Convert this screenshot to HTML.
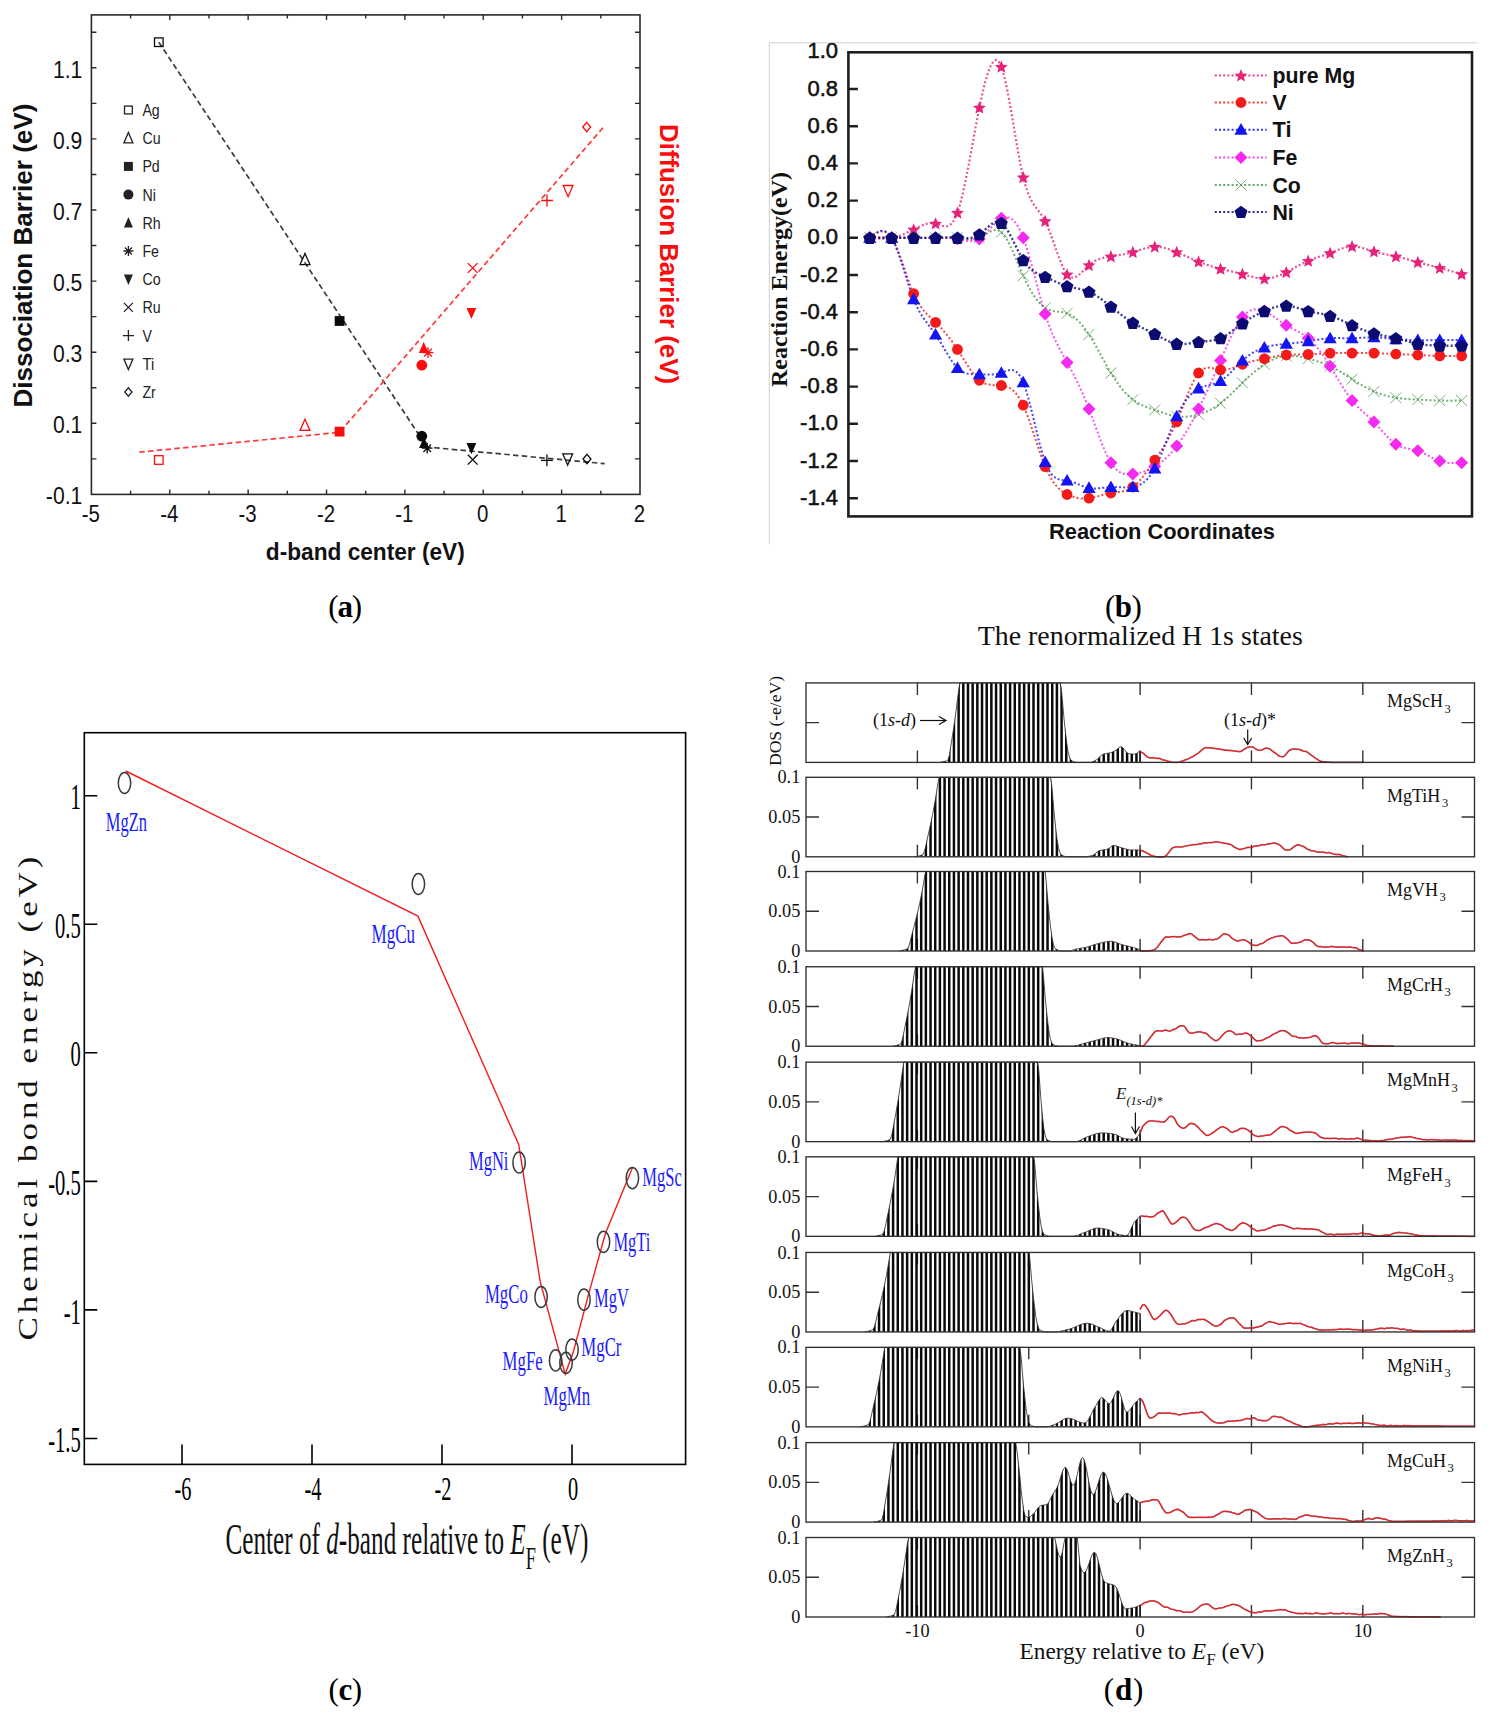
<!DOCTYPE html>
<html><head><meta charset="utf-8"><title>Figure</title>
<style>html,body{margin:0;padding:0;background:#fff;width:1494px;height:1715px;overflow:hidden}svg{display:block}</style>
</head><body>
<svg width="1494" height="1715" viewBox="0 0 1494 1715">
<rect width="1494" height="1715" fill="#fff"/>
<g id="pa">
<rect x="91.4" y="14.9" width="548.6" height="479.5" fill="none" stroke="#2a2a2a" stroke-width="1.6"/>
<path d="M130.59,494.4 v-3.7 M130.59,14.9 v3.7 M169.77,494.4 v-5 M169.77,14.9 v5 M208.96,494.4 v-3.7 M208.96,14.9 v3.7 M248.14,494.4 v-5 M248.14,14.9 v5 M287.33,494.4 v-3.7 M287.33,14.9 v3.7 M326.51,494.4 v-5 M326.51,14.9 v5 M365.7,494.4 v-3.7 M365.7,14.9 v3.7 M404.88,494.4 v-5 M404.88,14.9 v5 M444.07,494.4 v-3.7 M444.07,14.9 v3.7 M483.25,494.4 v-5 M483.25,14.9 v5 M522.44,494.4 v-3.7 M522.44,14.9 v3.7 M561.62,494.4 v-5 M561.62,14.9 v5 M600.81,494.4 v-3.7 M600.81,14.9 v3.7 M91.4,458.85 h5 M640,458.85 h-5 M91.4,423.3 h5 M640,423.3 h-5 M91.4,387.75 h5 M640,387.75 h-5 M91.4,352.2 h5 M640,352.2 h-5 M91.4,316.65 h5 M640,316.65 h-5 M91.4,281.1 h5 M640,281.1 h-5 M91.4,245.55 h5 M640,245.55 h-5 M91.4,210 h5 M640,210 h-5 M91.4,174.45 h5 M640,174.45 h-5 M91.4,138.9 h5 M640,138.9 h-5 M91.4,103.35 h5 M640,103.35 h-5 M91.4,67.8 h5 M640,67.8 h-5 M91.4,32.25 h5 M640,32.25 h-5 " stroke="#2a2a2a" stroke-width="1.4"/>
<text x="82.3" y="77.6" font-family="'Liberation Sans', sans-serif" font-size="24.3" text-anchor="end" fill="#111" textLength="29.39" lengthAdjust="spacingAndGlyphs">1.1</text>
<text x="82.3" y="148.7" font-family="'Liberation Sans', sans-serif" font-size="24.3" text-anchor="end" fill="#111" textLength="29.39" lengthAdjust="spacingAndGlyphs">0.9</text>
<text x="82.3" y="219.8" font-family="'Liberation Sans', sans-serif" font-size="24.3" text-anchor="end" fill="#111" textLength="29.39" lengthAdjust="spacingAndGlyphs">0.7</text>
<text x="82.3" y="290.9" font-family="'Liberation Sans', sans-serif" font-size="24.3" text-anchor="end" fill="#111" textLength="29.39" lengthAdjust="spacingAndGlyphs">0.5</text>
<text x="82.3" y="362" font-family="'Liberation Sans', sans-serif" font-size="24.3" text-anchor="end" fill="#111" textLength="29.39" lengthAdjust="spacingAndGlyphs">0.3</text>
<text x="82.3" y="433.1" font-family="'Liberation Sans', sans-serif" font-size="24.3" text-anchor="end" fill="#111" textLength="29.39" lengthAdjust="spacingAndGlyphs">0.1</text>
<text x="82.3" y="504.2" font-family="'Liberation Sans', sans-serif" font-size="24.3" text-anchor="end" fill="#111" textLength="36.43" lengthAdjust="spacingAndGlyphs">-0.1</text>
<text x="90.9" y="522.2" font-family="'Liberation Sans', sans-serif" font-size="23.5" text-anchor="middle" fill="#111" textLength="18.18" lengthAdjust="spacingAndGlyphs">-5</text>
<text x="169.27" y="522.2" font-family="'Liberation Sans', sans-serif" font-size="23.5" text-anchor="middle" fill="#111" textLength="18.18" lengthAdjust="spacingAndGlyphs">-4</text>
<text x="247.64" y="522.2" font-family="'Liberation Sans', sans-serif" font-size="23.5" text-anchor="middle" fill="#111" textLength="18.18" lengthAdjust="spacingAndGlyphs">-3</text>
<text x="326.01" y="522.2" font-family="'Liberation Sans', sans-serif" font-size="23.5" text-anchor="middle" fill="#111" textLength="18.18" lengthAdjust="spacingAndGlyphs">-2</text>
<text x="404.38" y="522.2" font-family="'Liberation Sans', sans-serif" font-size="23.5" text-anchor="middle" fill="#111" textLength="18.18" lengthAdjust="spacingAndGlyphs">-1</text>
<text x="482.75" y="522.2" font-family="'Liberation Sans', sans-serif" font-size="23.5" text-anchor="middle" fill="#111" textLength="11.37" lengthAdjust="spacingAndGlyphs">0</text>
<text x="561.12" y="522.2" font-family="'Liberation Sans', sans-serif" font-size="23.5" text-anchor="middle" fill="#111" textLength="11.37" lengthAdjust="spacingAndGlyphs">1</text>
<text x="639.49" y="522.2" font-family="'Liberation Sans', sans-serif" font-size="23.5" text-anchor="middle" fill="#111" textLength="11.37" lengthAdjust="spacingAndGlyphs">2</text>
<text transform="translate(31.6,255.6) rotate(-90)" text-anchor="middle" font-family="'Liberation Sans', sans-serif" font-weight="bold" font-size="25" fill="#111" textLength="304" lengthAdjust="spacingAndGlyphs">Dissociation Barrier (eV)</text>
<text transform="translate(660,254) rotate(90)" text-anchor="middle" font-family="'Liberation Sans', sans-serif" font-weight="bold" font-size="25" fill="#fa0d0d" textLength="260" lengthAdjust="spacingAndGlyphs">Diffusion Barrier (eV)</text>
<text x="365.3" y="559.5" font-family="'Liberation Sans', sans-serif" font-size="24" font-weight="bold" text-anchor="middle" fill="#111" textLength="199" lengthAdjust="spacingAndGlyphs">d-band center (eV)</text>
<rect x="124.5" y="106.1" width="7.8" height="7.8" fill="none" stroke="#222" stroke-width="1.3"/>
<text x="142.4" y="115.9" font-family="'Liberation Sans', sans-serif" font-size="16.5" fill="#222" textLength="17.36" lengthAdjust="spacingAndGlyphs">Ag</text>
<polygon points="128.4,132.5 132.9,142.9 123.9,142.9" fill="none" stroke="#222" stroke-width="1.3" stroke-linejoin="miter"/>
<text x="142.4" y="144.1" font-family="'Liberation Sans', sans-serif" font-size="16.5" fill="#222" textLength="18.14" lengthAdjust="spacingAndGlyphs">Cu</text>
<rect x="123.9" y="161.9" width="9" height="9" fill="#222"/>
<text x="142.4" y="172.3" font-family="'Liberation Sans', sans-serif" font-size="16.5" fill="#222" textLength="17.36" lengthAdjust="spacingAndGlyphs">Pd</text>
<circle cx="128.4" cy="194.6" r="5" fill="#222"/>
<text x="142.4" y="200.5" font-family="'Liberation Sans', sans-serif" font-size="16.5" fill="#222" textLength="13.4" lengthAdjust="spacingAndGlyphs">Ni</text>
<polygon points="128.4,217.1 132.9,227.5 123.9,227.5" fill="#222"/>
<text x="142.4" y="228.7" font-family="'Liberation Sans', sans-serif" font-size="16.5" fill="#222" textLength="18.14" lengthAdjust="spacingAndGlyphs">Rh</text>
<path d="M123.4,251 L133.4,251 M124.86,247.46 L131.94,254.54 M128.4,246 L128.4,256 M131.94,247.46 L124.86,254.54 " stroke="#222" stroke-width="1.3"/>
<text x="142.4" y="256.9" font-family="'Liberation Sans', sans-serif" font-size="16.5" fill="#222" textLength="16.56" lengthAdjust="spacingAndGlyphs">Fe</text>
<polygon points="128.4,284.9 132.9,274.5 123.9,274.5" fill="#222"/>
<text x="142.4" y="285.1" font-family="'Liberation Sans', sans-serif" font-size="16.5" fill="#222" textLength="18.14" lengthAdjust="spacingAndGlyphs">Co</text>
<path d="M123.9,302.9 L132.9,311.9 M123.9,311.9 L132.9,302.9" stroke="#222" stroke-width="1.3"/>
<text x="142.4" y="313.3" font-family="'Liberation Sans', sans-serif" font-size="16.5" fill="#222" textLength="18.14" lengthAdjust="spacingAndGlyphs">Ru</text>
<path d="M122.9,335.6 L133.9,335.6 M128.4,330.1 L128.4,341.1" stroke="#222" stroke-width="1.3"/>
<text x="142.4" y="341.5" font-family="'Liberation Sans', sans-serif" font-size="16.5" fill="#222" textLength="9.46" lengthAdjust="spacingAndGlyphs">V</text>
<polygon points="128.4,369.5 132.9,359.1 123.9,359.1" fill="none" stroke="#222" stroke-width="1.3"/>
<text x="142.4" y="369.7" font-family="'Liberation Sans', sans-serif" font-size="16.5" fill="#222" textLength="11.82" lengthAdjust="spacingAndGlyphs">Ti</text>
<polygon points="128.4,387.73 132.03,392 128.4,396.27 124.77,392" fill="none" stroke="#222" stroke-width="1.3"/>
<text x="142.4" y="397.9" font-family="'Liberation Sans', sans-serif" font-size="16.5" fill="#222" textLength="13.39" lengthAdjust="spacingAndGlyphs">Zr</text>
<path d="M158.8,42.2 L427,447 L604.7,463.7" fill="none" stroke="#3c3c3c" stroke-width="1.7" stroke-dasharray="5.5 3.3"/>
<path d="M139.3,452.2 L339.6,432.3 L604.3,126.2" fill="none" stroke="#ff3a3a" stroke-width="1.7" stroke-dasharray="5.5 3.3"/>
<rect x="154.5" y="37.9" width="8.6" height="8.6" fill="none" stroke="#0a0a0a" stroke-width="1.3"/>
<polygon points="305,253.4 309.9,264.6 300.1,264.6" fill="none" stroke="#0a0a0a" stroke-width="1.3" stroke-linejoin="miter"/>
<rect x="334.7" y="316.1" width="9.8" height="9.8" fill="#0a0a0a"/>
<circle cx="421.8" cy="436.2" r="5.4" fill="#0a0a0a"/>
<polygon points="424,436.9 428.9,448.1 419.1,448.1" fill="#0a0a0a"/>
<path d="M421.8,448.2 L432.6,448.2 M423.38,444.38 L431.02,452.02 M427.2,442.8 L427.2,453.6 M431.02,444.38 L423.38,452.02 " stroke="#0a0a0a" stroke-width="1.3"/>
<polygon points="471.4,454.3 476.3,443.1 466.5,443.1" fill="#0a0a0a"/>
<path d="M467.8,454.8 L477.6,464.6 M467.8,464.6 L477.6,454.8" stroke="#0a0a0a" stroke-width="1.3"/>
<path d="M541,460.3 L552.8,460.3 M546.9,454.4 L546.9,466.2" stroke="#0a0a0a" stroke-width="1.3"/>
<polygon points="567.7,465.1 572.6,453.9 562.8,453.9" fill="none" stroke="#0a0a0a" stroke-width="1.3"/>
<polygon points="587,454.35 590.96,459 587,463.65 583.04,459" fill="none" stroke="#0a0a0a" stroke-width="1.3"/>
<rect x="154.5" y="455.7" width="8.6" height="8.6" fill="none" stroke="#fa0d0d" stroke-width="1.3"/>
<polygon points="305,419.2 309.9,430.4 300.1,430.4" fill="none" stroke="#fa0d0d" stroke-width="1.3" stroke-linejoin="miter"/>
<rect x="334.7" y="426.7" width="9.8" height="9.8" fill="#fa0d0d"/>
<circle cx="421.8" cy="365.2" r="5.4" fill="#fa0d0d"/>
<polygon points="423.7,341.7 428.6,352.9 418.8,352.9" fill="#fa0d0d"/>
<path d="M422.6,352.6 L433.4,352.6 M424.18,348.78 L431.82,356.42 M428,347.2 L428,358 M431.82,348.78 L424.18,356.42 " stroke="#fa0d0d" stroke-width="1.3"/>
<polygon points="471.4,319.1 476.3,307.9 466.5,307.9" fill="#fa0d0d"/>
<path d="M467.8,263.1 L477.6,272.9 M467.8,272.9 L477.6,263.1" stroke="#fa0d0d" stroke-width="1.3"/>
<path d="M541.1,200.5 L552.9,200.5 M547,194.6 L547,206.4" stroke="#fa0d0d" stroke-width="1.3"/>
<polygon points="568.1,196.7 573,185.5 563.2,185.5" fill="none" stroke="#fa0d0d" stroke-width="1.3"/>
<polygon points="586.7,122.34 590.66,127 586.7,131.66 582.74,127" fill="none" stroke="#fa0d0d" stroke-width="1.3"/>
<text x="345.2" y="617.3" text-anchor="middle" font-family="'Liberation Serif', serif" font-size="31" fill="#000" textLength="34" lengthAdjust="spacing">(<tspan font-weight="bold">a</tspan>)</text>
</g>
<g id="pb">
<path d="M769.3,544.6 V42.8 H1477" fill="none" stroke="#cfcfcf" stroke-width="1"/>
<rect x="848.4" y="52.3" width="623.6" height="464.1" fill="none" stroke="#1e1e1e" stroke-width="2.6"/>
<path d="M848.4,498.2 h9.5 M848.4,461 h9.5 M848.4,423.8 h9.5 M848.4,386.6 h9.5 M848.4,349.4 h9.5 M848.4,312.2 h9.5 M848.4,275 h9.5 M848.4,237.8 h9.5 M848.4,200.6 h9.5 M848.4,163.4 h9.5 M848.4,126.2 h9.5 M848.4,89 h9.5 " stroke="#1e1e1e" stroke-width="2.4"/>
<text x="838" y="504.8" font-family="'Liberation Sans', sans-serif" font-size="22" text-anchor="end" fill="#111" textLength="37.91" lengthAdjust="spacingAndGlyphs" stroke="#111" stroke-width="0.55">-1.4</text>
<text x="838" y="467.6" font-family="'Liberation Sans', sans-serif" font-size="22" text-anchor="end" fill="#111" textLength="37.91" lengthAdjust="spacingAndGlyphs" stroke="#111" stroke-width="0.55">-1.2</text>
<text x="838" y="430.4" font-family="'Liberation Sans', sans-serif" font-size="22" text-anchor="end" fill="#111" textLength="37.91" lengthAdjust="spacingAndGlyphs" stroke="#111" stroke-width="0.55">-1.0</text>
<text x="838" y="393.2" font-family="'Liberation Sans', sans-serif" font-size="22" text-anchor="end" fill="#111" textLength="37.91" lengthAdjust="spacingAndGlyphs" stroke="#111" stroke-width="0.55">-0.8</text>
<text x="838" y="356" font-family="'Liberation Sans', sans-serif" font-size="22" text-anchor="end" fill="#111" textLength="37.91" lengthAdjust="spacingAndGlyphs" stroke="#111" stroke-width="0.55">-0.6</text>
<text x="838" y="318.8" font-family="'Liberation Sans', sans-serif" font-size="22" text-anchor="end" fill="#111" textLength="37.91" lengthAdjust="spacingAndGlyphs" stroke="#111" stroke-width="0.55">-0.4</text>
<text x="838" y="281.6" font-family="'Liberation Sans', sans-serif" font-size="22" text-anchor="end" fill="#111" textLength="37.91" lengthAdjust="spacingAndGlyphs" stroke="#111" stroke-width="0.55">-0.2</text>
<text x="838" y="244.4" font-family="'Liberation Sans', sans-serif" font-size="22" text-anchor="end" fill="#111" textLength="30.58" lengthAdjust="spacingAndGlyphs" stroke="#111" stroke-width="0.55">0.0</text>
<text x="838" y="207.2" font-family="'Liberation Sans', sans-serif" font-size="22" text-anchor="end" fill="#111" textLength="30.58" lengthAdjust="spacingAndGlyphs" stroke="#111" stroke-width="0.55">0.2</text>
<text x="838" y="170" font-family="'Liberation Sans', sans-serif" font-size="22" text-anchor="end" fill="#111" textLength="30.58" lengthAdjust="spacingAndGlyphs" stroke="#111" stroke-width="0.55">0.4</text>
<text x="838" y="132.8" font-family="'Liberation Sans', sans-serif" font-size="22" text-anchor="end" fill="#111" textLength="30.58" lengthAdjust="spacingAndGlyphs" stroke="#111" stroke-width="0.55">0.6</text>
<text x="838" y="95.6" font-family="'Liberation Sans', sans-serif" font-size="22" text-anchor="end" fill="#111" textLength="30.58" lengthAdjust="spacingAndGlyphs" stroke="#111" stroke-width="0.55">0.8</text>
<text x="838" y="58.4" font-family="'Liberation Sans', sans-serif" font-size="22" text-anchor="end" fill="#111" textLength="30.58" lengthAdjust="spacingAndGlyphs" stroke="#111" stroke-width="0.55">1.0</text>
<text transform="translate(786.5,279.5) rotate(-90)" text-anchor="middle" font-family="'Liberation Serif', serif" font-weight="bold" font-size="23" fill="#111" textLength="215" lengthAdjust="spacingAndGlyphs">Reaction Energy(eV)</text>
<text x="1162" y="538.8" font-family="'Liberation Sans', sans-serif" font-size="21.5" font-weight="bold" text-anchor="middle" fill="#111" textLength="226" lengthAdjust="spacingAndGlyphs">Reaction Coordinates</text>
<path d="M869.8,237.8 L872.54,237.8 L875.28,237.81 L878.02,237.81 L880.76,237.81 L883.5,237.81 L886.24,237.81 L888.98,237.81 L891.72,237.8 L894.46,237.79 L897.2,237.78 L899.94,237.78 L902.68,237.77 L905.42,237.77 L908.16,237.77 L910.9,237.78 L913.64,237.8 L916.38,237.83 L919.12,237.86 L921.86,237.89 L924.6,237.91 L927.34,237.92 L930.08,237.9 L932.82,237.87 L935.56,237.8 L938.3,237.7 L941.04,237.58 L943.78,237.48 L946.52,237.4 L949.26,237.37 L952,237.41 L954.74,237.55 L957.48,237.8 L960.22,238.17 L962.96,238.6 L965.7,239.01 L968.44,239.3 L971.18,239.41 L973.92,239.25 L976.66,238.74 L979.4,237.8 L982.14,236.4 L984.88,234.72 L987.62,233 L990.36,231.49 L993.1,230.41 L995.84,230.02 L998.58,230.54 L1001.32,232.22 L1004.06,235.21 L1006.8,239.37 L1009.54,244.46 L1012.28,250.24 L1015.02,256.5 L1017.76,262.98 L1020.5,269.48 L1023.24,275.74 L1025.98,281.59 L1028.72,286.95 L1031.46,291.81 L1034.2,296.15 L1036.94,299.96 L1039.68,303.2 L1042.42,305.86 L1045.16,307.92 L1047.9,309.39 L1050.64,310.36 L1053.38,310.98 L1056.12,311.37 L1058.86,311.67 L1061.6,312 L1064.34,312.51 L1067.08,313.32 L1069.82,314.53 L1072.56,316.18 L1075.3,318.24 L1078.04,320.7 L1080.78,323.58 L1083.52,326.84 L1086.26,330.49 L1089,334.52 L1091.74,338.91 L1094.48,343.58 L1097.22,348.46 L1099.96,353.46 L1102.7,358.5 L1105.44,363.49 L1108.18,368.36 L1110.92,373.02 L1113.66,377.4 L1116.4,381.49 L1119.14,385.28 L1121.88,388.77 L1124.62,391.95 L1127.36,394.82 L1130.1,397.38 L1132.84,399.62 L1135.58,401.55 L1138.32,403.21 L1141.06,404.63 L1143.8,405.87 L1146.54,406.97 L1149.28,407.97 L1152.02,408.91 L1154.76,409.85 L1157.5,410.81 L1160.24,411.79 L1162.98,412.74 L1165.72,413.66 L1168.46,414.5 L1171.2,415.25 L1173.94,415.88 L1176.68,416.36 L1179.42,416.67 L1182.16,416.82 L1184.9,416.8 L1187.64,416.62 L1190.38,416.3 L1193.12,415.84 L1195.86,415.23 L1198.6,414.5 L1201.34,413.64 L1204.08,412.64 L1206.82,411.51 L1209.56,410.22 L1212.3,408.76 L1215.04,407.14 L1217.78,405.33 L1220.52,403.34 L1223.26,401.15 L1226,398.8 L1228.74,396.31 L1231.48,393.71 L1234.22,391.04 L1236.96,388.32 L1239.7,385.59 L1242.44,382.88 L1245.18,380.22 L1247.92,377.62 L1250.66,375.1 L1253.4,372.68 L1256.14,370.38 L1258.88,368.2 L1261.62,366.16 L1264.36,364.28 L1267.1,362.57 L1269.84,361.05 L1272.58,359.7 L1275.32,358.55 L1278.06,357.59 L1280.8,356.82 L1283.54,356.26 L1286.28,355.91 L1289.02,355.76 L1291.76,355.81 L1294.5,356.01 L1297.24,356.36 L1299.98,356.83 L1302.72,357.39 L1305.46,358.02 L1308.2,358.7 L1310.94,359.41 L1313.68,360.15 L1316.42,360.95 L1319.16,361.81 L1321.9,362.74 L1324.64,363.77 L1327.38,364.89 L1330.12,366.14 L1332.86,367.51 L1335.6,368.99 L1338.34,370.57 L1341.08,372.21 L1343.82,373.92 L1346.56,375.65 L1349.3,377.41 L1352.04,379.16 L1354.78,380.89 L1357.52,382.59 L1360.26,384.25 L1363,385.84 L1365.74,387.37 L1368.48,388.82 L1371.22,390.18 L1373.96,391.44 L1376.7,392.58 L1379.44,393.61 L1382.18,394.54 L1384.92,395.36 L1387.66,396.1 L1390.4,396.73 L1393.14,397.29 L1395.88,397.76 L1398.62,398.16 L1401.36,398.49 L1404.1,398.76 L1406.84,398.98 L1409.58,399.17 L1412.32,399.34 L1415.06,399.48 L1417.8,399.62 L1420.54,399.76 L1423.28,399.9 L1426.02,400.03 L1428.76,400.16 L1431.5,400.28 L1434.24,400.39 L1436.98,400.48 L1439.72,400.55 L1442.46,400.6 L1445.2,400.63 L1447.94,400.64 L1450.68,400.64 L1453.42,400.63 L1456.16,400.61 L1458.9,400.58 L1461.64,400.55" fill="none" stroke="#4c9a4c" stroke-width="2.0" stroke-dasharray="2 2.2" opacity="0.8"/>
<path d="M869.8,237.8 L872.54,237.8 L875.28,237.8 L878.02,237.81 L880.76,237.81 L883.5,237.81 L886.24,237.81 L888.98,237.8 L891.72,237.8 L894.46,237.8 L897.2,237.79 L899.94,237.79 L902.68,237.78 L905.42,237.78 L908.16,237.78 L910.9,237.79 L913.64,237.8 L916.38,237.82 L919.12,237.83 L921.86,237.85 L924.6,237.86 L927.34,237.87 L930.08,237.86 L932.82,237.84 L935.56,237.8 L938.3,237.74 L941.04,237.69 L943.78,237.66 L946.52,237.68 L949.26,237.77 L952,237.96 L954.74,238.27 L957.48,238.73 L960.22,239.33 L962.96,239.99 L965.7,240.6 L968.44,241.04 L971.18,241.21 L973.92,240.98 L976.66,240.25 L979.4,238.92 L982.14,236.9 L984.88,234.35 L987.62,231.45 L990.36,228.39 L993.1,225.36 L995.84,222.53 L998.58,220.11 L1001.32,218.27 L1004.06,217.19 L1006.8,216.96 L1009.54,217.66 L1012.28,219.36 L1015.02,222.15 L1017.76,226.1 L1020.5,231.29 L1023.24,237.8 L1025.98,245.64 L1028.72,254.56 L1031.46,264.28 L1034.2,274.47 L1036.94,284.86 L1039.68,295.12 L1042.42,304.95 L1045.16,314.06 L1047.9,322.21 L1050.64,329.48 L1053.38,336 L1056.12,341.92 L1058.86,347.38 L1061.6,352.52 L1064.34,357.49 L1067.08,362.42 L1069.82,367.45 L1072.56,372.62 L1075.3,377.98 L1078.04,383.57 L1080.78,389.41 L1083.52,395.56 L1086.26,402.05 L1089,408.92 L1091.74,416.17 L1094.48,423.64 L1097.22,431.16 L1099.96,438.54 L1102.7,445.58 L1105.44,452.11 L1108.18,457.93 L1110.92,462.86 L1113.66,466.76 L1116.4,469.71 L1119.14,471.82 L1121.88,473.22 L1124.62,474.01 L1127.36,474.33 L1130.1,474.29 L1132.84,474.02 L1135.58,473.61 L1138.32,473.07 L1141.06,472.39 L1143.8,471.57 L1146.54,470.59 L1149.28,469.44 L1152.02,468.1 L1154.76,466.58 L1157.5,464.85 L1160.24,462.92 L1162.98,460.75 L1165.72,458.35 L1168.46,455.7 L1171.2,452.78 L1173.94,449.59 L1176.68,446.12 L1179.42,442.35 L1182.16,438.3 L1184.9,433.98 L1187.64,429.41 L1190.38,424.61 L1193.12,419.58 L1195.86,414.35 L1198.6,408.92 L1201.34,403.32 L1204.08,397.56 L1206.82,391.66 L1209.56,385.63 L1212.3,379.49 L1215.04,373.25 L1217.78,366.94 L1220.52,360.56 L1223.26,354.15 L1226,347.81 L1228.74,341.63 L1231.48,335.73 L1234.22,330.21 L1236.96,325.19 L1239.7,320.76 L1242.44,317.04 L1245.18,314.1 L1247.92,311.91 L1250.66,310.41 L1253.4,309.54 L1256.14,309.24 L1258.88,309.43 L1261.62,310.07 L1264.36,311.08 L1267.1,312.41 L1269.84,314 L1272.58,315.77 L1275.32,317.66 L1278.06,319.62 L1280.8,321.58 L1283.54,323.46 L1286.28,325.22 L1289.02,326.81 L1291.76,328.26 L1294.5,329.67 L1297.24,331.08 L1299.98,332.58 L1302.72,334.22 L1305.46,336.09 L1308.2,338.24 L1310.94,340.73 L1313.68,343.55 L1316.42,346.69 L1319.16,350.1 L1321.9,353.78 L1324.64,357.69 L1327.38,361.82 L1330.12,366.14 L1332.86,370.62 L1335.6,375.18 L1338.34,379.78 L1341.08,384.32 L1343.82,388.74 L1346.56,392.96 L1349.3,396.93 L1352.04,400.55 L1354.78,403.79 L1357.52,406.7 L1360.26,409.37 L1363,411.88 L1365.74,414.31 L1368.48,416.74 L1371.22,419.26 L1373.96,421.94 L1376.7,424.84 L1379.44,427.9 L1382.18,431.02 L1384.92,434.11 L1387.66,437.07 L1390.4,439.82 L1393.14,442.24 L1395.88,444.26 L1398.62,445.81 L1401.36,446.95 L1404.1,447.78 L1406.84,448.41 L1409.58,448.92 L1412.32,449.42 L1415.06,450.01 L1417.8,450.77 L1420.54,451.79 L1423.28,453.01 L1426.02,454.39 L1428.76,455.83 L1431.5,457.28 L1434.24,458.68 L1436.98,459.94 L1439.72,461 L1442.46,461.81 L1445.2,462.4 L1447.94,462.78 L1450.68,462.99 L1453.42,463.08 L1456.16,463.06 L1458.9,462.98 L1461.64,462.86" fill="none" stroke="#f52af0" stroke-width="2.0" stroke-dasharray="2 2.2" opacity="0.8"/>
<path d="M869.8,237.8 L872.54,238.05 L875.28,238.27 L878.02,238.44 L880.76,238.55 L883.5,238.56 L886.24,238.46 L888.98,238.21 L891.72,237.8 L894.46,237.21 L897.2,236.45 L899.94,235.54 L902.68,234.51 L905.42,233.36 L908.16,232.11 L910.9,230.8 L913.64,229.43 L916.38,228.03 L919.12,226.68 L921.86,225.43 L924.6,224.37 L927.34,223.57 L930.08,223.11 L932.82,223.05 L935.56,223.48 L938.3,224.38 L941.04,225.44 L943.78,226.25 L946.52,226.42 L949.26,225.55 L952,223.24 L954.74,219.09 L957.48,212.69 L960.22,203.8 L962.96,192.75 L965.7,180 L968.44,166.04 L971.18,151.35 L973.92,136.39 L976.66,121.65 L979.4,107.6 L982.14,94.69 L984.88,83.31 L987.62,73.79 L990.36,66.5 L993.1,61.79 L995.84,60.02 L998.58,61.53 L1001.32,66.68 L1004.06,75.62 L1006.8,87.69 L1009.54,102.03 L1012.28,117.76 L1015.02,134.02 L1017.76,149.95 L1020.5,164.68 L1023.24,177.35 L1025.98,187.32 L1028.72,194.91 L1031.46,200.67 L1034.2,205.13 L1036.94,208.86 L1039.68,212.39 L1042.42,216.27 L1045.16,221.06 L1047.9,227.13 L1050.64,234.23 L1053.38,241.92 L1056.12,249.78 L1058.86,257.39 L1061.6,264.32 L1064.34,270.15 L1067.08,274.44 L1069.82,276.9 L1072.56,277.71 L1075.3,277.18 L1078.04,275.61 L1080.78,273.32 L1083.52,270.6 L1086.26,267.78 L1089,265.14 L1091.74,262.95 L1094.48,261.19 L1097.22,259.82 L1099.96,258.75 L1102.7,257.94 L1105.44,257.32 L1108.18,256.83 L1110.92,256.4 L1113.66,255.98 L1116.4,255.55 L1119.14,255.11 L1121.88,254.62 L1124.62,254.1 L1127.36,253.51 L1130.1,252.86 L1132.84,252.12 L1135.58,251.3 L1138.32,250.44 L1141.06,249.56 L1143.8,248.74 L1146.54,247.99 L1149.28,247.38 L1152.02,246.94 L1154.76,246.73 L1157.5,246.77 L1160.24,247.04 L1162.98,247.53 L1165.72,248.19 L1168.46,249.02 L1171.2,249.96 L1173.94,251.01 L1176.68,252.12 L1179.42,253.28 L1182.16,254.47 L1184.9,255.68 L1187.64,256.9 L1190.38,258.11 L1193.12,259.31 L1195.86,260.48 L1198.6,261.61 L1201.34,262.69 L1204.08,263.73 L1206.82,264.71 L1209.56,265.64 L1212.3,266.52 L1215.04,267.35 L1217.78,268.13 L1220.52,268.86 L1223.26,269.54 L1226,270.18 L1228.74,270.8 L1231.48,271.42 L1234.22,272.03 L1236.96,272.67 L1239.7,273.35 L1242.44,274.07 L1245.18,274.85 L1247.92,275.65 L1250.66,276.44 L1253.4,277.17 L1256.14,277.8 L1258.88,278.3 L1261.62,278.62 L1264.36,278.72 L1267.1,278.57 L1269.84,278.19 L1272.58,277.6 L1275.32,276.82 L1278.06,275.86 L1280.8,274.76 L1283.54,273.54 L1286.28,272.21 L1289.02,270.8 L1291.76,269.34 L1294.5,267.85 L1297.24,266.36 L1299.98,264.89 L1302.72,263.46 L1305.46,262.12 L1308.2,260.86 L1310.94,259.73 L1313.68,258.69 L1316.42,257.73 L1319.16,256.81 L1321.9,255.91 L1324.64,255 L1327.38,254.05 L1330.12,253.05 L1332.86,251.98 L1335.6,250.86 L1338.34,249.77 L1341.08,248.74 L1343.82,247.84 L1346.56,247.1 L1349.3,246.59 L1352.04,246.36 L1354.78,246.43 L1357.52,246.77 L1360.26,247.34 L1363,248.07 L1365.74,248.91 L1368.48,249.81 L1371.22,250.71 L1373.96,251.56 L1376.7,252.33 L1379.44,253.01 L1382.18,253.62 L1384.92,254.19 L1387.66,254.73 L1390.4,255.27 L1393.14,255.82 L1395.88,256.4 L1398.62,257.03 L1401.36,257.7 L1404.1,258.41 L1406.84,259.14 L1409.58,259.89 L1412.32,260.65 L1415.06,261.41 L1417.8,262.17 L1420.54,262.91 L1423.28,263.63 L1426.02,264.35 L1428.76,265.06 L1431.5,265.77 L1434.24,266.49 L1436.98,267.2 L1439.72,267.93 L1442.46,268.67 L1445.2,269.42 L1447.94,270.18 L1450.68,270.95 L1453.42,271.72 L1456.16,272.5 L1458.9,273.29 L1461.64,274.07" fill="none" stroke="#e6237b" stroke-width="2.2" stroke-dasharray="2 2.2" opacity="0.8"/>
<path d="M869.8,237.8 L872.54,235.73 L875.28,233.86 L878.02,232.39 L880.76,231.5 L883.5,231.4 L886.24,232.29 L888.98,234.36 L891.72,237.8 L894.46,242.73 L897.2,248.91 L899.94,256 L902.68,263.67 L905.42,271.6 L908.16,279.45 L910.9,286.89 L913.64,293.6 L916.38,299.32 L919.12,304.13 L921.86,308.18 L924.6,311.62 L927.34,314.61 L930.08,317.31 L932.82,319.86 L935.56,322.43 L938.3,325.14 L941.04,328.02 L943.78,331.08 L946.52,334.34 L949.26,337.79 L952,341.44 L954.74,345.31 L957.48,349.4 L960.22,353.7 L962.96,358.11 L965.7,362.51 L968.44,366.78 L971.18,370.82 L973.92,374.49 L976.66,377.68 L979.4,380.28 L982.14,382.2 L984.88,383.52 L987.62,384.36 L990.36,384.84 L993.1,385.07 L995.84,385.18 L998.58,385.28 L1001.32,385.48 L1004.06,385.92 L1006.8,386.69 L1009.54,387.93 L1012.28,389.75 L1015.02,392.27 L1017.76,395.6 L1020.5,399.87 L1023.24,405.2 L1025.98,411.63 L1028.72,418.97 L1031.46,426.93 L1034.2,435.24 L1036.94,443.64 L1039.68,451.84 L1042.42,459.58 L1045.16,466.58 L1047.9,472.63 L1050.64,477.76 L1053.38,482.07 L1056.12,485.65 L1058.86,488.58 L1061.6,490.97 L1064.34,492.91 L1067.08,494.48 L1069.82,495.77 L1072.56,496.81 L1075.3,497.59 L1078.04,498.14 L1080.78,498.47 L1083.52,498.58 L1086.26,498.49 L1089,498.2 L1091.74,497.74 L1094.48,497.13 L1097.22,496.43 L1099.96,495.68 L1102.7,494.91 L1105.44,494.18 L1108.18,493.53 L1110.92,492.99 L1113.66,492.6 L1116.4,492.28 L1119.14,491.95 L1121.88,491.52 L1124.62,490.9 L1127.36,490.01 L1130.1,488.75 L1132.84,487.04 L1135.58,484.82 L1138.32,482.13 L1141.06,479.04 L1143.8,475.63 L1146.54,471.95 L1149.28,468.09 L1152.02,464.1 L1154.76,460.07 L1157.5,456.03 L1160.24,451.94 L1162.98,447.71 L1165.72,443.28 L1168.46,438.56 L1171.2,433.48 L1173.94,427.97 L1176.68,421.94 L1179.42,415.38 L1182.16,408.46 L1184.9,401.44 L1187.64,394.54 L1190.38,388.02 L1193.12,382.09 L1195.86,377.02 L1198.6,373.02 L1201.34,370.28 L1204.08,368.64 L1206.82,367.88 L1209.56,367.8 L1212.3,368.18 L1215.04,368.79 L1217.78,369.42 L1220.52,369.86 L1223.26,369.93 L1226,369.65 L1228.74,369.09 L1231.48,368.31 L1234.22,367.37 L1236.96,366.34 L1239.7,365.29 L1242.44,364.28 L1245.18,363.36 L1247.92,362.53 L1250.66,361.78 L1253.4,361.09 L1256.14,360.45 L1258.88,359.85 L1261.62,359.27 L1264.36,358.7 L1267.1,358.13 L1269.84,357.57 L1272.58,357.02 L1275.32,356.51 L1278.06,356.03 L1280.8,355.61 L1283.54,355.26 L1286.28,354.98 L1289.02,354.79 L1291.76,354.66 L1294.5,354.59 L1297.24,354.55 L1299.98,354.54 L1302.72,354.52 L1305.46,354.49 L1308.2,354.42 L1310.94,354.31 L1313.68,354.16 L1316.42,353.98 L1319.16,353.78 L1321.9,353.59 L1324.64,353.41 L1327.38,353.24 L1330.12,353.12 L1332.86,353.04 L1335.6,353 L1338.34,352.99 L1341.08,353 L1343.82,353.03 L1346.56,353.07 L1349.3,353.1 L1352.04,353.12 L1354.78,353.12 L1357.52,353.12 L1360.26,353.1 L1363,353.08 L1365.74,353.07 L1368.48,353.07 L1371.22,353.08 L1373.96,353.12 L1376.7,353.19 L1379.44,353.27 L1382.18,353.38 L1384.92,353.51 L1387.66,353.64 L1390.4,353.78 L1393.14,353.92 L1395.88,354.05 L1398.62,354.18 L1401.36,354.29 L1404.1,354.41 L1406.84,354.52 L1409.58,354.63 L1412.32,354.74 L1415.06,354.86 L1417.8,354.98 L1420.54,355.11 L1423.28,355.24 L1426.02,355.38 L1428.76,355.51 L1431.5,355.63 L1434.24,355.74 L1436.98,355.84 L1439.72,355.91 L1442.46,355.96 L1445.2,355.99 L1447.94,356.01 L1450.68,356.01 L1453.42,355.99 L1456.16,355.97 L1458.9,355.94 L1461.64,355.91" fill="none" stroke="#f41a1a" stroke-width="2.0" stroke-dasharray="2 2.2" opacity="0.8"/>
<path d="M869.8,237.8 L872.54,235.53 L875.28,233.48 L878.02,231.87 L880.76,230.89 L883.5,230.79 L886.24,231.76 L888.98,234.02 L891.72,237.8 L894.46,243.21 L897.2,249.98 L899.94,257.76 L902.68,266.19 L905.42,274.9 L908.16,283.55 L910.9,291.76 L913.64,299.18 L916.38,305.54 L919.12,310.95 L921.86,315.61 L924.6,319.71 L927.34,323.45 L930.08,327.04 L932.82,330.66 L935.56,334.52 L938.3,338.76 L941.04,343.28 L943.78,347.94 L946.52,352.59 L949.26,357.07 L952,361.23 L954.74,364.92 L957.48,368 L960.22,370.35 L962.96,372.04 L965.7,373.18 L968.44,373.87 L971.18,374.22 L973.92,374.34 L976.66,374.34 L979.4,374.32 L982.14,374.37 L984.88,374.45 L987.62,374.53 L990.36,374.53 L993.1,374.42 L995.84,374.13 L998.58,373.62 L1001.32,372.84 L1004.06,371.78 L1006.8,370.73 L1009.54,369.99 L1012.28,369.89 L1015.02,370.75 L1017.76,372.89 L1020.5,376.64 L1023.24,382.32 L1025.98,390.11 L1028.72,399.61 L1031.46,410.27 L1034.2,421.56 L1036.94,432.93 L1039.68,443.85 L1042.42,453.75 L1045.16,462.12 L1047.9,468.53 L1050.64,473.16 L1053.38,476.32 L1056.12,478.29 L1058.86,479.4 L1061.6,479.94 L1064.34,480.21 L1067.08,480.53 L1069.82,481.13 L1072.56,481.99 L1075.3,483.03 L1078.04,484.16 L1080.78,485.31 L1083.52,486.38 L1086.26,487.3 L1089,487.97 L1091.74,488.34 L1094.48,488.46 L1097.22,488.37 L1099.96,488.14 L1102.7,487.83 L1105.44,487.5 L1108.18,487.22 L1110.92,487.04 L1113.66,487.01 L1116.4,487.09 L1119.14,487.24 L1121.88,487.39 L1124.62,487.5 L1127.36,487.51 L1130.1,487.38 L1132.84,487.04 L1135.58,486.44 L1138.32,485.51 L1141.06,484.16 L1143.8,482.33 L1146.54,479.91 L1149.28,476.85 L1152.02,473.05 L1154.76,468.44 L1157.5,462.98 L1160.24,456.83 L1162.98,450.19 L1165.72,443.24 L1168.46,436.18 L1171.2,429.22 L1173.94,422.55 L1176.68,416.36 L1179.42,410.82 L1182.16,405.93 L1184.9,401.65 L1187.64,397.97 L1190.38,394.84 L1193.12,392.23 L1195.86,390.12 L1198.6,388.46 L1201.34,387.22 L1204.08,386.29 L1206.82,385.57 L1209.56,384.93 L1212.3,384.27 L1215.04,383.48 L1217.78,382.43 L1220.52,381.02 L1223.26,379.17 L1226,376.93 L1228.74,374.41 L1231.48,371.68 L1234.22,368.83 L1236.96,365.97 L1239.7,363.19 L1242.44,360.56 L1245.18,358.17 L1247.92,356.03 L1250.66,354.11 L1253.4,352.41 L1256.14,350.92 L1258.88,349.61 L1261.62,348.49 L1264.36,347.54 L1267.1,346.74 L1269.84,346.08 L1272.58,345.53 L1275.32,345.08 L1278.06,344.7 L1280.8,344.38 L1283.54,344.09 L1286.28,343.82 L1289.02,343.55 L1291.76,343.26 L1294.5,342.97 L1297.24,342.66 L1299.98,342.34 L1302.72,341.99 L1305.46,341.62 L1308.2,341.22 L1310.94,340.79 L1313.68,340.34 L1316.42,339.9 L1319.16,339.47 L1321.9,339.08 L1324.64,338.73 L1327.38,338.45 L1330.12,338.24 L1332.86,338.12 L1335.6,338.08 L1338.34,338.09 L1341.08,338.14 L1343.82,338.19 L1346.56,338.24 L1349.3,338.27 L1352.04,338.24 L1354.78,338.15 L1357.52,338.02 L1360.26,337.85 L1363,337.68 L1365.74,337.52 L1368.48,337.39 L1371.22,337.31 L1373.96,337.31 L1376.7,337.39 L1379.44,337.55 L1382.18,337.77 L1384.92,338.04 L1387.66,338.32 L1390.4,338.62 L1393.14,338.91 L1395.88,339.17 L1398.62,339.39 L1401.36,339.58 L1404.1,339.73 L1406.84,339.85 L1409.58,339.94 L1412.32,340.01 L1415.06,340.07 L1417.8,340.1 L1420.54,340.12 L1423.28,340.13 L1426.02,340.14 L1428.76,340.14 L1431.5,340.13 L1434.24,340.12 L1436.98,340.11 L1439.72,340.1 L1442.46,340.09 L1445.2,340.09 L1447.94,340.09 L1450.68,340.09 L1453.42,340.09 L1456.16,340.09 L1458.9,340.1 L1461.64,340.1" fill="none" stroke="#1414f0" stroke-width="2.0" stroke-dasharray="2 2.2" opacity="0.8"/>
<path d="M869.8,237.8 L872.54,237.8 L875.28,237.8 L878.02,237.8 L880.76,237.81 L883.5,237.81 L886.24,237.8 L888.98,237.8 L891.72,237.8 L894.46,237.8 L897.2,237.79 L899.94,237.79 L902.68,237.78 L905.42,237.78 L908.16,237.78 L910.9,237.79 L913.64,237.8 L916.38,237.81 L919.12,237.83 L921.86,237.85 L924.6,237.86 L927.34,237.86 L930.08,237.86 L932.82,237.84 L935.56,237.8 L938.3,237.75 L941.04,237.69 L943.78,237.63 L946.52,237.59 L949.26,237.57 L952,237.59 L954.74,237.67 L957.48,237.8 L960.22,237.99 L962.96,238.17 L965.7,238.27 L968.44,238.18 L971.18,237.84 L973.92,237.16 L976.66,236.06 L979.4,234.45 L982.14,232.32 L984.88,229.85 L987.62,227.33 L990.36,225 L993.1,223.13 L995.84,221.99 L998.58,221.83 L1001.32,222.92 L1004.06,225.42 L1006.8,229.14 L1009.54,233.76 L1012.28,239 L1015.02,244.55 L1017.76,250.12 L1020.5,255.41 L1023.24,260.12 L1025.98,264.02 L1028.72,267.16 L1031.46,269.66 L1034.2,271.65 L1036.94,273.24 L1039.68,274.56 L1042.42,275.73 L1045.16,276.86 L1047.9,278.06 L1050.64,279.31 L1053.38,280.59 L1056.12,281.85 L1058.86,283.08 L1061.6,284.22 L1064.34,285.26 L1067.08,286.16 L1069.82,286.9 L1072.56,287.51 L1075.3,288.06 L1078.04,288.6 L1080.78,289.19 L1083.52,289.87 L1086.26,290.7 L1089,291.74 L1091.74,293.03 L1094.48,294.54 L1097.22,296.26 L1099.96,298.13 L1102.7,300.14 L1105.44,302.25 L1108.18,304.42 L1110.92,306.62 L1113.66,308.83 L1116.4,311.01 L1119.14,313.17 L1121.88,315.27 L1124.62,317.3 L1127.36,319.24 L1130.1,321.08 L1132.84,322.8 L1135.58,324.39 L1138.32,325.86 L1141.06,327.26 L1143.8,328.6 L1146.54,329.91 L1149.28,331.22 L1152.02,332.56 L1154.76,333.96 L1157.5,335.43 L1160.24,336.94 L1162.98,338.43 L1165.72,339.85 L1168.46,341.15 L1171.2,342.28 L1173.94,343.19 L1176.68,343.82 L1179.42,344.14 L1182.16,344.2 L1184.9,344.04 L1187.64,343.72 L1190.38,343.3 L1193.12,342.82 L1195.86,342.36 L1198.6,341.96 L1201.34,341.66 L1204.08,341.42 L1206.82,341.19 L1209.56,340.92 L1212.3,340.54 L1215.04,340 L1217.78,339.26 L1220.52,338.24 L1223.26,336.92 L1226,335.33 L1228.74,333.54 L1231.48,331.59 L1234.22,329.54 L1236.96,327.45 L1239.7,325.37 L1242.44,323.36 L1245.18,321.47 L1247.92,319.69 L1250.66,318.03 L1253.4,316.47 L1256.14,315 L1258.88,313.62 L1261.62,312.31 L1264.36,311.08 L1267.1,309.92 L1269.84,308.85 L1272.58,307.89 L1275.32,307.07 L1278.06,306.41 L1280.8,305.95 L1283.54,305.7 L1286.28,305.69 L1289.02,305.93 L1291.76,306.4 L1294.5,307.03 L1297.24,307.79 L1299.98,308.62 L1302.72,309.48 L1305.46,310.31 L1308.2,311.08 L1310.94,311.75 L1313.68,312.34 L1316.42,312.87 L1319.16,313.39 L1321.9,313.92 L1324.64,314.5 L1327.38,315.15 L1330.12,315.92 L1332.86,316.82 L1335.6,317.84 L1338.34,318.96 L1341.08,320.16 L1343.82,321.41 L1346.56,322.68 L1349.3,323.96 L1352.04,325.22 L1354.78,326.44 L1357.52,327.62 L1360.26,328.74 L1363,329.81 L1365.74,330.82 L1368.48,331.75 L1371.22,332.62 L1373.96,333.4 L1376.7,334.11 L1379.44,334.75 L1382.18,335.34 L1384.92,335.91 L1387.66,336.46 L1390.4,337.02 L1393.14,337.61 L1395.88,338.24 L1398.62,338.93 L1401.36,339.66 L1404.1,340.41 L1406.84,341.17 L1409.58,341.91 L1412.32,342.61 L1415.06,343.25 L1417.8,343.82 L1420.54,344.29 L1423.28,344.68 L1426.02,344.98 L1428.76,345.22 L1431.5,345.4 L1434.24,345.53 L1436.98,345.62 L1439.72,345.68 L1442.46,345.72 L1445.2,345.75 L1447.94,345.76 L1450.68,345.76 L1453.42,345.75 L1456.16,345.73 L1458.9,345.71 L1461.64,345.68" fill="none" stroke="#0b0b72" stroke-width="2.4" stroke-dasharray="2 2.2" opacity="0.8"/>
<path d="M864.3,232.3 L875.3,243.3 M864.3,243.3 L875.3,232.3" stroke="#4c9a4c" stroke-width="1" opacity="0.75"/>
<path d="M886.22,232.3 L897.22,243.3 M886.22,243.3 L897.22,232.3" stroke="#4c9a4c" stroke-width="1" opacity="0.75"/>
<path d="M908.14,232.3 L919.14,243.3 M908.14,243.3 L919.14,232.3" stroke="#4c9a4c" stroke-width="1" opacity="0.75"/>
<path d="M930.06,232.3 L941.06,243.3 M930.06,243.3 L941.06,232.3" stroke="#4c9a4c" stroke-width="1" opacity="0.75"/>
<path d="M951.98,232.3 L962.98,243.3 M951.98,243.3 L962.98,232.3" stroke="#4c9a4c" stroke-width="1" opacity="0.75"/>
<path d="M973.9,232.3 L984.9,243.3 M973.9,243.3 L984.9,232.3" stroke="#4c9a4c" stroke-width="1" opacity="0.75"/>
<path d="M995.82,226.72 L1006.82,237.72 M995.82,237.72 L1006.82,226.72" stroke="#4c9a4c" stroke-width="1" opacity="0.75"/>
<path d="M1017.74,270.24 L1028.74,281.24 M1017.74,281.24 L1028.74,270.24" stroke="#4c9a4c" stroke-width="1" opacity="0.75"/>
<path d="M1039.66,302.42 L1050.66,313.42 M1039.66,313.42 L1050.66,302.42" stroke="#4c9a4c" stroke-width="1" opacity="0.75"/>
<path d="M1061.58,307.82 L1072.58,318.82 M1061.58,318.82 L1072.58,307.82" stroke="#4c9a4c" stroke-width="1" opacity="0.75"/>
<path d="M1083.5,329.02 L1094.5,340.02 M1083.5,340.02 L1094.5,329.02" stroke="#4c9a4c" stroke-width="1" opacity="0.75"/>
<path d="M1105.42,367.52 L1116.42,378.52 M1105.42,378.52 L1116.42,367.52" stroke="#4c9a4c" stroke-width="1" opacity="0.75"/>
<path d="M1127.34,394.12 L1138.34,405.12 M1127.34,405.12 L1138.34,394.12" stroke="#4c9a4c" stroke-width="1" opacity="0.75"/>
<path d="M1149.26,404.35 L1160.26,415.35 M1149.26,415.35 L1160.26,404.35" stroke="#4c9a4c" stroke-width="1" opacity="0.75"/>
<path d="M1171.18,410.86 L1182.18,421.86 M1171.18,421.86 L1182.18,410.86" stroke="#4c9a4c" stroke-width="1" opacity="0.75"/>
<path d="M1193.1,409 L1204.1,420 M1193.1,420 L1204.1,409" stroke="#4c9a4c" stroke-width="1" opacity="0.75"/>
<path d="M1215.02,397.84 L1226.02,408.84 M1215.02,408.84 L1226.02,397.84" stroke="#4c9a4c" stroke-width="1" opacity="0.75"/>
<path d="M1236.94,377.38 L1247.94,388.38 M1236.94,388.38 L1247.94,377.38" stroke="#4c9a4c" stroke-width="1" opacity="0.75"/>
<path d="M1258.86,358.78 L1269.86,369.78 M1258.86,369.78 L1269.86,358.78" stroke="#4c9a4c" stroke-width="1" opacity="0.75"/>
<path d="M1280.78,350.41 L1291.78,361.41 M1280.78,361.41 L1291.78,350.41" stroke="#4c9a4c" stroke-width="1" opacity="0.75"/>
<path d="M1302.7,353.2 L1313.7,364.2 M1302.7,364.2 L1313.7,353.2" stroke="#4c9a4c" stroke-width="1" opacity="0.75"/>
<path d="M1324.62,360.64 L1335.62,371.64 M1324.62,371.64 L1335.62,360.64" stroke="#4c9a4c" stroke-width="1" opacity="0.75"/>
<path d="M1346.54,373.66 L1357.54,384.66 M1346.54,384.66 L1357.54,373.66" stroke="#4c9a4c" stroke-width="1" opacity="0.75"/>
<path d="M1368.46,385.94 L1379.46,396.94 M1368.46,396.94 L1379.46,385.94" stroke="#4c9a4c" stroke-width="1" opacity="0.75"/>
<path d="M1390.38,392.26 L1401.38,403.26 M1390.38,403.26 L1401.38,392.26" stroke="#4c9a4c" stroke-width="1" opacity="0.75"/>
<path d="M1412.3,394.12 L1423.3,405.12 M1412.3,405.12 L1423.3,394.12" stroke="#4c9a4c" stroke-width="1" opacity="0.75"/>
<path d="M1434.22,395.05 L1445.22,406.05 M1434.22,406.05 L1445.22,395.05" stroke="#4c9a4c" stroke-width="1" opacity="0.75"/>
<path d="M1456.14,395.05 L1467.14,406.05 M1456.14,406.05 L1467.14,395.05" stroke="#4c9a4c" stroke-width="1" opacity="0.75"/>
<polygon points="869.8,231.3 876.3,237.8 869.8,244.3 863.3,237.8" fill="#f52af0"/>
<polygon points="891.72,231.3 898.22,237.8 891.72,244.3 885.22,237.8" fill="#f52af0"/>
<polygon points="913.64,231.3 920.14,237.8 913.64,244.3 907.14,237.8" fill="#f52af0"/>
<polygon points="935.56,231.3 942.06,237.8 935.56,244.3 929.06,237.8" fill="#f52af0"/>
<polygon points="957.48,232.23 963.98,238.73 957.48,245.23 950.98,238.73" fill="#f52af0"/>
<polygon points="979.4,232.42 985.9,238.92 979.4,245.42 972.9,238.92" fill="#f52af0"/>
<polygon points="1001.32,211.77 1007.82,218.27 1001.32,224.77 994.82,218.27" fill="#f52af0"/>
<polygon points="1023.24,231.3 1029.74,237.8 1023.24,244.3 1016.74,237.8" fill="#f52af0"/>
<polygon points="1045.16,307.56 1051.66,314.06 1045.16,320.56 1038.66,314.06" fill="#f52af0"/>
<polygon points="1067.08,355.92 1073.58,362.42 1067.08,368.92 1060.58,362.42" fill="#f52af0"/>
<polygon points="1089,402.42 1095.5,408.92 1089,415.42 1082.5,408.92" fill="#f52af0"/>
<polygon points="1110.92,456.36 1117.42,462.86 1110.92,469.36 1104.42,462.86" fill="#f52af0"/>
<polygon points="1132.84,467.52 1139.34,474.02 1132.84,480.52 1126.34,474.02" fill="#f52af0"/>
<polygon points="1154.76,460.08 1161.26,466.58 1154.76,473.08 1148.26,466.58" fill="#f52af0"/>
<polygon points="1176.68,439.62 1183.18,446.12 1176.68,452.62 1170.18,446.12" fill="#f52af0"/>
<polygon points="1198.6,402.42 1205.1,408.92 1198.6,415.42 1192.1,408.92" fill="#f52af0"/>
<polygon points="1220.52,354.06 1227.02,360.56 1220.52,367.06 1214.02,360.56" fill="#f52af0"/>
<polygon points="1242.44,310.54 1248.94,317.04 1242.44,323.54 1235.94,317.04" fill="#f52af0"/>
<polygon points="1264.36,304.58 1270.86,311.08 1264.36,317.58 1257.86,311.08" fill="#f52af0"/>
<polygon points="1286.28,318.72 1292.78,325.22 1286.28,331.72 1279.78,325.22" fill="#f52af0"/>
<polygon points="1308.2,331.74 1314.7,338.24 1308.2,344.74 1301.7,338.24" fill="#f52af0"/>
<polygon points="1330.12,359.64 1336.62,366.14 1330.12,372.64 1323.62,366.14" fill="#f52af0"/>
<polygon points="1352.04,394.05 1358.54,400.55 1352.04,407.05 1345.54,400.55" fill="#f52af0"/>
<polygon points="1373.96,415.44 1380.46,421.94 1373.96,428.44 1367.46,421.94" fill="#f52af0"/>
<polygon points="1395.88,437.76 1402.38,444.26 1395.88,450.76 1389.38,444.26" fill="#f52af0"/>
<polygon points="1417.8,444.27 1424.3,450.77 1417.8,457.27 1411.3,450.77" fill="#f52af0"/>
<polygon points="1439.72,454.5 1446.22,461 1439.72,467.5 1433.22,461" fill="#f52af0"/>
<polygon points="1461.64,456.36 1468.14,462.86 1461.64,469.36 1455.14,462.86" fill="#f52af0"/>
<polygon points="869.8,231.5 871.6,235.82 876.27,236.2 872.71,239.25 873.8,243.8 869.8,241.36 865.8,243.8 866.89,239.25 863.33,236.2 868,235.82" fill="#e6237b"/>
<polygon points="891.72,231.5 893.52,235.82 898.19,236.2 894.63,239.25 895.72,243.8 891.72,241.36 887.72,243.8 888.81,239.25 885.25,236.2 889.92,235.82" fill="#e6237b"/>
<polygon points="913.64,223.13 915.44,227.45 920.11,227.83 916.55,230.88 917.64,235.43 913.64,232.99 909.64,235.43 910.73,230.88 907.17,227.83 911.84,227.45" fill="#e6237b"/>
<polygon points="935.56,217.18 937.36,221.5 942.03,221.88 938.47,224.92 939.56,229.48 935.56,227.04 931.56,229.48 932.65,224.92 929.09,221.88 933.76,221.5" fill="#e6237b"/>
<polygon points="957.48,206.39 959.28,210.71 963.95,211.09 960.39,214.14 961.48,218.69 957.48,216.25 953.48,218.69 954.57,214.14 951.01,211.09 955.68,210.71" fill="#e6237b"/>
<polygon points="979.4,101.3 981.2,105.62 985.87,106 982.31,109.05 983.4,113.6 979.4,111.16 975.4,113.6 976.49,109.05 972.93,106 977.6,105.62" fill="#e6237b"/>
<polygon points="1001.32,60.38 1003.12,64.7 1007.79,65.08 1004.23,68.13 1005.32,72.68 1001.32,70.24 997.32,72.68 998.41,68.13 994.85,65.08 999.52,64.7" fill="#e6237b"/>
<polygon points="1023.24,171.05 1025.04,175.37 1029.71,175.75 1026.15,178.8 1027.24,183.35 1023.24,180.91 1019.24,183.35 1020.33,178.8 1016.77,175.75 1021.44,175.37" fill="#e6237b"/>
<polygon points="1045.16,214.76 1046.96,219.08 1051.63,219.46 1048.07,222.51 1049.16,227.06 1045.16,224.62 1041.16,227.06 1042.25,222.51 1038.69,219.46 1043.36,219.08" fill="#e6237b"/>
<polygon points="1067.08,268.14 1068.88,272.47 1073.55,272.84 1069.99,275.89 1071.08,280.44 1067.08,278 1063.08,280.44 1064.17,275.89 1060.61,272.84 1065.28,272.47" fill="#e6237b"/>
<polygon points="1089,258.84 1090.8,263.17 1095.47,263.54 1091.91,266.59 1093,271.14 1089,268.7 1085,271.14 1086.09,266.59 1082.53,263.54 1087.2,263.17" fill="#e6237b"/>
<polygon points="1110.92,250.1 1112.72,254.42 1117.39,254.8 1113.83,257.85 1114.92,262.4 1110.92,259.96 1106.92,262.4 1108.01,257.85 1104.45,254.8 1109.12,254.42" fill="#e6237b"/>
<polygon points="1132.84,245.82 1134.64,250.15 1139.31,250.52 1135.75,253.57 1136.84,258.12 1132.84,255.68 1128.84,258.12 1129.93,253.57 1126.37,250.52 1131.04,250.15" fill="#e6237b"/>
<polygon points="1154.76,240.43 1156.56,244.75 1161.23,245.13 1157.67,248.17 1158.76,252.73 1154.76,250.29 1150.76,252.73 1151.85,248.17 1148.29,245.13 1152.96,244.75" fill="#e6237b"/>
<polygon points="1176.68,245.82 1178.48,250.15 1183.15,250.52 1179.59,253.57 1180.68,258.12 1176.68,255.68 1172.68,258.12 1173.77,253.57 1170.21,250.52 1174.88,250.15" fill="#e6237b"/>
<polygon points="1198.6,255.31 1200.4,259.63 1205.07,260.01 1201.51,263.05 1202.6,267.61 1198.6,265.17 1194.6,267.61 1195.69,263.05 1192.13,260.01 1196.8,259.63" fill="#e6237b"/>
<polygon points="1220.52,262.56 1222.32,266.89 1226.99,267.26 1223.43,270.31 1224.52,274.86 1220.52,272.42 1216.52,274.86 1217.61,270.31 1214.05,267.26 1218.72,266.89" fill="#e6237b"/>
<polygon points="1242.44,267.77 1244.24,272.09 1248.91,272.47 1245.35,275.52 1246.44,280.07 1242.44,277.63 1238.44,280.07 1239.53,275.52 1235.97,272.47 1240.64,272.09" fill="#e6237b"/>
<polygon points="1264.36,272.42 1266.16,276.74 1270.83,277.12 1267.27,280.17 1268.36,284.72 1264.36,282.28 1260.36,284.72 1261.45,280.17 1257.89,277.12 1262.56,276.74" fill="#e6237b"/>
<polygon points="1286.28,265.91 1288.08,270.23 1292.75,270.61 1289.19,273.66 1290.28,278.21 1286.28,275.77 1282.28,278.21 1283.37,273.66 1279.81,270.61 1284.48,270.23" fill="#e6237b"/>
<polygon points="1308.2,254.56 1310,258.89 1314.67,259.26 1311.11,262.31 1312.2,266.87 1308.2,264.42 1304.2,266.87 1305.29,262.31 1301.73,259.26 1306.4,258.89" fill="#e6237b"/>
<polygon points="1330.12,246.75 1331.92,251.08 1336.59,251.45 1333.03,254.5 1334.12,259.05 1330.12,256.61 1326.12,259.05 1327.21,254.5 1323.65,251.45 1328.32,251.08" fill="#e6237b"/>
<polygon points="1352.04,240.06 1353.84,244.38 1358.51,244.75 1354.95,247.8 1356.04,252.36 1352.04,249.92 1348.04,252.36 1349.13,247.8 1345.57,244.75 1350.24,244.38" fill="#e6237b"/>
<polygon points="1373.96,245.26 1375.76,249.59 1380.43,249.96 1376.87,253.01 1377.96,257.57 1373.96,255.12 1369.96,257.57 1371.05,253.01 1367.49,249.96 1372.16,249.59" fill="#e6237b"/>
<polygon points="1395.88,250.1 1397.68,254.42 1402.35,254.8 1398.79,257.85 1399.88,262.4 1395.88,259.96 1391.88,262.4 1392.97,257.85 1389.41,254.8 1394.08,254.42" fill="#e6237b"/>
<polygon points="1417.8,255.87 1419.6,260.19 1424.27,260.56 1420.71,263.61 1421.8,268.17 1417.8,265.73 1413.8,268.17 1414.89,263.61 1411.33,260.56 1416,260.19" fill="#e6237b"/>
<polygon points="1439.72,261.63 1441.52,265.96 1446.19,266.33 1442.63,269.38 1443.72,273.93 1439.72,271.49 1435.72,273.93 1436.81,269.38 1433.25,266.33 1437.92,265.96" fill="#e6237b"/>
<polygon points="1461.64,267.77 1463.44,272.09 1468.11,272.47 1464.55,275.52 1465.64,280.07 1461.64,277.63 1457.64,280.07 1458.73,275.52 1455.17,272.47 1459.84,272.09" fill="#e6237b"/>
<circle cx="869.8" cy="237.8" r="5.4" fill="#f41a1a"/>
<circle cx="891.72" cy="237.8" r="5.4" fill="#f41a1a"/>
<circle cx="913.64" cy="293.6" r="5.4" fill="#f41a1a"/>
<circle cx="935.56" cy="322.43" r="5.4" fill="#f41a1a"/>
<circle cx="957.48" cy="349.4" r="5.4" fill="#f41a1a"/>
<circle cx="979.4" cy="380.28" r="5.4" fill="#f41a1a"/>
<circle cx="1001.32" cy="385.48" r="5.4" fill="#f41a1a"/>
<circle cx="1023.24" cy="405.2" r="5.4" fill="#f41a1a"/>
<circle cx="1045.16" cy="466.58" r="5.4" fill="#f41a1a"/>
<circle cx="1067.08" cy="494.48" r="5.4" fill="#f41a1a"/>
<circle cx="1089" cy="498.2" r="5.4" fill="#f41a1a"/>
<circle cx="1110.92" cy="492.99" r="5.4" fill="#f41a1a"/>
<circle cx="1132.84" cy="487.04" r="5.4" fill="#f41a1a"/>
<circle cx="1154.76" cy="460.07" r="5.4" fill="#f41a1a"/>
<circle cx="1176.68" cy="421.94" r="5.4" fill="#f41a1a"/>
<circle cx="1198.6" cy="373.02" r="5.4" fill="#f41a1a"/>
<circle cx="1220.52" cy="369.86" r="5.4" fill="#f41a1a"/>
<circle cx="1242.44" cy="364.28" r="5.4" fill="#f41a1a"/>
<circle cx="1264.36" cy="358.7" r="5.4" fill="#f41a1a"/>
<circle cx="1286.28" cy="354.98" r="5.4" fill="#f41a1a"/>
<circle cx="1308.2" cy="354.42" r="5.4" fill="#f41a1a"/>
<circle cx="1330.12" cy="353.12" r="5.4" fill="#f41a1a"/>
<circle cx="1352.04" cy="353.12" r="5.4" fill="#f41a1a"/>
<circle cx="1373.96" cy="353.12" r="5.4" fill="#f41a1a"/>
<circle cx="1395.88" cy="354.05" r="5.4" fill="#f41a1a"/>
<circle cx="1417.8" cy="354.98" r="5.4" fill="#f41a1a"/>
<circle cx="1439.72" cy="355.91" r="5.4" fill="#f41a1a"/>
<circle cx="1461.64" cy="355.91" r="5.4" fill="#f41a1a"/>
<polygon points="869.8,231.2 876.4,242.8 863.2,242.8" fill="#1414f0"/>
<polygon points="891.72,231.2 898.32,242.8 885.12,242.8" fill="#1414f0"/>
<polygon points="913.64,292.58 920.24,304.18 907.04,304.18" fill="#1414f0"/>
<polygon points="935.56,327.92 942.16,339.52 928.96,339.52" fill="#1414f0"/>
<polygon points="957.48,361.4 964.08,373 950.88,373" fill="#1414f0"/>
<polygon points="979.4,367.72 986,379.32 972.8,379.32" fill="#1414f0"/>
<polygon points="1001.32,366.24 1007.92,377.84 994.72,377.84" fill="#1414f0"/>
<polygon points="1023.24,375.72 1029.84,387.32 1016.64,387.32" fill="#1414f0"/>
<polygon points="1045.16,455.52 1051.76,467.12 1038.56,467.12" fill="#1414f0"/>
<polygon points="1067.08,473.93 1073.68,485.53 1060.48,485.53" fill="#1414f0"/>
<polygon points="1089,481.37 1095.6,492.97 1082.4,492.97" fill="#1414f0"/>
<polygon points="1110.92,480.44 1117.52,492.04 1104.32,492.04" fill="#1414f0"/>
<polygon points="1132.84,480.44 1139.44,492.04 1126.24,492.04" fill="#1414f0"/>
<polygon points="1154.76,461.84 1161.36,473.44 1148.16,473.44" fill="#1414f0"/>
<polygon points="1176.68,409.76 1183.28,421.36 1170.08,421.36" fill="#1414f0"/>
<polygon points="1198.6,381.86 1205.2,393.46 1192,393.46" fill="#1414f0"/>
<polygon points="1220.52,374.42 1227.12,386.02 1213.92,386.02" fill="#1414f0"/>
<polygon points="1242.44,353.96 1249.04,365.56 1235.84,365.56" fill="#1414f0"/>
<polygon points="1264.36,340.94 1270.96,352.54 1257.76,352.54" fill="#1414f0"/>
<polygon points="1286.28,337.22 1292.88,348.82 1279.68,348.82" fill="#1414f0"/>
<polygon points="1308.2,334.62 1314.8,346.22 1301.6,346.22" fill="#1414f0"/>
<polygon points="1330.12,331.64 1336.72,343.24 1323.52,343.24" fill="#1414f0"/>
<polygon points="1352.04,331.64 1358.64,343.24 1345.44,343.24" fill="#1414f0"/>
<polygon points="1373.96,330.71 1380.56,342.31 1367.36,342.31" fill="#1414f0"/>
<polygon points="1395.88,332.57 1402.48,344.17 1389.28,344.17" fill="#1414f0"/>
<polygon points="1417.8,333.5 1424.4,345.1 1411.2,345.1" fill="#1414f0"/>
<polygon points="1439.72,333.5 1446.32,345.1 1433.12,345.1" fill="#1414f0"/>
<polygon points="1461.64,333.5 1468.24,345.1 1455.04,345.1" fill="#1414f0"/>
<polygon points="869.8,231.6 876.27,236.3 873.8,243.9 865.8,243.9 863.33,236.3" fill="#0b0b72"/>
<polygon points="891.72,231.6 898.19,236.3 895.72,243.9 887.72,243.9 885.25,236.3" fill="#0b0b72"/>
<polygon points="913.64,231.6 920.11,236.3 917.64,243.9 909.64,243.9 907.17,236.3" fill="#0b0b72"/>
<polygon points="935.56,231.6 942.03,236.3 939.56,243.9 931.56,243.9 929.09,236.3" fill="#0b0b72"/>
<polygon points="957.48,231.6 963.95,236.3 961.48,243.9 953.48,243.9 951.01,236.3" fill="#0b0b72"/>
<polygon points="979.4,228.25 985.87,232.95 983.4,240.55 975.4,240.55 972.93,232.95" fill="#0b0b72"/>
<polygon points="1001.32,216.72 1007.79,221.42 1005.32,229.02 997.32,229.02 994.85,221.42" fill="#0b0b72"/>
<polygon points="1023.24,253.92 1029.71,258.62 1027.24,266.22 1019.24,266.22 1016.77,258.62" fill="#0b0b72"/>
<polygon points="1045.16,270.66 1051.63,275.36 1049.16,282.96 1041.16,282.96 1038.69,275.36" fill="#0b0b72"/>
<polygon points="1067.08,279.96 1073.55,284.66 1071.08,292.26 1063.08,292.26 1060.61,284.66" fill="#0b0b72"/>
<polygon points="1089,285.54 1095.47,290.24 1093,297.84 1085,297.84 1082.53,290.24" fill="#0b0b72"/>
<polygon points="1110.92,300.42 1117.39,305.12 1114.92,312.72 1106.92,312.72 1104.45,305.12" fill="#0b0b72"/>
<polygon points="1132.84,316.6 1139.31,321.3 1136.84,328.9 1128.84,328.9 1126.37,321.3" fill="#0b0b72"/>
<polygon points="1154.76,327.76 1161.23,332.46 1158.76,340.06 1150.76,340.06 1148.29,332.46" fill="#0b0b72"/>
<polygon points="1176.68,337.62 1183.15,342.32 1180.68,349.92 1172.68,349.92 1170.21,342.32" fill="#0b0b72"/>
<polygon points="1198.6,335.76 1205.07,340.46 1202.6,348.06 1194.6,348.06 1192.13,340.46" fill="#0b0b72"/>
<polygon points="1220.52,332.04 1226.99,336.74 1224.52,344.34 1216.52,344.34 1214.05,336.74" fill="#0b0b72"/>
<polygon points="1242.44,317.16 1248.91,321.86 1246.44,329.46 1238.44,329.46 1235.97,321.86" fill="#0b0b72"/>
<polygon points="1264.36,304.88 1270.83,309.58 1268.36,317.19 1260.36,317.19 1257.89,309.58" fill="#0b0b72"/>
<polygon points="1286.28,299.49 1292.75,304.19 1290.28,311.79 1282.28,311.79 1279.81,304.19" fill="#0b0b72"/>
<polygon points="1308.2,304.88 1314.67,309.58 1312.2,317.19 1304.2,317.19 1301.73,309.58" fill="#0b0b72"/>
<polygon points="1330.12,309.72 1336.59,314.42 1334.12,322.02 1326.12,322.02 1323.65,314.42" fill="#0b0b72"/>
<polygon points="1352.04,319.02 1358.51,323.72 1356.04,331.32 1348.04,331.32 1345.57,323.72" fill="#0b0b72"/>
<polygon points="1373.96,327.2 1380.43,331.9 1377.96,339.51 1369.96,339.51 1367.49,331.9" fill="#0b0b72"/>
<polygon points="1395.88,332.04 1402.35,336.74 1399.88,344.34 1391.88,344.34 1389.41,336.74" fill="#0b0b72"/>
<polygon points="1417.8,337.62 1424.27,342.32 1421.8,349.92 1413.8,349.92 1411.33,342.32" fill="#0b0b72"/>
<polygon points="1439.72,339.48 1446.19,344.18 1443.72,351.78 1435.72,351.78 1433.25,344.18" fill="#0b0b72"/>
<polygon points="1461.64,339.48 1468.11,344.18 1465.64,351.78 1457.64,351.78 1455.17,344.18" fill="#0b0b72"/>
<path d="M1214.8,75.4 H1266.7" stroke="#e6237b" stroke-width="2" stroke-dasharray="2 2.2" opacity="0.85"/>
<polygon points="1241,69.1 1242.8,73.42 1247.47,73.8 1243.91,76.85 1245,81.4 1241,78.96 1237,81.4 1238.09,76.85 1234.53,73.8 1239.2,73.42" fill="#e6237b"/>
<text x="1272.5" y="83" font-family="'Liberation Sans', sans-serif" font-size="21.5" font-weight="bold" fill="#111" textLength="82.77" lengthAdjust="spacingAndGlyphs">pure Mg</text>
<path d="M1214.8,102.5 H1266.7" stroke="#f41a1a" stroke-width="2" stroke-dasharray="2 2.2" opacity="0.85"/>
<circle cx="1241" cy="102.5" r="5.4" fill="#f41a1a"/>
<text x="1272.5" y="110.1" font-family="'Liberation Sans', sans-serif" font-size="21.5" font-weight="bold" fill="#111" textLength="14.2" lengthAdjust="spacingAndGlyphs">V</text>
<path d="M1214.8,129.7 H1266.7" stroke="#1414f0" stroke-width="2" stroke-dasharray="2 2.2" opacity="0.85"/>
<polygon points="1241,123.1 1247.6,134.7 1234.4,134.7" fill="#1414f0"/>
<text x="1272.5" y="137.3" font-family="'Liberation Sans', sans-serif" font-size="21.5" font-weight="bold" fill="#111" textLength="18.92" lengthAdjust="spacingAndGlyphs">Ti</text>
<path d="M1214.8,157.4 H1266.7" stroke="#f52af0" stroke-width="2" stroke-dasharray="2 2.2" opacity="0.85"/>
<polygon points="1241,150.9 1247.5,157.4 1241,163.9 1234.5,157.4" fill="#f52af0"/>
<text x="1272.5" y="165" font-family="'Liberation Sans', sans-serif" font-size="21.5" font-weight="bold" fill="#111" textLength="24.84" lengthAdjust="spacingAndGlyphs">Fe</text>
<path d="M1214.8,185 H1266.7" stroke="#4c9a4c" stroke-width="2" stroke-dasharray="2 2.2" opacity="0.85"/>
<path d="M1235.5,179.5 L1246.5,190.5 M1235.5,190.5 L1246.5,179.5" stroke="#4c9a4c" stroke-width="1" opacity="0.75"/>
<text x="1272.5" y="192.6" font-family="'Liberation Sans', sans-serif" font-size="21.5" font-weight="bold" fill="#111" textLength="28.37" lengthAdjust="spacingAndGlyphs">Co</text>
<path d="M1214.8,212 H1266.7" stroke="#0b0b72" stroke-width="2" stroke-dasharray="2 2.2" opacity="0.85"/>
<polygon points="1241,205.8 1247.47,210.5 1245,218.1 1237,218.1 1234.53,210.5" fill="#0b0b72"/>
<text x="1272.5" y="219.6" font-family="'Liberation Sans', sans-serif" font-size="21.5" font-weight="bold" fill="#111" textLength="21.29" lengthAdjust="spacingAndGlyphs">Ni</text>
<text x="1123.4" y="617.3" text-anchor="middle" font-family="'Liberation Serif', serif" font-size="31" fill="#000" textLength="37" lengthAdjust="spacing">(<tspan font-weight="bold">b</tspan>)</text>
</g>
<g id="pc">
<rect x="84.3" y="732.7" width="601.3" height="731.7" fill="none" stroke="#000" stroke-width="1.6"/>
<path d="M84.3,795.7 h13 M84.3,924.25 h13 M84.3,1052.8 h13 M84.3,1181.35 h13 M84.3,1309.9 h13 M84.3,1438.45 h13 M182,1464.4 v-20 M312,1464.4 v-20 M442,1464.4 v-20 M572,1464.4 v-20 " stroke="#000" stroke-width="1.6"/>
<text transform="translate(80.8,809.3) scale(0.58,1)" text-anchor="end" font-family="'Liberation Serif', serif" font-size="35.5" fill="#000">1</text>
<text transform="translate(80.8,937.85) scale(0.58,1)" text-anchor="end" font-family="'Liberation Serif', serif" font-size="35.5" fill="#000">0.5</text>
<text transform="translate(80.8,1066.4) scale(0.58,1)" text-anchor="end" font-family="'Liberation Serif', serif" font-size="35.5" fill="#000">0</text>
<text transform="translate(80.8,1194.95) scale(0.58,1)" text-anchor="end" font-family="'Liberation Serif', serif" font-size="35.5" fill="#000">-0.5</text>
<text transform="translate(80.8,1323.5) scale(0.58,1)" text-anchor="end" font-family="'Liberation Serif', serif" font-size="35.5" fill="#000">-1</text>
<text transform="translate(80.8,1452.05) scale(0.58,1)" text-anchor="end" font-family="'Liberation Serif', serif" font-size="35.5" fill="#000">-1.5</text>
<text transform="translate(183,1499.5) scale(0.6,1)" text-anchor="middle" font-family="'Liberation Serif', serif" font-size="34" fill="#000">-6</text>
<text transform="translate(313,1499.5) scale(0.6,1)" text-anchor="middle" font-family="'Liberation Serif', serif" font-size="34" fill="#000">-4</text>
<text transform="translate(443,1499.5) scale(0.6,1)" text-anchor="middle" font-family="'Liberation Serif', serif" font-size="34" fill="#000">-2</text>
<text transform="translate(573,1499.5) scale(0.6,1)" text-anchor="middle" font-family="'Liberation Serif', serif" font-size="34" fill="#000">0</text>
<text transform="translate(36.6,1098.5) rotate(-90) scale(1,0.79)" text-anchor="middle" font-family="'Liberation Serif', serif" font-size="35" fill="#111" textLength="484" lengthAdjust="spacing">Chemical bond energy (eV)</text>
<text transform="translate(225.5,1554) scale(0.573,1)" font-family="'Liberation Serif', serif" font-size="44" fill="#111">Center of <tspan font-style="italic">d</tspan>-band relative to <tspan font-style="italic">E</tspan><tspan font-size="32" dy="15">F</tspan><tspan dy="-15"> (eV)</tspan></text>
<path d="M125.8,771 L417.9,916.1 L518.7,1144.5 L540.2,1281.7 L565.2,1374.1 L573.3,1352 L588.5,1294.6 L605.4,1233.5 L632.4,1167.7" fill="none" stroke="#f21d1d" stroke-width="1.4"/>
<ellipse cx="124.5" cy="783" rx="6.2" ry="10.6" fill="none" stroke="#3a3a3a" stroke-width="1.5"/>
<ellipse cx="418.4" cy="884" rx="6.2" ry="10.6" fill="none" stroke="#3a3a3a" stroke-width="1.5"/>
<ellipse cx="519.1" cy="1162.5" rx="6.2" ry="10.6" fill="none" stroke="#3a3a3a" stroke-width="1.5"/>
<ellipse cx="632.4" cy="1178.1" rx="6.2" ry="10.6" fill="none" stroke="#3a3a3a" stroke-width="1.5"/>
<ellipse cx="603.5" cy="1241.9" rx="6.2" ry="10.6" fill="none" stroke="#3a3a3a" stroke-width="1.5"/>
<ellipse cx="541.1" cy="1297" rx="6.2" ry="10.6" fill="none" stroke="#3a3a3a" stroke-width="1.5"/>
<ellipse cx="584" cy="1299.7" rx="6.2" ry="10.6" fill="none" stroke="#3a3a3a" stroke-width="1.5"/>
<ellipse cx="572" cy="1349.7" rx="6.2" ry="10.6" fill="none" stroke="#3a3a3a" stroke-width="1.5"/>
<ellipse cx="555.6" cy="1360.4" rx="6.2" ry="10.6" fill="none" stroke="#3a3a3a" stroke-width="1.5"/>
<ellipse cx="566" cy="1362.9" rx="6.2" ry="10.6" fill="none" stroke="#3a3a3a" stroke-width="1.5"/>
<text transform="translate(105.8,831.2) scale(0.59,1)" font-family="'Liberation Serif', serif" font-size="28" fill="#1a1aff">MgZn</text>
<text transform="translate(371.5,943) scale(0.61,1)" font-family="'Liberation Serif', serif" font-size="28" fill="#1a1aff">MgCu</text>
<text transform="translate(469,1170.2) scale(0.59,1)" font-family="'Liberation Serif', serif" font-size="28" fill="#1a1aff">MgNi</text>
<text transform="translate(642.3,1186.1) scale(0.59,1)" font-family="'Liberation Serif', serif" font-size="28" fill="#1a1aff">MgSc</text>
<text transform="translate(613.4,1251.2) scale(0.59,1)" font-family="'Liberation Serif', serif" font-size="28" fill="#1a1aff">MgTi</text>
<text transform="translate(484.9,1302.6) scale(0.6,1)" font-family="'Liberation Serif', serif" font-size="28" fill="#1a1aff">MgCo</text>
<text transform="translate(594.1,1307.4) scale(0.59,1)" font-family="'Liberation Serif', serif" font-size="28" fill="#1a1aff">MgV</text>
<text transform="translate(581.3,1356.4) scale(0.6,1)" font-family="'Liberation Serif', serif" font-size="28" fill="#1a1aff">MgCr</text>
<text transform="translate(502.6,1370.1) scale(0.6,1)" font-family="'Liberation Serif', serif" font-size="28" fill="#1a1aff">MgFe</text>
<text transform="translate(543.5,1405.4) scale(0.6,1)" font-family="'Liberation Serif', serif" font-size="28" fill="#1a1aff">MgMn</text>
<text x="345.3" y="1700.3" text-anchor="middle" font-family="'Liberation Serif', serif" font-size="31" fill="#000" textLength="33.5" lengthAdjust="spacing">(<tspan font-weight="bold">c</tspan>)</text>
</g>
<g id="pd">
<defs>
<clipPath id="cl0"><path d="M940.12,762.4 L940.12,762.4 L941.45,762.06 L942.78,761.79 L944.12,761.52 L945.45,761.17 L946.78,760.64 L948.11,759.79 L949.45,754.67 L950.78,746.27 L952.11,738.15 L953.45,729.56 L954.78,720.28 L956.11,710.36 L957.45,699.89 L958.78,688.92 L960.11,677.04 L961.45,667 L962.78,667 L964.11,667 L965.45,667 L966.78,667 L968.11,667 L969.45,667 L970.78,667 L972.11,667 L973.45,667 L974.78,667 L976.11,667 L977.45,667 L978.78,667 L980.11,667 L981.45,667 L982.78,667 L984.11,667 L985.45,667 L986.78,667 L988.11,667 L989.44,667 L990.78,667 L992.11,667 L993.44,667 L994.78,667 L996.11,667 L997.44,667 L998.78,667 L1000.11,667 L1001.44,667 L1002.78,667 L1004.11,667 L1005.44,667 L1006.78,667 L1008.11,667 L1009.44,667 L1010.78,667 L1012.11,667 L1013.44,667 L1014.78,667 L1016.11,667 L1017.44,667 L1018.78,667 L1020.11,667 L1021.44,667 L1022.78,667 L1024.11,667 L1025.44,667 L1026.78,667 L1028.11,667 L1029.44,667 L1030.78,667 L1032.11,667 L1033.44,667 L1034.77,667 L1036.11,667 L1037.44,667 L1038.77,667 L1040.11,667 L1041.44,667 L1042.77,667 L1044.11,667 L1045.44,667 L1046.77,667 L1048.11,667 L1049.44,667 L1050.77,667 L1052.11,667 L1053.44,667 L1054.77,667 L1056.11,667 L1057.44,667 L1058.77,667 L1060.11,674.93 L1061.44,689.69 L1062.77,705.05 L1064.11,719.72 L1065.44,732.07 L1066.77,743.35 L1068.11,751.85 L1069.44,757 L1070.77,759.96 L1072.11,760.84 L1073.44,761.51 L1074.77,762 L1076.1,762.29 L1077.44,762.4 L1078.77,762.4 L1080.1,762.4 L1081.44,762.4 L1082.77,762.4 L1084.1,762.4 L1085.44,762.4 L1086.77,762.4 L1088.1,762.4 L1089.44,762.4 L1090.77,762.34 L1092.1,761.98 L1093.44,761.39 L1094.77,760.68 L1096.1,759.96 L1097.44,759.02 L1098.77,757.79 L1100.1,756.48 L1101.44,755.27 L1102.77,754.38 L1104.1,753.91 L1105.44,753.61 L1106.77,753.38 L1108.1,753.17 L1109.44,752.93 L1110.77,752.6 L1112.1,752.15 L1113.44,751.58 L1114.77,750.92 L1116.1,750.16 L1117.44,749.01 L1118.77,747.76 L1120.1,746.85 L1121.43,746.74 L1122.77,747.65 L1124.1,749.21 L1125.43,750.99 L1126.77,752.55 L1128.1,753.45 L1129.43,753.69 L1130.77,753.89 L1132.1,754.03 L1133.43,754.12 L1134.77,754.1 L1136.1,753.64 L1137.43,752.85 L1138.77,751.93 L1140.1,751.11 L1140.1,762.4 Z"/></clipPath>
<clipPath id="cl1"><path d="M915.17,856.8 L915.17,856.8 L916.51,856.45 L917.85,856.16 L919.19,855.87 L920.53,855.51 L921.87,855 L923.21,854.2 L924.54,850.97 L925.88,845.4 L927.22,839.09 L928.56,833.26 L929.9,827.33 L931.24,821.12 L932.58,814.56 L933.92,807.57 L935.26,800.07 L936.59,791.98 L937.93,783.22 L939.27,773.34 L940.61,761.4 L941.95,761.4 L943.29,761.4 L944.63,761.4 L945.97,761.4 L947.31,761.4 L948.64,761.4 L949.98,761.4 L951.32,761.4 L952.66,761.4 L954,761.4 L955.34,761.4 L956.68,761.4 L958.02,761.4 L959.36,761.4 L960.69,761.4 L962.03,761.4 L963.37,761.4 L964.71,761.4 L966.05,761.4 L967.39,761.4 L968.73,761.4 L970.07,761.4 L971.4,761.4 L972.74,761.4 L974.08,761.4 L975.42,761.4 L976.76,761.4 L978.1,761.4 L979.44,761.4 L980.78,761.4 L982.12,761.4 L983.45,761.4 L984.79,761.4 L986.13,761.4 L987.47,761.4 L988.81,761.4 L990.15,761.4 L991.49,761.4 L992.83,761.4 L994.17,761.4 L995.5,761.4 L996.84,761.4 L998.18,761.4 L999.52,761.4 L1000.86,761.4 L1002.2,761.4 L1003.54,761.4 L1004.88,761.4 L1006.21,761.4 L1007.55,761.4 L1008.89,761.4 L1010.23,761.4 L1011.57,761.4 L1012.91,761.4 L1014.25,761.4 L1015.59,761.4 L1016.93,761.4 L1018.26,761.4 L1019.6,761.4 L1020.94,761.4 L1022.28,761.4 L1023.62,761.4 L1024.96,761.4 L1026.3,761.4 L1027.64,761.4 L1028.98,761.4 L1030.31,761.4 L1031.65,761.4 L1032.99,761.4 L1034.33,761.4 L1035.67,761.4 L1037.01,761.4 L1038.35,761.4 L1039.69,761.4 L1041.03,761.4 L1042.36,761.4 L1043.7,761.4 L1045.04,761.4 L1046.38,761.4 L1047.72,761.4 L1049.06,761.4 L1050.4,770.3 L1051.74,785.3 L1053.07,801.1 L1054.41,815.96 L1055.75,828.42 L1057.09,839.67 L1058.43,847.51 L1059.77,852.41 L1061.11,854.62 L1062.45,855.44 L1063.79,856.07 L1065.12,856.5 L1066.46,856.74 L1067.8,856.8 L1069.14,856.8 L1070.48,856.8 L1071.82,856.8 L1073.16,856.8 L1074.5,856.8 L1075.84,856.8 L1077.17,856.8 L1078.51,856.8 L1079.85,856.8 L1081.19,856.8 L1082.53,856.8 L1083.87,856.8 L1085.21,856.78 L1086.55,856.67 L1087.88,856.48 L1089.22,856.21 L1090.56,855.88 L1091.9,855.51 L1093.24,855.08 L1094.58,854.21 L1095.92,853.01 L1097.26,851.82 L1098.6,850.96 L1099.93,850.54 L1101.27,850.25 L1102.61,850.04 L1103.95,849.84 L1105.29,849.63 L1106.63,849.35 L1107.97,848.94 L1109.31,848.11 L1110.65,847.02 L1111.98,846.05 L1113.32,845.53 L1114.66,845.58 L1116,845.85 L1117.34,846.25 L1118.68,846.74 L1120.02,847.25 L1121.36,847.72 L1122.69,848.1 L1124.03,848.47 L1125.37,848.86 L1126.71,849.24 L1128.05,849.57 L1129.39,849.82 L1130.73,849.95 L1132.07,849.96 L1133.41,849.96 L1134.74,849.96 L1136.08,849.96 L1137.42,849.96 L1138.76,849.96 L1140.1,849.96 L1140.1,856.8 Z"/></clipPath>
<clipPath id="cl2"><path d="M899.58,951 L899.58,951 L900.92,950.64 L902.26,950.35 L903.59,950.06 L904.93,949.69 L906.26,949.19 L907.6,948.44 L908.94,945.83 L910.27,941.28 L911.61,935.84 L912.95,930.54 L914.28,925.51 L915.62,920.38 L916.95,915.06 L918.29,909.47 L919.63,903.52 L920.96,897.12 L922.3,890.19 L923.64,882.66 L924.97,874.42 L926.31,864.14 L927.64,855.6 L928.98,855.6 L930.32,855.6 L931.65,855.6 L932.99,855.6 L934.33,855.6 L935.66,855.6 L937,855.6 L938.33,855.6 L939.67,855.6 L941.01,855.6 L942.34,855.6 L943.68,855.6 L945.01,855.6 L946.35,855.6 L947.69,855.6 L949.02,855.6 L950.36,855.6 L951.7,855.6 L953.03,855.6 L954.37,855.6 L955.7,855.6 L957.04,855.6 L958.38,855.6 L959.71,855.6 L961.05,855.6 L962.39,855.6 L963.72,855.6 L965.06,855.6 L966.39,855.6 L967.73,855.6 L969.07,855.6 L970.4,855.6 L971.74,855.6 L973.07,855.6 L974.41,855.6 L975.75,855.6 L977.08,855.6 L978.42,855.6 L979.76,855.6 L981.09,855.6 L982.43,855.6 L983.76,855.6 L985.1,855.6 L986.44,855.6 L987.77,855.6 L989.11,855.6 L990.45,855.6 L991.78,855.6 L993.12,855.6 L994.45,855.6 L995.79,855.6 L997.13,855.6 L998.46,855.6 L999.8,855.6 L1001.14,855.6 L1002.47,855.6 L1003.81,855.6 L1005.14,855.6 L1006.48,855.6 L1007.82,855.6 L1009.15,855.6 L1010.49,855.6 L1011.82,855.6 L1013.16,855.6 L1014.5,855.6 L1015.83,855.6 L1017.17,855.6 L1018.51,855.6 L1019.84,855.6 L1021.18,855.6 L1022.51,855.6 L1023.85,855.6 L1025.19,855.6 L1026.52,855.6 L1027.86,855.6 L1029.2,855.6 L1030.53,855.6 L1031.87,855.6 L1033.2,855.6 L1034.54,855.6 L1035.88,855.6 L1037.21,855.6 L1038.55,855.6 L1039.88,855.6 L1041.22,855.6 L1042.56,855.6 L1043.89,855.93 L1045.23,871.5 L1046.57,886.49 L1047.9,901.78 L1049.24,915.23 L1050.57,927 L1051.91,937.09 L1053.25,943.44 L1054.58,947.63 L1055.92,949.07 L1057.26,949.84 L1058.59,950.41 L1059.93,950.79 L1061.26,950.98 L1062.6,951 L1063.94,951 L1065.27,951 L1066.61,951 L1067.95,951 L1069.28,951 L1070.62,951 L1071.95,950.48 L1073.29,949.9 L1074.63,949.5 L1075.96,949.16 L1077.3,948.87 L1078.63,948.61 L1079.97,948.38 L1081.31,948.16 L1082.64,947.94 L1083.98,947.7 L1085.32,947.44 L1086.65,947.14 L1087.99,946.78 L1089.32,946.38 L1090.66,945.95 L1092,945.49 L1093.33,945.03 L1094.67,944.58 L1096.01,944.15 L1097.34,943.76 L1098.68,943.42 L1100.01,943.11 L1101.35,942.79 L1102.69,942.48 L1104.02,942.17 L1105.36,941.89 L1106.69,941.65 L1108.03,941.47 L1109.37,941.34 L1110.7,941.3 L1112.04,941.39 L1113.38,941.63 L1114.71,941.99 L1116.05,942.44 L1117.38,942.94 L1118.72,943.47 L1120.06,943.99 L1121.39,944.46 L1122.73,944.86 L1124.07,945.21 L1125.4,945.55 L1126.74,945.87 L1128.07,946.19 L1129.41,946.52 L1130.75,946.85 L1132.08,947.19 L1133.42,947.56 L1134.76,947.96 L1136.09,948.39 L1137.43,948.86 L1138.76,949.34 L1140.1,949.81 L1140.1,951 Z"/></clipPath>
<clipPath id="cl3"><path d="M892.9,1046.25 L892.9,1046.25 L894.24,1045.9 L895.58,1045.62 L896.91,1045.34 L898.25,1044.98 L899.58,1044.46 L900.92,1043.66 L902.26,1040 L903.59,1033.71 L904.93,1026.9 L906.26,1020.54 L907.6,1013.85 L908.94,1006.78 L910.27,999.25 L911.61,991.2 L912.95,982.58 L914.28,973.31 L915.62,963.05 L916.95,950.85 L918.29,950.85 L919.63,950.85 L920.96,950.85 L922.3,950.85 L923.64,950.85 L924.97,950.85 L926.31,950.85 L927.64,950.85 L928.98,950.85 L930.32,950.85 L931.65,950.85 L932.99,950.85 L934.33,950.85 L935.66,950.85 L937,950.85 L938.33,950.85 L939.67,950.85 L941.01,950.85 L942.34,950.85 L943.68,950.85 L945.01,950.85 L946.35,950.85 L947.69,950.85 L949.02,950.85 L950.36,950.85 L951.7,950.85 L953.03,950.85 L954.37,950.85 L955.7,950.85 L957.04,950.85 L958.38,950.85 L959.71,950.85 L961.05,950.85 L962.39,950.85 L963.72,950.85 L965.06,950.85 L966.39,950.85 L967.73,950.85 L969.07,950.85 L970.4,950.85 L971.74,950.85 L973.07,950.85 L974.41,950.85 L975.75,950.85 L977.08,950.85 L978.42,950.85 L979.76,950.85 L981.09,950.85 L982.43,950.85 L983.76,950.85 L985.1,950.85 L986.44,950.85 L987.77,950.85 L989.11,950.85 L990.45,950.85 L991.78,950.85 L993.12,950.85 L994.45,950.85 L995.79,950.85 L997.13,950.85 L998.46,950.85 L999.8,950.85 L1001.14,950.85 L1002.47,950.85 L1003.81,950.85 L1005.14,950.85 L1006.48,950.85 L1007.82,950.85 L1009.15,950.85 L1010.49,950.85 L1011.82,950.85 L1013.16,950.85 L1014.5,950.85 L1015.83,950.85 L1017.17,950.85 L1018.51,950.85 L1019.84,950.85 L1021.18,950.85 L1022.51,950.85 L1023.85,950.85 L1025.19,950.85 L1026.52,950.85 L1027.86,950.85 L1029.2,950.85 L1030.53,950.85 L1031.87,950.85 L1033.2,950.85 L1034.54,950.85 L1035.88,950.85 L1037.21,950.85 L1038.55,950.85 L1039.88,950.85 L1041.22,951.04 L1042.56,966.75 L1043.89,982.03 L1045.23,997.67 L1046.57,1011.28 L1047.9,1023.27 L1049.24,1033.27 L1050.57,1039.38 L1051.91,1043.3 L1053.25,1044.47 L1054.58,1045.2 L1055.92,1045.74 L1057.26,1046.08 L1058.59,1046.24 L1059.93,1046.25 L1061.26,1046.25 L1062.6,1046.25 L1063.94,1046.25 L1065.27,1046.25 L1066.61,1046.25 L1067.95,1046.25 L1069.28,1046.25 L1070.62,1046.25 L1071.95,1046.23 L1073.29,1046.11 L1074.63,1045.9 L1075.96,1045.63 L1077.3,1045.3 L1078.63,1044.93 L1079.97,1044.55 L1081.31,1044.15 L1082.64,1043.77 L1083.98,1043.42 L1085.32,1043.09 L1086.65,1042.75 L1087.99,1042.4 L1089.32,1042.05 L1090.66,1041.68 L1092,1041.32 L1093.33,1040.95 L1094.67,1040.59 L1096.01,1040.23 L1097.34,1039.88 L1098.68,1039.55 L1100.01,1039.2 L1101.35,1038.8 L1102.69,1038.4 L1104.02,1038.02 L1105.36,1037.73 L1106.69,1037.54 L1108.03,1037.51 L1109.37,1037.59 L1110.7,1037.74 L1112.04,1037.94 L1113.38,1038.2 L1114.71,1038.47 L1116.05,1038.76 L1117.38,1039.07 L1118.72,1039.49 L1120.06,1040 L1121.39,1040.56 L1122.73,1041.16 L1124.07,1041.75 L1125.4,1042.32 L1126.74,1042.82 L1128.07,1043.25 L1129.41,1043.59 L1130.75,1043.9 L1132.08,1044.18 L1133.42,1044.44 L1134.76,1044.69 L1136.09,1044.94 L1137.43,1045.18 L1138.76,1045.43 L1140.1,1045.69 L1140.1,1046.25 Z"/></clipPath>
<clipPath id="cl4"><path d="M882.44,1141.65 L882.44,1141.65 L883.77,1141.3 L885.11,1141.03 L886.44,1140.75 L887.78,1140.39 L889.11,1139.87 L890.45,1139.05 L891.78,1134.93 L893.12,1127.92 L894.45,1120.7 L895.79,1113.66 L897.12,1106.16 L898.46,1098.16 L899.79,1089.63 L901.13,1080.54 L902.46,1070.85 L903.8,1060.47 L905.13,1046.64 L906.47,1046.25 L907.8,1046.25 L909.14,1046.25 L910.47,1046.25 L911.81,1046.25 L913.14,1046.25 L914.48,1046.25 L915.81,1046.25 L917.15,1046.25 L918.48,1046.25 L919.82,1046.25 L921.15,1046.25 L922.49,1046.25 L923.82,1046.25 L925.16,1046.25 L926.49,1046.25 L927.83,1046.25 L929.16,1046.25 L930.5,1046.25 L931.83,1046.25 L933.17,1046.25 L934.5,1046.25 L935.84,1046.25 L937.17,1046.25 L938.51,1046.25 L939.84,1046.25 L941.18,1046.25 L942.51,1046.25 L943.85,1046.25 L945.18,1046.25 L946.52,1046.25 L947.85,1046.25 L949.19,1046.25 L950.52,1046.25 L951.86,1046.25 L953.19,1046.25 L954.53,1046.25 L955.86,1046.25 L957.2,1046.25 L958.53,1046.25 L959.87,1046.25 L961.2,1046.25 L962.54,1046.25 L963.87,1046.25 L965.21,1046.25 L966.54,1046.25 L967.88,1046.25 L969.21,1046.25 L970.55,1046.25 L971.88,1046.25 L973.22,1046.25 L974.55,1046.25 L975.89,1046.25 L977.22,1046.25 L978.56,1046.25 L979.89,1046.25 L981.23,1046.25 L982.56,1046.25 L983.9,1046.25 L985.23,1046.25 L986.57,1046.25 L987.9,1046.25 L989.24,1046.25 L990.57,1046.25 L991.91,1046.25 L993.24,1046.25 L994.58,1046.25 L995.92,1046.25 L997.25,1046.25 L998.59,1046.25 L999.92,1046.25 L1001.26,1046.25 L1002.59,1046.25 L1003.93,1046.25 L1005.26,1046.25 L1006.6,1046.25 L1007.93,1046.25 L1009.27,1046.25 L1010.6,1046.25 L1011.94,1046.25 L1013.27,1046.25 L1014.61,1046.25 L1015.94,1046.25 L1017.28,1046.25 L1018.61,1046.25 L1019.95,1046.25 L1021.28,1046.25 L1022.62,1046.25 L1023.95,1046.25 L1025.29,1046.25 L1026.62,1046.25 L1027.96,1046.25 L1029.29,1046.25 L1030.63,1046.25 L1031.96,1046.25 L1033.3,1046.25 L1034.63,1046.25 L1035.97,1046.25 L1037.3,1052.45 L1038.64,1068.7 L1039.97,1086.91 L1041.31,1103.91 L1042.64,1117.9 L1043.98,1129.38 L1045.31,1135.99 L1046.65,1139.33 L1047.98,1140.2 L1049.32,1140.86 L1050.65,1141.31 L1051.99,1141.57 L1053.32,1141.65 L1054.66,1141.65 L1055.99,1141.65 L1057.33,1141.65 L1058.66,1141.65 L1060,1141.65 L1061.33,1141.65 L1062.67,1141.65 L1064,1141.65 L1065.34,1141.65 L1066.67,1141.65 L1068.01,1141.65 L1069.34,1141.65 L1070.68,1141.65 L1072.01,1141.65 L1073.35,1141.65 L1074.68,1141.65 L1076.02,1141.63 L1077.35,1141.41 L1078.69,1140.98 L1080.02,1140.4 L1081.36,1139.71 L1082.69,1138.98 L1084.03,1138.25 L1085.36,1137.58 L1086.7,1137.02 L1088.03,1136.56 L1089.37,1136.09 L1090.7,1135.6 L1092.04,1135.12 L1093.37,1134.65 L1094.71,1134.2 L1096.04,1133.8 L1097.38,1133.46 L1098.71,1133.19 L1100.05,1133 L1101.38,1132.91 L1102.72,1132.91 L1104.05,1132.96 L1105.39,1133.04 L1106.72,1133.14 L1108.06,1133.27 L1109.39,1133.43 L1110.73,1133.6 L1112.06,1133.79 L1113.4,1133.99 L1114.73,1134.27 L1116.07,1134.74 L1117.4,1135.35 L1118.74,1136.03 L1120.07,1136.74 L1121.41,1137.42 L1122.74,1138.01 L1124.08,1138.46 L1125.41,1138.71 L1126.75,1138.84 L1128.08,1138.97 L1129.42,1139.07 L1130.75,1139.16 L1132.09,1139.22 L1133.42,1139.26 L1134.76,1139.2 L1136.09,1138.32 L1137.43,1136.77 L1138.76,1134.98 L1140.1,1133.38 L1140.1,1141.65 Z"/></clipPath>
<clipPath id="cl5"><path d="M875.09,1236.35 L875.09,1236.35 L876.43,1236 L877.76,1235.72 L879.1,1235.43 L880.44,1235.07 L881.78,1234.55 L883.12,1233.75 L884.46,1230.21 L885.79,1224.16 L887.13,1217.51 L888.47,1211.35 L889.81,1204.93 L891.15,1198.16 L892.49,1190.96 L893.83,1183.28 L895.16,1175.03 L896.5,1166.15 L897.84,1156.56 L899.18,1143.68 L900.52,1140.95 L901.86,1140.95 L903.19,1140.95 L904.53,1140.95 L905.87,1140.95 L907.21,1140.95 L908.55,1140.95 L909.89,1140.95 L911.23,1140.95 L912.56,1140.95 L913.9,1140.95 L915.24,1140.95 L916.58,1140.95 L917.92,1140.95 L919.26,1140.95 L920.59,1140.95 L921.93,1140.95 L923.27,1140.95 L924.61,1140.95 L925.95,1140.95 L927.29,1140.95 L928.62,1140.95 L929.96,1140.95 L931.3,1140.95 L932.64,1140.95 L933.98,1140.95 L935.32,1140.95 L936.66,1140.95 L937.99,1140.95 L939.33,1140.95 L940.67,1140.95 L942.01,1140.95 L943.35,1140.95 L944.69,1140.95 L946.02,1140.95 L947.36,1140.95 L948.7,1140.95 L950.04,1140.95 L951.38,1140.95 L952.72,1140.95 L954.06,1140.95 L955.39,1140.95 L956.73,1140.95 L958.07,1140.95 L959.41,1140.95 L960.75,1140.95 L962.09,1140.95 L963.42,1140.95 L964.76,1140.95 L966.1,1140.95 L967.44,1140.95 L968.78,1140.95 L970.12,1140.95 L971.46,1140.95 L972.79,1140.95 L974.13,1140.95 L975.47,1140.95 L976.81,1140.95 L978.15,1140.95 L979.49,1140.95 L980.82,1140.95 L982.16,1140.95 L983.5,1140.95 L984.84,1140.95 L986.18,1140.95 L987.52,1140.95 L988.86,1140.95 L990.19,1140.95 L991.53,1140.95 L992.87,1140.95 L994.21,1140.95 L995.55,1140.95 L996.89,1140.95 L998.22,1140.95 L999.56,1140.95 L1000.9,1140.95 L1002.24,1140.95 L1003.58,1140.95 L1004.92,1140.95 L1006.26,1140.95 L1007.59,1140.95 L1008.93,1140.95 L1010.27,1140.95 L1011.61,1140.95 L1012.95,1140.95 L1014.29,1140.95 L1015.62,1140.95 L1016.96,1140.95 L1018.3,1140.95 L1019.64,1140.95 L1020.98,1140.95 L1022.32,1140.95 L1023.65,1140.95 L1024.99,1140.95 L1026.33,1140.95 L1027.67,1140.95 L1029.01,1140.95 L1030.35,1140.95 L1031.69,1140.95 L1033.02,1144.33 L1034.36,1159.81 L1035.7,1175.72 L1037.04,1191.51 L1038.38,1204.79 L1039.72,1216.75 L1041.05,1225.79 L1042.39,1231.17 L1043.73,1234.01 L1045.07,1234.87 L1046.41,1235.53 L1047.75,1236 L1049.09,1236.27 L1050.42,1236.35 L1051.76,1236.35 L1053.1,1236.35 L1054.44,1236.35 L1055.78,1236.35 L1057.12,1236.35 L1058.45,1236.35 L1059.79,1236.35 L1061.13,1236.35 L1062.47,1236.35 L1063.81,1236.35 L1065.15,1236.35 L1066.49,1236.35 L1067.82,1236.35 L1069.16,1236.35 L1070.5,1236.35 L1071.84,1236.35 L1073.18,1236.32 L1074.52,1236.14 L1075.85,1235.82 L1077.19,1235.39 L1078.53,1234.89 L1079.87,1234.34 L1081.21,1233.78 L1082.55,1233.23 L1083.89,1232.72 L1085.22,1232.25 L1086.56,1231.72 L1087.9,1231.13 L1089.24,1230.51 L1090.58,1229.91 L1091.92,1229.34 L1093.25,1228.85 L1094.59,1228.45 L1095.93,1228.18 L1097.27,1228.08 L1098.61,1228.12 L1099.95,1228.22 L1101.28,1228.38 L1102.62,1228.59 L1103.96,1228.83 L1105.3,1229.1 L1106.64,1229.39 L1107.98,1229.69 L1109.32,1230.12 L1110.65,1230.68 L1111.99,1231.34 L1113.33,1232.05 L1114.67,1232.76 L1116.01,1233.42 L1117.35,1234 L1118.68,1234.44 L1120.02,1234.72 L1121.36,1234.97 L1122.7,1235.2 L1124.04,1235.38 L1125.38,1235.51 L1126.72,1235.55 L1128.05,1234.73 L1129.39,1232.55 L1130.73,1229.6 L1132.07,1226.43 L1133.41,1223.61 L1134.75,1221.66 L1136.08,1220.18 L1137.42,1218.86 L1138.76,1217.61 L1140.1,1216.32 L1140.1,1236.35 Z"/></clipPath>
<clipPath id="cl6"><path d="M865.07,1331.95 L865.07,1331.95 L866.4,1331.6 L867.74,1331.31 L869.07,1331.01 L870.41,1330.65 L871.74,1330.14 L873.08,1329.39 L874.41,1326.64 L875.75,1321.84 L877.08,1316.16 L878.42,1310.73 L879.75,1305.48 L881.09,1300.08 L882.42,1294.46 L883.76,1288.51 L885.09,1282.16 L886.43,1275.33 L887.76,1267.93 L889.1,1259.87 L890.43,1251 L891.77,1238.04 L893.1,1236.55 L894.44,1236.55 L895.77,1236.55 L897.11,1236.55 L898.44,1236.55 L899.78,1236.55 L901.11,1236.55 L902.45,1236.55 L903.78,1236.55 L905.12,1236.55 L906.45,1236.55 L907.79,1236.55 L909.12,1236.55 L910.46,1236.55 L911.79,1236.55 L913.13,1236.55 L914.46,1236.55 L915.8,1236.55 L917.14,1236.55 L918.47,1236.55 L919.81,1236.55 L921.14,1236.55 L922.48,1236.55 L923.81,1236.55 L925.15,1236.55 L926.48,1236.55 L927.82,1236.55 L929.15,1236.55 L930.49,1236.55 L931.82,1236.55 L933.16,1236.55 L934.49,1236.55 L935.83,1236.55 L937.16,1236.55 L938.5,1236.55 L939.83,1236.55 L941.17,1236.55 L942.5,1236.55 L943.84,1236.55 L945.17,1236.55 L946.51,1236.55 L947.84,1236.55 L949.18,1236.55 L950.51,1236.55 L951.85,1236.55 L953.18,1236.55 L954.52,1236.55 L955.85,1236.55 L957.19,1236.55 L958.52,1236.55 L959.86,1236.55 L961.19,1236.55 L962.53,1236.55 L963.86,1236.55 L965.2,1236.55 L966.53,1236.55 L967.87,1236.55 L969.2,1236.55 L970.54,1236.55 L971.88,1236.55 L973.21,1236.55 L974.55,1236.55 L975.88,1236.55 L977.22,1236.55 L978.55,1236.55 L979.89,1236.55 L981.22,1236.55 L982.56,1236.55 L983.89,1236.55 L985.23,1236.55 L986.56,1236.55 L987.9,1236.55 L989.23,1236.55 L990.57,1236.55 L991.9,1236.55 L993.24,1236.55 L994.57,1236.55 L995.91,1236.55 L997.24,1236.55 L998.58,1236.55 L999.91,1236.55 L1001.25,1236.55 L1002.58,1236.55 L1003.92,1236.55 L1005.25,1236.55 L1006.59,1236.55 L1007.92,1236.55 L1009.26,1236.55 L1010.59,1236.55 L1011.93,1236.55 L1013.26,1236.55 L1014.6,1236.55 L1015.93,1236.55 L1017.27,1236.55 L1018.6,1236.55 L1019.94,1236.55 L1021.27,1236.55 L1022.61,1236.55 L1023.94,1236.55 L1025.28,1236.55 L1026.61,1236.55 L1027.95,1238.08 L1029.29,1253.39 L1030.62,1268.18 L1031.96,1283.07 L1033.29,1296.15 L1034.63,1307.67 L1035.96,1317.64 L1037.3,1324.03 L1038.63,1328.29 L1039.97,1329.93 L1041.3,1330.71 L1042.64,1331.3 L1043.97,1331.7 L1045.31,1331.91 L1046.64,1331.95 L1047.98,1331.95 L1049.31,1331.95 L1050.65,1331.95 L1051.98,1331.95 L1053.32,1331.95 L1054.65,1331.95 L1055.99,1331.91 L1057.32,1331.79 L1058.66,1331.61 L1059.99,1331.38 L1061.33,1331.1 L1062.66,1330.79 L1064,1330.45 L1065.33,1330.1 L1066.67,1329.74 L1068,1329.39 L1069.34,1329.05 L1070.67,1328.69 L1072.01,1328.24 L1073.34,1327.72 L1074.68,1327.17 L1076.01,1326.58 L1077.35,1325.99 L1078.68,1325.4 L1080.02,1324.85 L1081.35,1324.35 L1082.69,1323.91 L1084.03,1323.57 L1085.36,1323.33 L1086.7,1323.21 L1088.03,1323.25 L1089.37,1323.46 L1090.7,1323.81 L1092.04,1324.28 L1093.37,1324.82 L1094.71,1325.4 L1096.04,1326 L1097.38,1326.58 L1098.71,1327.11 L1100.05,1327.64 L1101.38,1328.28 L1102.72,1328.97 L1104.05,1329.64 L1105.39,1330.26 L1106.72,1330.75 L1108.06,1331.07 L1109.39,1331.13 L1110.73,1330.24 L1112.06,1328.39 L1113.4,1326.01 L1114.73,1323.52 L1116.07,1321.37 L1117.4,1319.7 L1118.74,1317.93 L1120.07,1316.12 L1121.41,1314.39 L1122.74,1312.85 L1124.08,1311.61 L1125.41,1310.78 L1126.75,1310.49 L1128.08,1310.57 L1129.42,1310.81 L1130.75,1311.13 L1132.09,1311.5 L1133.42,1311.86 L1134.76,1312.18 L1136.09,1312.48 L1137.43,1312.8 L1138.76,1313.11 L1140.1,1313.43 L1140.1,1331.95 Z"/></clipPath>
<clipPath id="cl7"><path d="M860.61,1426.85 L860.61,1426.85 L861.95,1426.5 L863.29,1426.21 L864.62,1425.92 L865.96,1425.56 L867.3,1425.05 L868.64,1424.27 L869.97,1421.2 L871.31,1415.87 L872.65,1409.75 L873.98,1404.05 L875.32,1398.33 L876.66,1392.39 L878,1386.12 L879.33,1379.46 L880.67,1372.33 L882.01,1364.63 L883.35,1356.28 L884.68,1347.21 L886.02,1334.74 L887.36,1331.45 L888.69,1331.45 L890.03,1331.45 L891.37,1331.45 L892.71,1331.45 L894.04,1331.45 L895.38,1331.45 L896.72,1331.45 L898.05,1331.45 L899.39,1331.45 L900.73,1331.45 L902.07,1331.45 L903.4,1331.45 L904.74,1331.45 L906.08,1331.45 L907.42,1331.45 L908.75,1331.45 L910.09,1331.45 L911.43,1331.45 L912.76,1331.45 L914.1,1331.45 L915.44,1331.45 L916.78,1331.45 L918.11,1331.45 L919.45,1331.45 L920.79,1331.45 L922.13,1331.45 L923.46,1331.45 L924.8,1331.45 L926.14,1331.45 L927.47,1331.45 L928.81,1331.45 L930.15,1331.45 L931.49,1331.45 L932.82,1331.45 L934.16,1331.45 L935.5,1331.45 L936.84,1331.45 L938.17,1331.45 L939.51,1331.45 L940.85,1331.45 L942.18,1331.45 L943.52,1331.45 L944.86,1331.45 L946.2,1331.45 L947.53,1331.45 L948.87,1331.45 L950.21,1331.45 L951.55,1331.45 L952.88,1331.45 L954.22,1331.45 L955.56,1331.45 L956.89,1331.45 L958.23,1331.45 L959.57,1331.45 L960.91,1331.45 L962.24,1331.45 L963.58,1331.45 L964.92,1331.45 L966.26,1331.45 L967.59,1331.45 L968.93,1331.45 L970.27,1331.45 L971.6,1331.45 L972.94,1331.45 L974.28,1331.45 L975.62,1331.45 L976.95,1331.45 L978.29,1331.45 L979.63,1331.45 L980.97,1331.45 L982.3,1331.45 L983.64,1331.45 L984.98,1331.45 L986.31,1331.45 L987.65,1331.45 L988.99,1331.45 L990.33,1331.45 L991.66,1331.45 L993,1331.45 L994.34,1331.45 L995.68,1331.45 L997.01,1331.45 L998.35,1331.45 L999.69,1331.45 L1001.02,1331.45 L1002.36,1331.45 L1003.7,1331.45 L1005.04,1331.45 L1006.37,1331.45 L1007.71,1331.45 L1009.05,1331.45 L1010.39,1331.45 L1011.72,1331.45 L1013.06,1331.45 L1014.4,1331.45 L1015.73,1331.45 L1017.07,1331.45 L1018.41,1331.45 L1019.75,1341.23 L1021.08,1356.43 L1022.42,1372.6 L1023.76,1387.59 L1025.1,1400.15 L1026.43,1411.29 L1027.77,1418.56 L1029.11,1423.21 L1030.44,1424.87 L1031.78,1425.65 L1033.12,1426.23 L1034.46,1426.62 L1035.79,1426.82 L1037.13,1426.85 L1038.47,1426.85 L1039.81,1426.85 L1041.14,1426.85 L1042.48,1426.85 L1043.82,1426.85 L1045.15,1426.85 L1046.49,1426.83 L1047.83,1426.66 L1049.17,1426.35 L1050.5,1425.94 L1051.84,1425.47 L1053.18,1424.97 L1054.52,1424.49 L1055.85,1423.95 L1057.19,1423.26 L1058.53,1422.46 L1059.86,1421.61 L1061.2,1420.75 L1062.54,1419.94 L1063.88,1419.22 L1065.21,1418.64 L1066.55,1418.25 L1067.89,1418.11 L1069.22,1418.19 L1070.56,1418.44 L1071.9,1418.82 L1073.24,1419.3 L1074.57,1419.86 L1075.91,1420.45 L1077.25,1421.04 L1078.59,1421.62 L1079.92,1422.13 L1081.26,1422.56 L1082.6,1422.87 L1083.93,1423.02 L1085.27,1422.85 L1086.61,1421.87 L1087.95,1420.2 L1089.28,1418.02 L1090.62,1415.5 L1091.96,1412.8 L1093.3,1410.12 L1094.63,1407.6 L1095.97,1405.44 L1097.31,1403.24 L1098.64,1400.81 L1099.98,1398.73 L1101.32,1397.54 L1102.66,1397.68 L1103.99,1398.8 L1105.33,1400.43 L1106.67,1402.12 L1108.01,1403.38 L1109.34,1403.78 L1110.68,1402.75 L1112.02,1400.56 L1113.35,1397.74 L1114.69,1394.82 L1116.03,1392.33 L1117.37,1390.82 L1118.7,1390.94 L1120.04,1393.47 L1121.38,1397.66 L1122.72,1402.56 L1124.05,1407.24 L1125.39,1410.75 L1126.73,1412.14 L1128.06,1411.66 L1129.4,1410.41 L1130.74,1408.66 L1132.08,1406.71 L1133.41,1404.85 L1134.75,1403.34 L1136.09,1401.97 L1137.43,1400.64 L1138.76,1399.32 L1140.1,1397.99 L1140.1,1426.85 Z"/></clipPath>
<clipPath id="cl8"><path d="M873.97,1522.1 L873.97,1522.1 L875.31,1521.76 L876.65,1521.49 L877.99,1521.21 L879.32,1520.86 L880.66,1520.33 L882,1519.45 L883.33,1514.41 L884.67,1506.21 L886.01,1498.31 L887.35,1490.1 L888.68,1481.28 L890.02,1471.88 L891.36,1461.94 L892.7,1451.51 L894.03,1440.54 L895.37,1426.7 L896.71,1426.7 L898.05,1426.7 L899.38,1426.7 L900.72,1426.7 L902.06,1426.7 L903.39,1426.7 L904.73,1426.7 L906.07,1426.7 L907.41,1426.7 L908.74,1426.7 L910.08,1426.7 L911.42,1426.7 L912.76,1426.7 L914.09,1426.7 L915.43,1426.7 L916.77,1426.7 L918.11,1426.7 L919.44,1426.7 L920.78,1426.7 L922.12,1426.7 L923.45,1426.7 L924.79,1426.7 L926.13,1426.7 L927.47,1426.7 L928.8,1426.7 L930.14,1426.7 L931.48,1426.7 L932.82,1426.7 L934.15,1426.7 L935.49,1426.7 L936.83,1426.7 L938.16,1426.7 L939.5,1426.7 L940.84,1426.7 L942.18,1426.7 L943.51,1426.7 L944.85,1426.7 L946.19,1426.7 L947.53,1426.7 L948.86,1426.7 L950.2,1426.7 L951.54,1426.7 L952.88,1426.7 L954.21,1426.7 L955.55,1426.7 L956.89,1426.7 L958.22,1426.7 L959.56,1426.7 L960.9,1426.7 L962.24,1426.7 L963.57,1426.7 L964.91,1426.7 L966.25,1426.7 L967.59,1426.7 L968.92,1426.7 L970.26,1426.7 L971.6,1426.7 L972.94,1426.7 L974.27,1426.7 L975.61,1426.7 L976.95,1426.7 L978.28,1426.7 L979.62,1426.7 L980.96,1426.7 L982.3,1426.7 L983.63,1426.7 L984.97,1426.7 L986.31,1426.7 L987.65,1426.7 L988.98,1426.7 L990.32,1426.7 L991.66,1426.7 L992.99,1426.7 L994.33,1426.7 L995.67,1426.7 L997.01,1426.7 L998.34,1426.7 L999.68,1426.7 L1001.02,1426.7 L1002.36,1426.7 L1003.69,1426.7 L1005.03,1426.7 L1006.37,1426.7 L1007.71,1426.7 L1009.04,1426.7 L1010.38,1426.7 L1011.72,1426.7 L1013.05,1426.7 L1014.39,1426.7 L1015.73,1439.31 L1017.07,1451.75 L1018.4,1463.13 L1019.74,1475.43 L1021.08,1489.8 L1022.42,1500.96 L1023.75,1510.38 L1025.09,1515.63 L1026.43,1516.71 L1027.77,1517.28 L1029.1,1517.18 L1030.44,1516.41 L1031.78,1515.36 L1033.11,1514.25 L1034.45,1512.74 L1035.79,1510.96 L1037.13,1509.13 L1038.46,1507.46 L1039.8,1506.15 L1041.14,1505.43 L1042.48,1505.18 L1043.81,1505.04 L1045.15,1504.91 L1046.49,1504.68 L1047.82,1503.82 L1049.16,1501.65 L1050.5,1498.81 L1051.84,1496 L1053.17,1493.75 L1054.51,1491.71 L1055.85,1489.61 L1057.19,1487.25 L1058.52,1484.05 L1059.86,1479.9 L1061.2,1475.46 L1062.54,1471.43 L1063.87,1468.46 L1065.21,1467.25 L1066.55,1468.48 L1067.88,1471.8 L1069.22,1476.18 L1070.56,1480.61 L1071.9,1484.07 L1073.23,1485.53 L1074.57,1484.09 L1075.91,1480.13 L1077.25,1474.65 L1078.58,1468.64 L1079.92,1463.09 L1081.26,1458.98 L1082.6,1457.31 L1083.93,1458.94 L1085.27,1463.43 L1086.61,1469.79 L1087.94,1477.01 L1089.28,1484.1 L1090.62,1490.06 L1091.96,1493.88 L1093.29,1494.65 L1094.63,1493.07 L1095.97,1490 L1097.31,1486.02 L1098.64,1481.69 L1099.98,1477.58 L1101.32,1474.26 L1102.66,1472.31 L1103.99,1472.23 L1105.33,1473.94 L1106.67,1477.02 L1108,1481.08 L1109.34,1485.7 L1110.68,1490.5 L1112.02,1495.08 L1113.35,1499.03 L1114.69,1501.96 L1116.03,1503.46 L1117.37,1503.36 L1118.7,1502.34 L1120.04,1500.72 L1121.38,1498.77 L1122.71,1496.77 L1124.05,1495 L1125.39,1493.73 L1126.73,1493.24 L1128.06,1493.58 L1129.4,1494.47 L1130.74,1495.7 L1132.08,1497.06 L1133.41,1498.34 L1134.75,1499.35 L1136.09,1500.22 L1137.43,1501.05 L1138.76,1501.87 L1140.1,1502.7 L1140.1,1522.1 Z"/></clipPath>
<clipPath id="cl9"><path d="M886.22,1617 L886.22,1617 L887.56,1616.66 L888.89,1616.39 L890.23,1616.12 L891.57,1615.78 L892.9,1615.3 L894.24,1614.62 L895.58,1611.49 L896.91,1605.26 L898.25,1598.22 L899.58,1591.59 L900.92,1584.49 L902.26,1576.9 L903.59,1568.85 L904.93,1560.38 L906.26,1551.5 L907.6,1542.25 L908.94,1532.23 L910.27,1521.6 L911.61,1521.6 L912.95,1521.6 L914.28,1521.6 L915.62,1521.6 L916.95,1521.6 L918.29,1521.6 L919.63,1521.6 L920.96,1521.6 L922.3,1521.6 L923.64,1521.6 L924.97,1521.6 L926.31,1521.6 L927.64,1521.6 L928.98,1521.6 L930.32,1521.6 L931.65,1521.6 L932.99,1521.6 L934.33,1521.6 L935.66,1521.6 L937,1521.6 L938.33,1521.6 L939.67,1521.6 L941.01,1521.6 L942.34,1521.6 L943.68,1521.6 L945.01,1521.6 L946.35,1521.6 L947.69,1521.6 L949.02,1521.6 L950.36,1521.6 L951.7,1521.6 L953.03,1521.6 L954.37,1521.6 L955.7,1521.6 L957.04,1521.6 L958.38,1521.6 L959.71,1521.6 L961.05,1521.6 L962.39,1521.6 L963.72,1521.6 L965.06,1521.6 L966.39,1521.6 L967.73,1521.6 L969.07,1521.6 L970.4,1521.6 L971.74,1521.6 L973.07,1521.6 L974.41,1521.6 L975.75,1521.6 L977.08,1521.6 L978.42,1521.6 L979.76,1521.6 L981.09,1521.6 L982.43,1521.6 L983.76,1521.6 L985.1,1521.6 L986.44,1521.6 L987.77,1521.6 L989.11,1521.6 L990.45,1521.6 L991.78,1521.6 L993.12,1521.6 L994.45,1521.6 L995.79,1521.6 L997.13,1521.6 L998.46,1521.6 L999.8,1521.6 L1001.14,1521.6 L1002.47,1521.6 L1003.81,1521.6 L1005.14,1521.6 L1006.48,1521.6 L1007.82,1521.6 L1009.15,1521.6 L1010.49,1521.6 L1011.82,1521.6 L1013.16,1521.6 L1014.5,1521.6 L1015.83,1521.6 L1017.17,1521.6 L1018.51,1521.6 L1019.84,1521.6 L1021.18,1521.6 L1022.51,1521.6 L1023.85,1521.6 L1025.19,1521.6 L1026.52,1521.6 L1027.86,1521.6 L1029.2,1521.6 L1030.53,1521.6 L1031.87,1521.6 L1033.2,1521.6 L1034.54,1521.6 L1035.88,1521.6 L1037.21,1521.6 L1038.55,1521.6 L1039.88,1521.6 L1041.22,1521.6 L1042.56,1521.6 L1043.89,1521.6 L1045.23,1521.6 L1046.57,1521.6 L1047.9,1521.6 L1049.24,1521.6 L1050.57,1521.6 L1051.91,1521.6 L1053.25,1525.22 L1054.58,1536.27 L1055.92,1543.17 L1057.26,1549.55 L1058.59,1554.53 L1059.93,1557.18 L1061.26,1556.24 L1062.6,1551.08 L1063.94,1543.3 L1065.27,1533.56 L1066.61,1521.6 L1067.95,1521.6 L1069.28,1521.6 L1070.62,1521.6 L1071.95,1521.6 L1073.29,1521.6 L1074.63,1521.6 L1075.96,1521.6 L1077.3,1531.84 L1078.63,1551 L1079.97,1564.8 L1081.31,1568.96 L1082.64,1571.66 L1083.98,1572.77 L1085.32,1572.12 L1086.65,1569.83 L1087.99,1566.44 L1089.32,1562.5 L1090.66,1558.57 L1092,1555.18 L1093.33,1552.88 L1094.67,1552.25 L1096.01,1553.93 L1097.34,1557.61 L1098.68,1562.57 L1100.01,1568.12 L1101.35,1573.56 L1102.69,1578.17 L1104.02,1581.26 L1105.36,1582.44 L1106.69,1583.08 L1108.03,1583.55 L1109.37,1583.9 L1110.7,1584.23 L1112.04,1584.59 L1113.38,1585.06 L1114.71,1585.72 L1116.05,1586.96 L1117.38,1589.64 L1118.72,1593.32 L1120.06,1597.49 L1121.39,1601.63 L1122.73,1605.23 L1124.07,1607.77 L1125.4,1608.73 L1126.74,1608.69 L1128.07,1608.58 L1129.41,1608.4 L1130.75,1608.18 L1132.08,1607.93 L1133.42,1607.65 L1134.76,1607.35 L1136.09,1606.92 L1137.43,1606.37 L1138.76,1605.79 L1140.1,1605.23 L1140.1,1617 Z"/></clipPath>
<clipPath id="box"><rect x="806" y="0" width="668.5" height="1715"/></clipPath>
</defs>
<path d="M917.4,682.9 v12 M917.4,762.4 v-12 M1028.75,682.9 v12 M1028.75,762.4 v-12 M1140.1,682.9 v12 M1140.1,762.4 v-12 M1251.45,682.9 v12 M1251.45,762.4 v-12 M1362.8,682.9 v12 M1362.8,762.4 v-12 M806,722.65 h13 M1474.5,722.65 h-13 " stroke="#333" stroke-width="1.4"/>
<g clip-path="url(#cl0)"><path d="M933.97,682.9 h2.5 V762.4 h-2.5 Z M938.65,682.9 h2.5 V762.4 h-2.5 Z M943.33,682.9 h2.5 V762.4 h-2.5 Z M948.01,682.9 h2.5 V762.4 h-2.5 Z M952.69,682.9 h2.5 V762.4 h-2.5 Z M957.37,682.9 h2.5 V762.4 h-2.5 Z M962.05,682.9 h2.5 V762.4 h-2.5 Z M966.73,682.9 h2.5 V762.4 h-2.5 Z M971.41,682.9 h2.5 V762.4 h-2.5 Z M976.09,682.9 h2.5 V762.4 h-2.5 Z M980.77,682.9 h2.5 V762.4 h-2.5 Z M985.45,682.9 h2.5 V762.4 h-2.5 Z M990.13,682.9 h2.5 V762.4 h-2.5 Z M994.81,682.9 h2.5 V762.4 h-2.5 Z M999.49,682.9 h2.5 V762.4 h-2.5 Z M1004.17,682.9 h2.5 V762.4 h-2.5 Z M1008.85,682.9 h2.5 V762.4 h-2.5 Z M1013.53,682.9 h2.5 V762.4 h-2.5 Z M1018.21,682.9 h2.5 V762.4 h-2.5 Z M1022.89,682.9 h2.5 V762.4 h-2.5 Z M1027.57,682.9 h2.5 V762.4 h-2.5 Z M1032.25,682.9 h2.5 V762.4 h-2.5 Z M1036.93,682.9 h2.5 V762.4 h-2.5 Z M1041.61,682.9 h2.5 V762.4 h-2.5 Z M1046.29,682.9 h2.5 V762.4 h-2.5 Z M1050.97,682.9 h2.5 V762.4 h-2.5 Z M1055.65,682.9 h2.5 V762.4 h-2.5 Z M1060.33,682.9 h2.5 V762.4 h-2.5 Z M1065.01,682.9 h2.5 V762.4 h-2.5 Z M1069.69,682.9 h2.5 V762.4 h-2.5 Z M1074.37,682.9 h2.5 V762.4 h-2.5 Z M1079.05,682.9 h2.5 V762.4 h-2.5 Z M1083.73,682.9 h2.5 V762.4 h-2.5 Z M1088.41,682.9 h2.5 V762.4 h-2.5 Z M1093.09,682.9 h2.5 V762.4 h-2.5 Z M1097.77,682.9 h2.5 V762.4 h-2.5 Z M1102.45,682.9 h2.5 V762.4 h-2.5 Z M1107.13,682.9 h2.5 V762.4 h-2.5 Z M1111.81,682.9 h2.5 V762.4 h-2.5 Z M1116.49,682.9 h2.5 V762.4 h-2.5 Z M1121.17,682.9 h2.5 V762.4 h-2.5 Z M1125.85,682.9 h2.5 V762.4 h-2.5 Z M1130.53,682.9 h2.5 V762.4 h-2.5 Z M1135.21,682.9 h2.5 V762.4 h-2.5 Z M1139.89,682.9 h2.5 V762.4 h-2.5 Z " fill="#0a0a0a"/></g>
<path d="M940.12,762.4 L941.45,762.06 L942.78,761.79 L944.12,761.52 L945.45,761.17 L946.78,760.64 L948.11,759.79 L949.45,754.67 L950.78,746.27 L952.11,738.15 L953.45,729.56 L954.78,720.28 L956.11,710.36 L957.45,699.89 L958.78,688.92 L960.11,682.9 L961.45,682.9 L962.78,682.9 L964.11,682.9 L965.45,682.9 L966.78,682.9 L968.11,682.9 L969.45,682.9 L970.78,682.9 L972.11,682.9 L973.45,682.9 L974.78,682.9 L976.11,682.9 L977.45,682.9 L978.78,682.9 L980.11,682.9 L981.45,682.9 L982.78,682.9 L984.11,682.9 L985.45,682.9 L986.78,682.9 L988.11,682.9 L989.44,682.9 L990.78,682.9 L992.11,682.9 L993.44,682.9 L994.78,682.9 L996.11,682.9 L997.44,682.9 L998.78,682.9 L1000.11,682.9 L1001.44,682.9 L1002.78,682.9 L1004.11,682.9 L1005.44,682.9 L1006.78,682.9 L1008.11,682.9 L1009.44,682.9 L1010.78,682.9 L1012.11,682.9 L1013.44,682.9 L1014.78,682.9 L1016.11,682.9 L1017.44,682.9 L1018.78,682.9 L1020.11,682.9 L1021.44,682.9 L1022.78,682.9 L1024.11,682.9 L1025.44,682.9 L1026.78,682.9 L1028.11,682.9 L1029.44,682.9 L1030.78,682.9 L1032.11,682.9 L1033.44,682.9 L1034.77,682.9 L1036.11,682.9 L1037.44,682.9 L1038.77,682.9 L1040.11,682.9 L1041.44,682.9 L1042.77,682.9 L1044.11,682.9 L1045.44,682.9 L1046.77,682.9 L1048.11,682.9 L1049.44,682.9 L1050.77,682.9 L1052.11,682.9 L1053.44,682.9 L1054.77,682.9 L1056.11,682.9 L1057.44,682.9 L1058.77,682.9 L1060.11,682.9 L1061.44,689.69 L1062.77,705.05 L1064.11,719.72 L1065.44,732.07 L1066.77,743.35 L1068.11,751.85 L1069.44,757 L1070.77,759.96 L1072.11,760.84 L1073.44,761.51 L1074.77,762 L1076.1,762.29 L1077.44,762.4 L1078.77,762.4 L1080.1,762.4 L1081.44,762.4 L1082.77,762.4 L1084.1,762.4 L1085.44,762.4 L1086.77,762.4 L1088.1,762.4 L1089.44,762.4 L1090.77,762.34 L1092.1,761.98 L1093.44,761.39 L1094.77,760.68 L1096.1,759.96 L1097.44,759.02 L1098.77,757.79 L1100.1,756.48 L1101.44,755.27 L1102.77,754.38 L1104.1,753.91 L1105.44,753.61 L1106.77,753.38 L1108.1,753.17 L1109.44,752.93 L1110.77,752.6 L1112.1,752.15 L1113.44,751.58 L1114.77,750.92 L1116.1,750.16 L1117.44,749.01 L1118.77,747.76 L1120.1,746.85 L1121.43,746.74 L1122.77,747.65 L1124.1,749.21 L1125.43,750.99 L1126.77,752.55 L1128.1,753.45 L1129.43,753.69 L1130.77,753.89 L1132.1,754.03 L1133.43,754.12 L1134.77,754.1 L1136.1,753.64 L1137.43,752.85 L1138.77,751.93 L1140.1,751.11" fill="none" stroke="#3a2020" stroke-width="1" opacity="0.8"/>
<path d="M1140.1,762.4 V751.11" stroke="#111" stroke-width="1.3"/>
<path d="M1140.1,751.39 L1141.43,752.3 L1142.76,752.9 L1144.1,754.05 L1145.43,755.34 L1146.76,756.57 L1148.09,757.28 L1149.43,757.74 L1150.76,757.83 L1152.09,757.73 L1153.42,757.71 L1154.75,758.05 L1156.09,758.4 L1157.42,758.41 L1158.75,758.27 L1160.08,758.56 L1161.42,759.36 L1162.75,759.9 L1164.08,760.03 L1165.41,760.34 L1166.74,760.79 L1168.08,761.32 L1169.41,761.49 L1170.74,761.81 L1172.07,762.08 L1173.41,762.27 L1174.74,762.38 L1176.07,762.39 L1177.4,762.29 L1178.73,762.08 L1180.07,761.79 L1181.4,761.42 L1182.73,760.83 L1184.06,760.4 L1185.4,759.91 L1186.73,759.42 L1188.06,759 L1189.39,758.22 L1190.72,757.6 L1192.06,756.9 L1193.39,756.27 L1194.72,755.3 L1196.05,754.49 L1197.39,753.8 L1198.72,752.65 L1200.05,751.49 L1201.38,750.36 L1202.71,749.31 L1204.05,748.22 L1205.38,747.67 L1206.71,747.68 L1208.04,747.89 L1209.38,747.95 L1210.71,748 L1212.04,748.03 L1213.37,748.33 L1214.7,748.45 L1216.04,748.58 L1217.37,748.76 L1218.7,748.94 L1220.03,749.29 L1221.37,749.46 L1222.7,749.73 L1224.03,750.01 L1225.36,750.26 L1226.69,750.21 L1228.03,750.29 L1229.36,750.49 L1230.69,750.52 L1232.02,750.53 L1233.36,750.9 L1234.69,751.13 L1236.02,751.2 L1237.35,751.38 L1238.68,751.52 L1240.02,751.56 L1241.35,751.14 L1242.68,750.37 L1244.01,749.31 L1245.35,748.6 L1246.68,747.71 L1248.01,747.23 L1249.34,746.99 L1250.67,746.97 L1252.01,746.89 L1253.34,747.21 L1254.67,748.28 L1256,749.16 L1257.34,749.86 L1258.67,750.18 L1260,750.29 L1261.33,750.15 L1262.66,749.58 L1264,748.88 L1265.33,748.26 L1266.66,748.27 L1267.99,748.26 L1269.33,748.78 L1270.66,749.59 L1271.99,750.81 L1273.32,751.77 L1274.65,752.59 L1275.99,753.41 L1277.32,754.56 L1278.65,755.68 L1279.98,756.3 L1281.32,756.67 L1282.65,756.86 L1283.98,756.22 L1285.31,755.15 L1286.64,753.47 L1287.98,751.75 L1289.31,750.39 L1290.64,749.72 L1291.97,749.3 L1293.31,749.02 L1294.64,749.09 L1295.97,749.21 L1297.3,749.4 L1298.63,749.46 L1299.97,749.64 L1301.3,750.08 L1302.63,750.91 L1303.96,751.2 L1305.3,751.44 L1306.63,751.73 L1307.96,752.56 L1309.29,753.63 L1310.62,754.75 L1311.96,755.64 L1313.29,756.43 L1314.62,757.53 L1315.95,758.46 L1317.29,759.24 L1318.62,760.18 L1319.95,761.17 L1321.28,761.31 L1322.61,761.59 L1323.95,761.74 L1325.28,761.88 L1326.61,762.01 L1327.94,762.12 L1329.28,762.22 L1330.61,762.3 L1331.94,762.35 L1333.27,762.39 L1334.6,762.4 L1335.94,762.4 L1337.27,762.4 L1338.6,762.4 L1339.93,762.4 L1341.27,762.4 L1342.6,762.4 L1343.93,762.4 L1345.26,762.4 L1346.59,762.4 L1347.93,762.4 L1349.26,762.4 L1350.59,762.4 L1351.92,762.4 L1353.26,762.4 L1354.59,762.4 L1355.92,762.4 L1357.25,762.4 L1358.58,762.4 L1359.92,762.4 L1361.25,762.4 L1362.58,762.4 L1363.91,762.4" fill="none" stroke="#3a1010" stroke-width="1.7" opacity="0.45"/>
<path d="M1140.1,751.39 L1141.43,752.3 L1142.76,752.9 L1144.1,754.05 L1145.43,755.34 L1146.76,756.57 L1148.09,757.28 L1149.43,757.74 L1150.76,757.83 L1152.09,757.73 L1153.42,757.71 L1154.75,758.05 L1156.09,758.4 L1157.42,758.41 L1158.75,758.27 L1160.08,758.56 L1161.42,759.36 L1162.75,759.9 L1164.08,760.03 L1165.41,760.34 L1166.74,760.79 L1168.08,761.32 L1169.41,761.49 L1170.74,761.81 L1172.07,762.08 L1173.41,762.27 L1174.74,762.38 L1176.07,762.39 L1177.4,762.29 L1178.73,762.08 L1180.07,761.79 L1181.4,761.42 L1182.73,760.83 L1184.06,760.4 L1185.4,759.91 L1186.73,759.42 L1188.06,759 L1189.39,758.22 L1190.72,757.6 L1192.06,756.9 L1193.39,756.27 L1194.72,755.3 L1196.05,754.49 L1197.39,753.8 L1198.72,752.65 L1200.05,751.49 L1201.38,750.36 L1202.71,749.31 L1204.05,748.22 L1205.38,747.67 L1206.71,747.68 L1208.04,747.89 L1209.38,747.95 L1210.71,748 L1212.04,748.03 L1213.37,748.33 L1214.7,748.45 L1216.04,748.58 L1217.37,748.76 L1218.7,748.94 L1220.03,749.29 L1221.37,749.46 L1222.7,749.73 L1224.03,750.01 L1225.36,750.26 L1226.69,750.21 L1228.03,750.29 L1229.36,750.49 L1230.69,750.52 L1232.02,750.53 L1233.36,750.9 L1234.69,751.13 L1236.02,751.2 L1237.35,751.38 L1238.68,751.52 L1240.02,751.56 L1241.35,751.14 L1242.68,750.37 L1244.01,749.31 L1245.35,748.6 L1246.68,747.71 L1248.01,747.23 L1249.34,746.99 L1250.67,746.97 L1252.01,746.89 L1253.34,747.21 L1254.67,748.28 L1256,749.16 L1257.34,749.86 L1258.67,750.18 L1260,750.29 L1261.33,750.15 L1262.66,749.58 L1264,748.88 L1265.33,748.26 L1266.66,748.27 L1267.99,748.26 L1269.33,748.78 L1270.66,749.59 L1271.99,750.81 L1273.32,751.77 L1274.65,752.59 L1275.99,753.41 L1277.32,754.56 L1278.65,755.68 L1279.98,756.3 L1281.32,756.67 L1282.65,756.86 L1283.98,756.22 L1285.31,755.15 L1286.64,753.47 L1287.98,751.75 L1289.31,750.39 L1290.64,749.72 L1291.97,749.3 L1293.31,749.02 L1294.64,749.09 L1295.97,749.21 L1297.3,749.4 L1298.63,749.46 L1299.97,749.64 L1301.3,750.08 L1302.63,750.91 L1303.96,751.2 L1305.3,751.44 L1306.63,751.73 L1307.96,752.56 L1309.29,753.63 L1310.62,754.75 L1311.96,755.64 L1313.29,756.43 L1314.62,757.53 L1315.95,758.46 L1317.29,759.24 L1318.62,760.18 L1319.95,761.17 L1321.28,761.31 L1322.61,761.59 L1323.95,761.74 L1325.28,761.88 L1326.61,762.01 L1327.94,762.12 L1329.28,762.22 L1330.61,762.3 L1331.94,762.35 L1333.27,762.39 L1334.6,762.4 L1335.94,762.4 L1337.27,762.4 L1338.6,762.4 L1339.93,762.4 L1341.27,762.4 L1342.6,762.4 L1343.93,762.4 L1345.26,762.4 L1346.59,762.4 L1347.93,762.4 L1349.26,762.4 L1350.59,762.4 L1351.92,762.4 L1353.26,762.4 L1354.59,762.4 L1355.92,762.4 L1357.25,762.4 L1358.58,762.4 L1359.92,762.4 L1361.25,762.4 L1362.58,762.4 L1363.91,762.4" fill="none" stroke="#e3242b" stroke-width="1.3"/>
<rect x="806" y="682.9" width="668.5" height="79.5" fill="none" stroke="#2e2e2e" stroke-width="1.35"/>
<text x="1387" y="707.1" font-family="'Liberation Serif', serif" font-size="18" fill="#111">MgScH<tspan font-size="12.5" dy="5.5" dx="1.5">3</tspan></text>
<path d="M917.4,777.3 v12 M917.4,856.8 v-12 M1028.75,777.3 v12 M1028.75,856.8 v-12 M1140.1,777.3 v12 M1140.1,856.8 v-12 M1251.45,777.3 v12 M1251.45,856.8 v-12 M1362.8,777.3 v12 M1362.8,856.8 v-12 M806,817.05 h13 M1474.5,817.05 h-13 " stroke="#333" stroke-width="1.4"/>
<g clip-path="url(#cl1)"><path d="M905.89,777.3 h2.5 V856.8 h-2.5 Z M910.57,777.3 h2.5 V856.8 h-2.5 Z M915.25,777.3 h2.5 V856.8 h-2.5 Z M919.93,777.3 h2.5 V856.8 h-2.5 Z M924.61,777.3 h2.5 V856.8 h-2.5 Z M929.29,777.3 h2.5 V856.8 h-2.5 Z M933.97,777.3 h2.5 V856.8 h-2.5 Z M938.65,777.3 h2.5 V856.8 h-2.5 Z M943.33,777.3 h2.5 V856.8 h-2.5 Z M948.01,777.3 h2.5 V856.8 h-2.5 Z M952.69,777.3 h2.5 V856.8 h-2.5 Z M957.37,777.3 h2.5 V856.8 h-2.5 Z M962.05,777.3 h2.5 V856.8 h-2.5 Z M966.73,777.3 h2.5 V856.8 h-2.5 Z M971.41,777.3 h2.5 V856.8 h-2.5 Z M976.09,777.3 h2.5 V856.8 h-2.5 Z M980.77,777.3 h2.5 V856.8 h-2.5 Z M985.45,777.3 h2.5 V856.8 h-2.5 Z M990.13,777.3 h2.5 V856.8 h-2.5 Z M994.81,777.3 h2.5 V856.8 h-2.5 Z M999.49,777.3 h2.5 V856.8 h-2.5 Z M1004.17,777.3 h2.5 V856.8 h-2.5 Z M1008.85,777.3 h2.5 V856.8 h-2.5 Z M1013.53,777.3 h2.5 V856.8 h-2.5 Z M1018.21,777.3 h2.5 V856.8 h-2.5 Z M1022.89,777.3 h2.5 V856.8 h-2.5 Z M1027.57,777.3 h2.5 V856.8 h-2.5 Z M1032.25,777.3 h2.5 V856.8 h-2.5 Z M1036.93,777.3 h2.5 V856.8 h-2.5 Z M1041.61,777.3 h2.5 V856.8 h-2.5 Z M1046.29,777.3 h2.5 V856.8 h-2.5 Z M1050.97,777.3 h2.5 V856.8 h-2.5 Z M1055.65,777.3 h2.5 V856.8 h-2.5 Z M1060.33,777.3 h2.5 V856.8 h-2.5 Z M1065.01,777.3 h2.5 V856.8 h-2.5 Z M1069.69,777.3 h2.5 V856.8 h-2.5 Z M1074.37,777.3 h2.5 V856.8 h-2.5 Z M1079.05,777.3 h2.5 V856.8 h-2.5 Z M1083.73,777.3 h2.5 V856.8 h-2.5 Z M1088.41,777.3 h2.5 V856.8 h-2.5 Z M1093.09,777.3 h2.5 V856.8 h-2.5 Z M1097.77,777.3 h2.5 V856.8 h-2.5 Z M1102.45,777.3 h2.5 V856.8 h-2.5 Z M1107.13,777.3 h2.5 V856.8 h-2.5 Z M1111.81,777.3 h2.5 V856.8 h-2.5 Z M1116.49,777.3 h2.5 V856.8 h-2.5 Z M1121.17,777.3 h2.5 V856.8 h-2.5 Z M1125.85,777.3 h2.5 V856.8 h-2.5 Z M1130.53,777.3 h2.5 V856.8 h-2.5 Z M1135.21,777.3 h2.5 V856.8 h-2.5 Z M1139.89,777.3 h2.5 V856.8 h-2.5 Z " fill="#0a0a0a"/></g>
<path d="M915.17,856.8 L916.51,856.45 L917.85,856.16 L919.19,855.87 L920.53,855.51 L921.87,855 L923.21,854.2 L924.54,850.97 L925.88,845.4 L927.22,839.09 L928.56,833.26 L929.9,827.33 L931.24,821.12 L932.58,814.56 L933.92,807.57 L935.26,800.07 L936.59,791.98 L937.93,783.22 L939.27,777.3 L940.61,777.3 L941.95,777.3 L943.29,777.3 L944.63,777.3 L945.97,777.3 L947.31,777.3 L948.64,777.3 L949.98,777.3 L951.32,777.3 L952.66,777.3 L954,777.3 L955.34,777.3 L956.68,777.3 L958.02,777.3 L959.36,777.3 L960.69,777.3 L962.03,777.3 L963.37,777.3 L964.71,777.3 L966.05,777.3 L967.39,777.3 L968.73,777.3 L970.07,777.3 L971.4,777.3 L972.74,777.3 L974.08,777.3 L975.42,777.3 L976.76,777.3 L978.1,777.3 L979.44,777.3 L980.78,777.3 L982.12,777.3 L983.45,777.3 L984.79,777.3 L986.13,777.3 L987.47,777.3 L988.81,777.3 L990.15,777.3 L991.49,777.3 L992.83,777.3 L994.17,777.3 L995.5,777.3 L996.84,777.3 L998.18,777.3 L999.52,777.3 L1000.86,777.3 L1002.2,777.3 L1003.54,777.3 L1004.88,777.3 L1006.21,777.3 L1007.55,777.3 L1008.89,777.3 L1010.23,777.3 L1011.57,777.3 L1012.91,777.3 L1014.25,777.3 L1015.59,777.3 L1016.93,777.3 L1018.26,777.3 L1019.6,777.3 L1020.94,777.3 L1022.28,777.3 L1023.62,777.3 L1024.96,777.3 L1026.3,777.3 L1027.64,777.3 L1028.98,777.3 L1030.31,777.3 L1031.65,777.3 L1032.99,777.3 L1034.33,777.3 L1035.67,777.3 L1037.01,777.3 L1038.35,777.3 L1039.69,777.3 L1041.03,777.3 L1042.36,777.3 L1043.7,777.3 L1045.04,777.3 L1046.38,777.3 L1047.72,777.3 L1049.06,777.3 L1050.4,777.3 L1051.74,785.3 L1053.07,801.1 L1054.41,815.96 L1055.75,828.42 L1057.09,839.67 L1058.43,847.51 L1059.77,852.41 L1061.11,854.62 L1062.45,855.44 L1063.79,856.07 L1065.12,856.5 L1066.46,856.74 L1067.8,856.8 L1069.14,856.8 L1070.48,856.8 L1071.82,856.8 L1073.16,856.8 L1074.5,856.8 L1075.84,856.8 L1077.17,856.8 L1078.51,856.8 L1079.85,856.8 L1081.19,856.8 L1082.53,856.8 L1083.87,856.8 L1085.21,856.78 L1086.55,856.67 L1087.88,856.48 L1089.22,856.21 L1090.56,855.88 L1091.9,855.51 L1093.24,855.08 L1094.58,854.21 L1095.92,853.01 L1097.26,851.82 L1098.6,850.96 L1099.93,850.54 L1101.27,850.25 L1102.61,850.04 L1103.95,849.84 L1105.29,849.63 L1106.63,849.35 L1107.97,848.94 L1109.31,848.11 L1110.65,847.02 L1111.98,846.05 L1113.32,845.53 L1114.66,845.58 L1116,845.85 L1117.34,846.25 L1118.68,846.74 L1120.02,847.25 L1121.36,847.72 L1122.69,848.1 L1124.03,848.47 L1125.37,848.86 L1126.71,849.24 L1128.05,849.57 L1129.39,849.82 L1130.73,849.95 L1132.07,849.96 L1133.41,849.96 L1134.74,849.96 L1136.08,849.96 L1137.42,849.96 L1138.76,849.96 L1140.1,849.96" fill="none" stroke="#3a2020" stroke-width="1" opacity="0.8"/>
<path d="M1140.1,856.8 V849.96" stroke="#111" stroke-width="1.3"/>
<path d="M1140.1,849.96 L1141.43,850.49 L1142.76,850.85 L1144.1,851.62 L1145.43,852.17 L1146.76,852.99 L1148.09,853.62 L1149.42,854.36 L1150.76,855.32 L1152.09,855.63 L1153.42,856.09 L1154.75,856.45 L1156.08,856.69 L1157.41,856.8 L1158.75,856.8 L1160.08,856.8 L1161.41,856.8 L1162.74,856.8 L1164.07,856.76 L1165.41,856.09 L1166.74,855.05 L1168.07,853.29 L1169.4,851.57 L1170.73,849.85 L1172.07,848.33 L1173.4,847.54 L1174.73,847.18 L1176.06,846.94 L1177.39,846.86 L1178.73,846.92 L1180.06,847.03 L1181.39,846.96 L1182.72,846.75 L1184.05,846.46 L1185.39,846.2 L1186.72,845.88 L1188.05,845.52 L1189.38,845.28 L1190.71,845.11 L1192.04,844.85 L1193.38,844.59 L1194.71,844.65 L1196.04,844.61 L1197.37,844.31 L1198.7,843.81 L1200.04,843.54 L1201.37,843.73 L1202.7,843.32 L1204.03,842.98 L1205.36,842.69 L1206.7,843.04 L1208.03,842.66 L1209.36,842.65 L1210.69,842.66 L1212.02,842.63 L1213.36,842.21 L1214.69,841.91 L1216.02,841.84 L1217.35,841.84 L1218.68,842.13 L1220.02,842.37 L1221.35,842.57 L1222.68,842.77 L1224.01,843.13 L1225.34,843.49 L1226.67,843.52 L1228.01,843.84 L1229.34,844.15 L1230.67,844.68 L1232,845.22 L1233.33,846.25 L1234.67,847.37 L1236,847.92 L1237.33,848.52 L1238.66,849.13 L1239.99,849.51 L1241.33,849.17 L1242.66,848.77 L1243.99,848.54 L1245.32,848.14 L1246.65,847.67 L1247.99,847.4 L1249.32,847.38 L1250.65,847.58 L1251.98,847.28 L1253.31,846.59 L1254.64,846.06 L1255.98,845.98 L1257.31,846.02 L1258.64,845.73 L1259.97,845.34 L1261.3,844.92 L1262.64,844.89 L1263.97,844.96 L1265.3,844.69 L1266.63,844.42 L1267.96,844.05 L1269.3,843.79 L1270.63,843.55 L1271.96,843.43 L1273.29,843.15 L1274.62,843.06 L1275.96,843.3 L1277.29,843.8 L1278.62,844.44 L1279.95,845.24 L1281.28,846.22 L1282.62,847.81 L1283.95,849.04 L1285.28,849.95 L1286.61,850.01 L1287.94,850.2 L1289.27,849.92 L1290.61,849.46 L1291.94,848.39 L1293.27,847.14 L1294.6,846.33 L1295.93,845.6 L1297.27,844.94 L1298.6,844.71 L1299.93,845.25 L1301.26,845.81 L1302.59,846.16 L1303.93,846.69 L1305.26,847.65 L1306.59,848.6 L1307.92,849.32 L1309.25,849.84 L1310.59,850.46 L1311.92,850.75 L1313.25,850.85 L1314.58,851.04 L1315.91,851.69 L1317.25,852.05 L1318.58,852.09 L1319.91,852.23 L1321.24,852.26 L1322.57,852.13 L1323.9,852.12 L1325.24,852.6 L1326.57,852.92 L1327.9,852.58 L1329.23,852.59 L1330.56,852.98 L1331.9,853.57 L1333.23,853.78 L1334.56,854.17 L1335.89,854.49 L1337.22,854.5 L1338.56,854.31 L1339.89,854.57 L1341.22,854.99 L1342.55,855.63 L1343.88,855.93 L1345.22,856.23 L1346.55,856.52 L1347.88,856.8" fill="none" stroke="#3a1010" stroke-width="1.7" opacity="0.45"/>
<path d="M1140.1,849.96 L1141.43,850.49 L1142.76,850.85 L1144.1,851.62 L1145.43,852.17 L1146.76,852.99 L1148.09,853.62 L1149.42,854.36 L1150.76,855.32 L1152.09,855.63 L1153.42,856.09 L1154.75,856.45 L1156.08,856.69 L1157.41,856.8 L1158.75,856.8 L1160.08,856.8 L1161.41,856.8 L1162.74,856.8 L1164.07,856.76 L1165.41,856.09 L1166.74,855.05 L1168.07,853.29 L1169.4,851.57 L1170.73,849.85 L1172.07,848.33 L1173.4,847.54 L1174.73,847.18 L1176.06,846.94 L1177.39,846.86 L1178.73,846.92 L1180.06,847.03 L1181.39,846.96 L1182.72,846.75 L1184.05,846.46 L1185.39,846.2 L1186.72,845.88 L1188.05,845.52 L1189.38,845.28 L1190.71,845.11 L1192.04,844.85 L1193.38,844.59 L1194.71,844.65 L1196.04,844.61 L1197.37,844.31 L1198.7,843.81 L1200.04,843.54 L1201.37,843.73 L1202.7,843.32 L1204.03,842.98 L1205.36,842.69 L1206.7,843.04 L1208.03,842.66 L1209.36,842.65 L1210.69,842.66 L1212.02,842.63 L1213.36,842.21 L1214.69,841.91 L1216.02,841.84 L1217.35,841.84 L1218.68,842.13 L1220.02,842.37 L1221.35,842.57 L1222.68,842.77 L1224.01,843.13 L1225.34,843.49 L1226.67,843.52 L1228.01,843.84 L1229.34,844.15 L1230.67,844.68 L1232,845.22 L1233.33,846.25 L1234.67,847.37 L1236,847.92 L1237.33,848.52 L1238.66,849.13 L1239.99,849.51 L1241.33,849.17 L1242.66,848.77 L1243.99,848.54 L1245.32,848.14 L1246.65,847.67 L1247.99,847.4 L1249.32,847.38 L1250.65,847.58 L1251.98,847.28 L1253.31,846.59 L1254.64,846.06 L1255.98,845.98 L1257.31,846.02 L1258.64,845.73 L1259.97,845.34 L1261.3,844.92 L1262.64,844.89 L1263.97,844.96 L1265.3,844.69 L1266.63,844.42 L1267.96,844.05 L1269.3,843.79 L1270.63,843.55 L1271.96,843.43 L1273.29,843.15 L1274.62,843.06 L1275.96,843.3 L1277.29,843.8 L1278.62,844.44 L1279.95,845.24 L1281.28,846.22 L1282.62,847.81 L1283.95,849.04 L1285.28,849.95 L1286.61,850.01 L1287.94,850.2 L1289.27,849.92 L1290.61,849.46 L1291.94,848.39 L1293.27,847.14 L1294.6,846.33 L1295.93,845.6 L1297.27,844.94 L1298.6,844.71 L1299.93,845.25 L1301.26,845.81 L1302.59,846.16 L1303.93,846.69 L1305.26,847.65 L1306.59,848.6 L1307.92,849.32 L1309.25,849.84 L1310.59,850.46 L1311.92,850.75 L1313.25,850.85 L1314.58,851.04 L1315.91,851.69 L1317.25,852.05 L1318.58,852.09 L1319.91,852.23 L1321.24,852.26 L1322.57,852.13 L1323.9,852.12 L1325.24,852.6 L1326.57,852.92 L1327.9,852.58 L1329.23,852.59 L1330.56,852.98 L1331.9,853.57 L1333.23,853.78 L1334.56,854.17 L1335.89,854.49 L1337.22,854.5 L1338.56,854.31 L1339.89,854.57 L1341.22,854.99 L1342.55,855.63 L1343.88,855.93 L1345.22,856.23 L1346.55,856.52 L1347.88,856.8" fill="none" stroke="#e3242b" stroke-width="1.3"/>
<rect x="806" y="777.3" width="668.5" height="79.5" fill="none" stroke="#2e2e2e" stroke-width="1.35"/>
<text x="1387" y="801.5" font-family="'Liberation Serif', serif" font-size="18" fill="#111">MgTiH<tspan font-size="12.5" dy="5.5" dx="1.5">3</tspan></text>
<text x="800.3" y="783.4" text-anchor="end" font-family="'Liberation Serif', serif" font-size="18.3" fill="#111">0.1</text>
<text x="800.3" y="823.15" text-anchor="end" font-family="'Liberation Serif', serif" font-size="18.3" fill="#111">0.05</text>
<text x="800.3" y="862.9" text-anchor="end" font-family="'Liberation Serif', serif" font-size="18.3" fill="#111">0</text>
<path d="M917.4,871.5 v12 M917.4,951 v-12 M1028.75,871.5 v12 M1028.75,951 v-12 M1140.1,871.5 v12 M1140.1,951 v-12 M1251.45,871.5 v12 M1251.45,951 v-12 M1362.8,871.5 v12 M1362.8,951 v-12 M806,911.25 h13 M1474.5,911.25 h-13 " stroke="#333" stroke-width="1.4"/>
<g clip-path="url(#cl2)"><path d="M891.85,871.5 h2.5 V951 h-2.5 Z M896.53,871.5 h2.5 V951 h-2.5 Z M901.21,871.5 h2.5 V951 h-2.5 Z M905.89,871.5 h2.5 V951 h-2.5 Z M910.57,871.5 h2.5 V951 h-2.5 Z M915.25,871.5 h2.5 V951 h-2.5 Z M919.93,871.5 h2.5 V951 h-2.5 Z M924.61,871.5 h2.5 V951 h-2.5 Z M929.29,871.5 h2.5 V951 h-2.5 Z M933.97,871.5 h2.5 V951 h-2.5 Z M938.65,871.5 h2.5 V951 h-2.5 Z M943.33,871.5 h2.5 V951 h-2.5 Z M948.01,871.5 h2.5 V951 h-2.5 Z M952.69,871.5 h2.5 V951 h-2.5 Z M957.37,871.5 h2.5 V951 h-2.5 Z M962.05,871.5 h2.5 V951 h-2.5 Z M966.73,871.5 h2.5 V951 h-2.5 Z M971.41,871.5 h2.5 V951 h-2.5 Z M976.09,871.5 h2.5 V951 h-2.5 Z M980.77,871.5 h2.5 V951 h-2.5 Z M985.45,871.5 h2.5 V951 h-2.5 Z M990.13,871.5 h2.5 V951 h-2.5 Z M994.81,871.5 h2.5 V951 h-2.5 Z M999.49,871.5 h2.5 V951 h-2.5 Z M1004.17,871.5 h2.5 V951 h-2.5 Z M1008.85,871.5 h2.5 V951 h-2.5 Z M1013.53,871.5 h2.5 V951 h-2.5 Z M1018.21,871.5 h2.5 V951 h-2.5 Z M1022.89,871.5 h2.5 V951 h-2.5 Z M1027.57,871.5 h2.5 V951 h-2.5 Z M1032.25,871.5 h2.5 V951 h-2.5 Z M1036.93,871.5 h2.5 V951 h-2.5 Z M1041.61,871.5 h2.5 V951 h-2.5 Z M1046.29,871.5 h2.5 V951 h-2.5 Z M1050.97,871.5 h2.5 V951 h-2.5 Z M1055.65,871.5 h2.5 V951 h-2.5 Z M1060.33,871.5 h2.5 V951 h-2.5 Z M1065.01,871.5 h2.5 V951 h-2.5 Z M1069.69,871.5 h2.5 V951 h-2.5 Z M1074.37,871.5 h2.5 V951 h-2.5 Z M1079.05,871.5 h2.5 V951 h-2.5 Z M1083.73,871.5 h2.5 V951 h-2.5 Z M1088.41,871.5 h2.5 V951 h-2.5 Z M1093.09,871.5 h2.5 V951 h-2.5 Z M1097.77,871.5 h2.5 V951 h-2.5 Z M1102.45,871.5 h2.5 V951 h-2.5 Z M1107.13,871.5 h2.5 V951 h-2.5 Z M1111.81,871.5 h2.5 V951 h-2.5 Z M1116.49,871.5 h2.5 V951 h-2.5 Z M1121.17,871.5 h2.5 V951 h-2.5 Z M1125.85,871.5 h2.5 V951 h-2.5 Z M1130.53,871.5 h2.5 V951 h-2.5 Z M1135.21,871.5 h2.5 V951 h-2.5 Z M1139.89,871.5 h2.5 V951 h-2.5 Z " fill="#0a0a0a"/></g>
<path d="M899.58,951 L900.92,950.64 L902.26,950.35 L903.59,950.06 L904.93,949.69 L906.26,949.19 L907.6,948.44 L908.94,945.83 L910.27,941.28 L911.61,935.84 L912.95,930.54 L914.28,925.51 L915.62,920.38 L916.95,915.06 L918.29,909.47 L919.63,903.52 L920.96,897.12 L922.3,890.19 L923.64,882.66 L924.97,874.42 L926.31,871.5 L927.64,871.5 L928.98,871.5 L930.32,871.5 L931.65,871.5 L932.99,871.5 L934.33,871.5 L935.66,871.5 L937,871.5 L938.33,871.5 L939.67,871.5 L941.01,871.5 L942.34,871.5 L943.68,871.5 L945.01,871.5 L946.35,871.5 L947.69,871.5 L949.02,871.5 L950.36,871.5 L951.7,871.5 L953.03,871.5 L954.37,871.5 L955.7,871.5 L957.04,871.5 L958.38,871.5 L959.71,871.5 L961.05,871.5 L962.39,871.5 L963.72,871.5 L965.06,871.5 L966.39,871.5 L967.73,871.5 L969.07,871.5 L970.4,871.5 L971.74,871.5 L973.07,871.5 L974.41,871.5 L975.75,871.5 L977.08,871.5 L978.42,871.5 L979.76,871.5 L981.09,871.5 L982.43,871.5 L983.76,871.5 L985.1,871.5 L986.44,871.5 L987.77,871.5 L989.11,871.5 L990.45,871.5 L991.78,871.5 L993.12,871.5 L994.45,871.5 L995.79,871.5 L997.13,871.5 L998.46,871.5 L999.8,871.5 L1001.14,871.5 L1002.47,871.5 L1003.81,871.5 L1005.14,871.5 L1006.48,871.5 L1007.82,871.5 L1009.15,871.5 L1010.49,871.5 L1011.82,871.5 L1013.16,871.5 L1014.5,871.5 L1015.83,871.5 L1017.17,871.5 L1018.51,871.5 L1019.84,871.5 L1021.18,871.5 L1022.51,871.5 L1023.85,871.5 L1025.19,871.5 L1026.52,871.5 L1027.86,871.5 L1029.2,871.5 L1030.53,871.5 L1031.87,871.5 L1033.2,871.5 L1034.54,871.5 L1035.88,871.5 L1037.21,871.5 L1038.55,871.5 L1039.88,871.5 L1041.22,871.5 L1042.56,871.5 L1043.89,871.5 L1045.23,871.5 L1046.57,886.49 L1047.9,901.78 L1049.24,915.23 L1050.57,927 L1051.91,937.09 L1053.25,943.44 L1054.58,947.63 L1055.92,949.07 L1057.26,949.84 L1058.59,950.41 L1059.93,950.79 L1061.26,950.98 L1062.6,951 L1063.94,951 L1065.27,951 L1066.61,951 L1067.95,951 L1069.28,951 L1070.62,951 L1071.95,950.48 L1073.29,949.9 L1074.63,949.5 L1075.96,949.16 L1077.3,948.87 L1078.63,948.61 L1079.97,948.38 L1081.31,948.16 L1082.64,947.94 L1083.98,947.7 L1085.32,947.44 L1086.65,947.14 L1087.99,946.78 L1089.32,946.38 L1090.66,945.95 L1092,945.49 L1093.33,945.03 L1094.67,944.58 L1096.01,944.15 L1097.34,943.76 L1098.68,943.42 L1100.01,943.11 L1101.35,942.79 L1102.69,942.48 L1104.02,942.17 L1105.36,941.89 L1106.69,941.65 L1108.03,941.47 L1109.37,941.34 L1110.7,941.3 L1112.04,941.39 L1113.38,941.63 L1114.71,941.99 L1116.05,942.44 L1117.38,942.94 L1118.72,943.47 L1120.06,943.99 L1121.39,944.46 L1122.73,944.86 L1124.07,945.21 L1125.4,945.55 L1126.74,945.87 L1128.07,946.19 L1129.41,946.52 L1130.75,946.85 L1132.08,947.19 L1133.42,947.56 L1134.76,947.96 L1136.09,948.39 L1137.43,948.86 L1138.76,949.34 L1140.1,949.81" fill="none" stroke="#3a2020" stroke-width="1" opacity="0.8"/>
<path d="M1140.1,951 V949.81" stroke="#111" stroke-width="1.3"/>
<path d="M1140.1,951 L1141.43,951 L1142.76,951 L1144.1,950.99 L1145.43,950.95 L1146.76,950.88 L1148.09,950.79 L1149.43,950.68 L1150.76,950.54 L1152.09,950.38 L1153.42,950.21 L1154.75,949.44 L1156.09,948.49 L1157.42,947.19 L1158.75,945.37 L1160.08,943.42 L1161.42,941.63 L1162.75,940 L1164.08,938.48 L1165.41,937.09 L1166.74,936.83 L1168.08,937.06 L1169.41,937.03 L1170.74,936.76 L1172.07,936.71 L1173.41,936.65 L1174.74,936.55 L1176.07,936.77 L1177.4,936.85 L1178.73,936.81 L1180.07,936.82 L1181.4,936.7 L1182.73,936.04 L1184.06,935.33 L1185.4,935.02 L1186.73,934.7 L1188.06,934.1 L1189.39,933.63 L1190.72,933.62 L1192.06,934.29 L1193.39,935.39 L1194.72,936.48 L1196.05,937.56 L1197.39,938.73 L1198.72,939.69 L1200.05,939.95 L1201.38,939.68 L1202.71,939.69 L1204.05,939.88 L1205.38,939.94 L1206.71,939.86 L1208.04,939.61 L1209.38,939.39 L1210.71,939.52 L1212.04,939.82 L1213.37,939.8 L1214.7,939.47 L1216.04,939.13 L1217.37,938.84 L1218.7,938.02 L1220.03,936.96 L1221.37,935.7 L1222.7,934.58 L1224.03,933.97 L1225.36,934.02 L1226.69,934.27 L1228.03,934.71 L1229.36,935.58 L1230.69,937.05 L1232.02,938.23 L1233.36,939.05 L1234.69,939.7 L1236.02,940.6 L1237.35,940.91 L1238.68,940.83 L1240.02,940.38 L1241.35,940.15 L1242.68,939.86 L1244.01,939.91 L1245.35,940.36 L1246.68,941.01 L1248.01,941.76 L1249.34,942.74 L1250.67,944.03 L1252.01,945 L1253.34,945.2 L1254.67,945.39 L1256,945.49 L1257.34,945.45 L1258.67,944.6 L1260,944 L1261.33,943.7 L1262.66,943.3 L1264,942.51 L1265.33,941.42 L1266.66,940.54 L1267.99,939.63 L1269.33,938.97 L1270.66,938.41 L1271.99,937.93 L1273.32,937.47 L1274.65,936.95 L1275.99,936.58 L1277.32,936.28 L1278.65,936.1 L1279.98,935.8 L1281.32,935.73 L1282.65,935.73 L1283.98,936.46 L1285.31,937.49 L1286.64,938.61 L1287.98,939.71 L1289.31,941.14 L1290.64,942.6 L1291.97,943.26 L1293.31,943.27 L1294.64,943.16 L1295.97,943.07 L1297.3,942.91 L1298.63,942.51 L1299.97,942.13 L1301.3,941.63 L1302.63,941.03 L1303.96,940.3 L1305.3,939.83 L1306.63,939.78 L1307.96,939.76 L1309.29,940.12 L1310.62,940.6 L1311.96,941.54 L1313.29,942.5 L1314.62,943.92 L1315.95,945.17 L1317.29,946.22 L1318.62,946.64 L1319.95,946.66 L1321.28,946.61 L1322.61,946.92 L1323.95,947.03 L1325.28,947.11 L1326.61,947.15 L1327.94,947.14 L1329.28,946.93 L1330.61,946.52 L1331.94,946.5 L1333.27,946.75 L1334.6,946.97 L1335.94,947 L1337.27,947.07 L1338.6,947.26 L1339.93,947.14 L1341.27,947.03 L1342.6,946.92 L1343.93,946.88 L1345.26,947.18 L1346.59,947.33 L1347.93,947.16 L1349.26,946.85 L1350.59,947.06 L1351.92,947.44 L1353.26,947.61 L1354.59,947.72 L1355.92,947.88 L1357.25,948.53 L1358.58,949.37 L1359.92,949.9 L1361.25,950.17 L1362.58,950.61 L1363.91,951" fill="none" stroke="#3a1010" stroke-width="1.7" opacity="0.45"/>
<path d="M1140.1,951 L1141.43,951 L1142.76,951 L1144.1,950.99 L1145.43,950.95 L1146.76,950.88 L1148.09,950.79 L1149.43,950.68 L1150.76,950.54 L1152.09,950.38 L1153.42,950.21 L1154.75,949.44 L1156.09,948.49 L1157.42,947.19 L1158.75,945.37 L1160.08,943.42 L1161.42,941.63 L1162.75,940 L1164.08,938.48 L1165.41,937.09 L1166.74,936.83 L1168.08,937.06 L1169.41,937.03 L1170.74,936.76 L1172.07,936.71 L1173.41,936.65 L1174.74,936.55 L1176.07,936.77 L1177.4,936.85 L1178.73,936.81 L1180.07,936.82 L1181.4,936.7 L1182.73,936.04 L1184.06,935.33 L1185.4,935.02 L1186.73,934.7 L1188.06,934.1 L1189.39,933.63 L1190.72,933.62 L1192.06,934.29 L1193.39,935.39 L1194.72,936.48 L1196.05,937.56 L1197.39,938.73 L1198.72,939.69 L1200.05,939.95 L1201.38,939.68 L1202.71,939.69 L1204.05,939.88 L1205.38,939.94 L1206.71,939.86 L1208.04,939.61 L1209.38,939.39 L1210.71,939.52 L1212.04,939.82 L1213.37,939.8 L1214.7,939.47 L1216.04,939.13 L1217.37,938.84 L1218.7,938.02 L1220.03,936.96 L1221.37,935.7 L1222.7,934.58 L1224.03,933.97 L1225.36,934.02 L1226.69,934.27 L1228.03,934.71 L1229.36,935.58 L1230.69,937.05 L1232.02,938.23 L1233.36,939.05 L1234.69,939.7 L1236.02,940.6 L1237.35,940.91 L1238.68,940.83 L1240.02,940.38 L1241.35,940.15 L1242.68,939.86 L1244.01,939.91 L1245.35,940.36 L1246.68,941.01 L1248.01,941.76 L1249.34,942.74 L1250.67,944.03 L1252.01,945 L1253.34,945.2 L1254.67,945.39 L1256,945.49 L1257.34,945.45 L1258.67,944.6 L1260,944 L1261.33,943.7 L1262.66,943.3 L1264,942.51 L1265.33,941.42 L1266.66,940.54 L1267.99,939.63 L1269.33,938.97 L1270.66,938.41 L1271.99,937.93 L1273.32,937.47 L1274.65,936.95 L1275.99,936.58 L1277.32,936.28 L1278.65,936.1 L1279.98,935.8 L1281.32,935.73 L1282.65,935.73 L1283.98,936.46 L1285.31,937.49 L1286.64,938.61 L1287.98,939.71 L1289.31,941.14 L1290.64,942.6 L1291.97,943.26 L1293.31,943.27 L1294.64,943.16 L1295.97,943.07 L1297.3,942.91 L1298.63,942.51 L1299.97,942.13 L1301.3,941.63 L1302.63,941.03 L1303.96,940.3 L1305.3,939.83 L1306.63,939.78 L1307.96,939.76 L1309.29,940.12 L1310.62,940.6 L1311.96,941.54 L1313.29,942.5 L1314.62,943.92 L1315.95,945.17 L1317.29,946.22 L1318.62,946.64 L1319.95,946.66 L1321.28,946.61 L1322.61,946.92 L1323.95,947.03 L1325.28,947.11 L1326.61,947.15 L1327.94,947.14 L1329.28,946.93 L1330.61,946.52 L1331.94,946.5 L1333.27,946.75 L1334.6,946.97 L1335.94,947 L1337.27,947.07 L1338.6,947.26 L1339.93,947.14 L1341.27,947.03 L1342.6,946.92 L1343.93,946.88 L1345.26,947.18 L1346.59,947.33 L1347.93,947.16 L1349.26,946.85 L1350.59,947.06 L1351.92,947.44 L1353.26,947.61 L1354.59,947.72 L1355.92,947.88 L1357.25,948.53 L1358.58,949.37 L1359.92,949.9 L1361.25,950.17 L1362.58,950.61 L1363.91,951" fill="none" stroke="#e3242b" stroke-width="1.3"/>
<rect x="806" y="871.5" width="668.5" height="79.5" fill="none" stroke="#2e2e2e" stroke-width="1.35"/>
<text x="1387" y="895.7" font-family="'Liberation Serif', serif" font-size="18" fill="#111">MgVH<tspan font-size="12.5" dy="5.5" dx="1.5">3</tspan></text>
<text x="800.3" y="877.6" text-anchor="end" font-family="'Liberation Serif', serif" font-size="18.3" fill="#111">0.1</text>
<text x="800.3" y="917.35" text-anchor="end" font-family="'Liberation Serif', serif" font-size="18.3" fill="#111">0.05</text>
<text x="800.3" y="957.1" text-anchor="end" font-family="'Liberation Serif', serif" font-size="18.3" fill="#111">0</text>
<path d="M917.4,966.75 v12 M917.4,1046.25 v-12 M1028.75,966.75 v12 M1028.75,1046.25 v-12 M1140.1,966.75 v12 M1140.1,1046.25 v-12 M1251.45,966.75 v12 M1251.45,1046.25 v-12 M1362.8,966.75 v12 M1362.8,1046.25 v-12 M806,1006.5 h13 M1474.5,1006.5 h-13 " stroke="#333" stroke-width="1.4"/>
<g clip-path="url(#cl3)"><path d="M882.49,966.75 h2.5 V1046.25 h-2.5 Z M887.17,966.75 h2.5 V1046.25 h-2.5 Z M891.85,966.75 h2.5 V1046.25 h-2.5 Z M896.53,966.75 h2.5 V1046.25 h-2.5 Z M901.21,966.75 h2.5 V1046.25 h-2.5 Z M905.89,966.75 h2.5 V1046.25 h-2.5 Z M910.57,966.75 h2.5 V1046.25 h-2.5 Z M915.25,966.75 h2.5 V1046.25 h-2.5 Z M919.93,966.75 h2.5 V1046.25 h-2.5 Z M924.61,966.75 h2.5 V1046.25 h-2.5 Z M929.29,966.75 h2.5 V1046.25 h-2.5 Z M933.97,966.75 h2.5 V1046.25 h-2.5 Z M938.65,966.75 h2.5 V1046.25 h-2.5 Z M943.33,966.75 h2.5 V1046.25 h-2.5 Z M948.01,966.75 h2.5 V1046.25 h-2.5 Z M952.69,966.75 h2.5 V1046.25 h-2.5 Z M957.37,966.75 h2.5 V1046.25 h-2.5 Z M962.05,966.75 h2.5 V1046.25 h-2.5 Z M966.73,966.75 h2.5 V1046.25 h-2.5 Z M971.41,966.75 h2.5 V1046.25 h-2.5 Z M976.09,966.75 h2.5 V1046.25 h-2.5 Z M980.77,966.75 h2.5 V1046.25 h-2.5 Z M985.45,966.75 h2.5 V1046.25 h-2.5 Z M990.13,966.75 h2.5 V1046.25 h-2.5 Z M994.81,966.75 h2.5 V1046.25 h-2.5 Z M999.49,966.75 h2.5 V1046.25 h-2.5 Z M1004.17,966.75 h2.5 V1046.25 h-2.5 Z M1008.85,966.75 h2.5 V1046.25 h-2.5 Z M1013.53,966.75 h2.5 V1046.25 h-2.5 Z M1018.21,966.75 h2.5 V1046.25 h-2.5 Z M1022.89,966.75 h2.5 V1046.25 h-2.5 Z M1027.57,966.75 h2.5 V1046.25 h-2.5 Z M1032.25,966.75 h2.5 V1046.25 h-2.5 Z M1036.93,966.75 h2.5 V1046.25 h-2.5 Z M1041.61,966.75 h2.5 V1046.25 h-2.5 Z M1046.29,966.75 h2.5 V1046.25 h-2.5 Z M1050.97,966.75 h2.5 V1046.25 h-2.5 Z M1055.65,966.75 h2.5 V1046.25 h-2.5 Z M1060.33,966.75 h2.5 V1046.25 h-2.5 Z M1065.01,966.75 h2.5 V1046.25 h-2.5 Z M1069.69,966.75 h2.5 V1046.25 h-2.5 Z M1074.37,966.75 h2.5 V1046.25 h-2.5 Z M1079.05,966.75 h2.5 V1046.25 h-2.5 Z M1083.73,966.75 h2.5 V1046.25 h-2.5 Z M1088.41,966.75 h2.5 V1046.25 h-2.5 Z M1093.09,966.75 h2.5 V1046.25 h-2.5 Z M1097.77,966.75 h2.5 V1046.25 h-2.5 Z M1102.45,966.75 h2.5 V1046.25 h-2.5 Z M1107.13,966.75 h2.5 V1046.25 h-2.5 Z M1111.81,966.75 h2.5 V1046.25 h-2.5 Z M1116.49,966.75 h2.5 V1046.25 h-2.5 Z M1121.17,966.75 h2.5 V1046.25 h-2.5 Z M1125.85,966.75 h2.5 V1046.25 h-2.5 Z M1130.53,966.75 h2.5 V1046.25 h-2.5 Z M1135.21,966.75 h2.5 V1046.25 h-2.5 Z M1139.89,966.75 h2.5 V1046.25 h-2.5 Z " fill="#0a0a0a"/></g>
<path d="M892.9,1046.25 L894.24,1045.9 L895.58,1045.62 L896.91,1045.34 L898.25,1044.98 L899.58,1044.46 L900.92,1043.66 L902.26,1040 L903.59,1033.71 L904.93,1026.9 L906.26,1020.54 L907.6,1013.85 L908.94,1006.78 L910.27,999.25 L911.61,991.2 L912.95,982.58 L914.28,973.31 L915.62,966.75 L916.95,966.75 L918.29,966.75 L919.63,966.75 L920.96,966.75 L922.3,966.75 L923.64,966.75 L924.97,966.75 L926.31,966.75 L927.64,966.75 L928.98,966.75 L930.32,966.75 L931.65,966.75 L932.99,966.75 L934.33,966.75 L935.66,966.75 L937,966.75 L938.33,966.75 L939.67,966.75 L941.01,966.75 L942.34,966.75 L943.68,966.75 L945.01,966.75 L946.35,966.75 L947.69,966.75 L949.02,966.75 L950.36,966.75 L951.7,966.75 L953.03,966.75 L954.37,966.75 L955.7,966.75 L957.04,966.75 L958.38,966.75 L959.71,966.75 L961.05,966.75 L962.39,966.75 L963.72,966.75 L965.06,966.75 L966.39,966.75 L967.73,966.75 L969.07,966.75 L970.4,966.75 L971.74,966.75 L973.07,966.75 L974.41,966.75 L975.75,966.75 L977.08,966.75 L978.42,966.75 L979.76,966.75 L981.09,966.75 L982.43,966.75 L983.76,966.75 L985.1,966.75 L986.44,966.75 L987.77,966.75 L989.11,966.75 L990.45,966.75 L991.78,966.75 L993.12,966.75 L994.45,966.75 L995.79,966.75 L997.13,966.75 L998.46,966.75 L999.8,966.75 L1001.14,966.75 L1002.47,966.75 L1003.81,966.75 L1005.14,966.75 L1006.48,966.75 L1007.82,966.75 L1009.15,966.75 L1010.49,966.75 L1011.82,966.75 L1013.16,966.75 L1014.5,966.75 L1015.83,966.75 L1017.17,966.75 L1018.51,966.75 L1019.84,966.75 L1021.18,966.75 L1022.51,966.75 L1023.85,966.75 L1025.19,966.75 L1026.52,966.75 L1027.86,966.75 L1029.2,966.75 L1030.53,966.75 L1031.87,966.75 L1033.2,966.75 L1034.54,966.75 L1035.88,966.75 L1037.21,966.75 L1038.55,966.75 L1039.88,966.75 L1041.22,966.75 L1042.56,966.75 L1043.89,982.03 L1045.23,997.67 L1046.57,1011.28 L1047.9,1023.27 L1049.24,1033.27 L1050.57,1039.38 L1051.91,1043.3 L1053.25,1044.47 L1054.58,1045.2 L1055.92,1045.74 L1057.26,1046.08 L1058.59,1046.24 L1059.93,1046.25 L1061.26,1046.25 L1062.6,1046.25 L1063.94,1046.25 L1065.27,1046.25 L1066.61,1046.25 L1067.95,1046.25 L1069.28,1046.25 L1070.62,1046.25 L1071.95,1046.23 L1073.29,1046.11 L1074.63,1045.9 L1075.96,1045.63 L1077.3,1045.3 L1078.63,1044.93 L1079.97,1044.55 L1081.31,1044.15 L1082.64,1043.77 L1083.98,1043.42 L1085.32,1043.09 L1086.65,1042.75 L1087.99,1042.4 L1089.32,1042.05 L1090.66,1041.68 L1092,1041.32 L1093.33,1040.95 L1094.67,1040.59 L1096.01,1040.23 L1097.34,1039.88 L1098.68,1039.55 L1100.01,1039.2 L1101.35,1038.8 L1102.69,1038.4 L1104.02,1038.02 L1105.36,1037.73 L1106.69,1037.54 L1108.03,1037.51 L1109.37,1037.59 L1110.7,1037.74 L1112.04,1037.94 L1113.38,1038.2 L1114.71,1038.47 L1116.05,1038.76 L1117.38,1039.07 L1118.72,1039.49 L1120.06,1040 L1121.39,1040.56 L1122.73,1041.16 L1124.07,1041.75 L1125.4,1042.32 L1126.74,1042.82 L1128.07,1043.25 L1129.41,1043.59 L1130.75,1043.9 L1132.08,1044.18 L1133.42,1044.44 L1134.76,1044.69 L1136.09,1044.94 L1137.43,1045.18 L1138.76,1045.43 L1140.1,1045.69" fill="none" stroke="#3a2020" stroke-width="1" opacity="0.8"/>
<path d="M1140.1,1046.25 V1045.69" stroke="#111" stroke-width="1.3"/>
<path d="M1140.1,1046.25 L1141.44,1046.25 L1142.77,1046.04 L1144.11,1045.27 L1145.44,1043.7 L1146.78,1042.05 L1148.12,1040.48 L1149.45,1038.54 L1150.79,1036.92 L1152.13,1035.09 L1153.46,1033.47 L1154.8,1031.84 L1156.13,1030.98 L1157.47,1030.62 L1158.81,1030.81 L1160.14,1030.86 L1161.48,1031 L1162.82,1030.89 L1164.15,1030.47 L1165.49,1030.14 L1166.82,1030.31 L1168.16,1030.8 L1169.5,1031.14 L1170.83,1030.82 L1172.17,1030.09 L1173.5,1029.46 L1174.84,1029.05 L1176.18,1028.45 L1177.51,1027.54 L1178.85,1026.56 L1180.19,1025.91 L1181.52,1025.76 L1182.86,1025.75 L1184.19,1026.3 L1185.53,1027.8 L1186.87,1030 L1188.2,1031.77 L1189.54,1032.91 L1190.88,1033.1 L1192.21,1033.12 L1193.55,1032.85 L1194.88,1032.55 L1196.22,1032.09 L1197.56,1031.98 L1198.89,1031.79 L1200.23,1031.91 L1201.57,1032.08 L1202.9,1032.56 L1204.24,1032.82 L1205.57,1033.13 L1206.91,1033.86 L1208.25,1035.08 L1209.58,1036.53 L1210.92,1037.69 L1212.25,1038.55 L1213.59,1039.68 L1214.93,1040.52 L1216.26,1040.6 L1217.6,1040.11 L1218.94,1039.27 L1220.27,1037.82 L1221.61,1036.19 L1222.94,1034.69 L1224.28,1033.39 L1225.62,1032.26 L1226.95,1031.46 L1228.29,1030.8 L1229.63,1030.88 L1230.96,1031.22 L1232.3,1031.75 L1233.63,1032.57 L1234.97,1033.93 L1236.31,1034.57 L1237.64,1034.36 L1238.98,1034.11 L1240.31,1034.09 L1241.65,1034.03 L1242.99,1033.73 L1244.32,1033.34 L1245.66,1033.1 L1247,1033.25 L1248.33,1033.95 L1249.67,1034.88 L1251,1036.05 L1252.34,1037.13 L1253.68,1038.49 L1255.01,1039.87 L1256.35,1040.81 L1257.69,1040.76 L1259.02,1040.53 L1260.36,1040.53 L1261.69,1040.33 L1263.03,1039.89 L1264.37,1039.23 L1265.7,1038.42 L1267.04,1037.83 L1268.38,1037.33 L1269.71,1036.76 L1271.05,1035.63 L1272.38,1034.82 L1273.72,1034.07 L1275.06,1033.52 L1276.39,1032.85 L1277.73,1032.21 L1279.06,1031.35 L1280.4,1030.79 L1281.74,1030.56 L1283.07,1030.63 L1284.41,1030.75 L1285.75,1031.37 L1287.08,1032.1 L1288.42,1032.98 L1289.75,1034.03 L1291.09,1035.19 L1292.43,1036.2 L1293.76,1036.29 L1295.1,1036.43 L1296.44,1036.68 L1297.77,1037.51 L1299.11,1037.81 L1300.44,1037.95 L1301.78,1037.95 L1303.12,1038.21 L1304.45,1038.08 L1305.79,1037.74 L1307.12,1037.57 L1308.46,1037.6 L1309.8,1037.31 L1311.13,1036.96 L1312.47,1036.37 L1313.81,1035.94 L1315.14,1035.6 L1316.48,1036.13 L1317.81,1037.11 L1319.15,1038.67 L1320.49,1040.68 L1321.82,1042.48 L1323.16,1043.44 L1324.5,1043.61 L1325.83,1043.69 L1327.17,1043.92 L1328.5,1043.66 L1329.84,1043.29 L1331.18,1042.71 L1332.51,1042.66 L1333.85,1042.59 L1335.19,1043.03 L1336.52,1043.33 L1337.86,1043.6 L1339.19,1043.44 L1340.53,1043.41 L1341.87,1043.3 L1343.2,1043.06 L1344.54,1043.21 L1345.87,1043.33 L1347.21,1043.69 L1348.55,1043.67 L1349.88,1043.48 L1351.22,1043.09 L1352.56,1042.98 L1353.89,1043.08 L1355.23,1043.04 L1356.56,1043.08 L1357.9,1043.09 L1359.24,1043.1 L1360.57,1043.32 L1361.91,1043.76 L1363.25,1044.16 L1364.58,1044.58 L1365.92,1045.06 L1367.25,1045.39 L1368.59,1045.62 L1369.93,1045.71 L1371.26,1045.77 L1372.6,1045.82 L1373.93,1045.86 L1375.27,1045.9 L1376.61,1045.94 L1377.94,1045.97 L1379.28,1046 L1380.62,1046.02 L1381.95,1046.05 L1383.29,1046.07 L1384.62,1046.09 L1385.96,1046.11 L1387.3,1046.13 L1388.63,1046.15 L1389.97,1046.17 L1391.31,1046.2 L1392.64,1046.22 L1393.98,1046.25" fill="none" stroke="#3a1010" stroke-width="1.7" opacity="0.45"/>
<path d="M1140.1,1046.25 L1141.44,1046.25 L1142.77,1046.04 L1144.11,1045.27 L1145.44,1043.7 L1146.78,1042.05 L1148.12,1040.48 L1149.45,1038.54 L1150.79,1036.92 L1152.13,1035.09 L1153.46,1033.47 L1154.8,1031.84 L1156.13,1030.98 L1157.47,1030.62 L1158.81,1030.81 L1160.14,1030.86 L1161.48,1031 L1162.82,1030.89 L1164.15,1030.47 L1165.49,1030.14 L1166.82,1030.31 L1168.16,1030.8 L1169.5,1031.14 L1170.83,1030.82 L1172.17,1030.09 L1173.5,1029.46 L1174.84,1029.05 L1176.18,1028.45 L1177.51,1027.54 L1178.85,1026.56 L1180.19,1025.91 L1181.52,1025.76 L1182.86,1025.75 L1184.19,1026.3 L1185.53,1027.8 L1186.87,1030 L1188.2,1031.77 L1189.54,1032.91 L1190.88,1033.1 L1192.21,1033.12 L1193.55,1032.85 L1194.88,1032.55 L1196.22,1032.09 L1197.56,1031.98 L1198.89,1031.79 L1200.23,1031.91 L1201.57,1032.08 L1202.9,1032.56 L1204.24,1032.82 L1205.57,1033.13 L1206.91,1033.86 L1208.25,1035.08 L1209.58,1036.53 L1210.92,1037.69 L1212.25,1038.55 L1213.59,1039.68 L1214.93,1040.52 L1216.26,1040.6 L1217.6,1040.11 L1218.94,1039.27 L1220.27,1037.82 L1221.61,1036.19 L1222.94,1034.69 L1224.28,1033.39 L1225.62,1032.26 L1226.95,1031.46 L1228.29,1030.8 L1229.63,1030.88 L1230.96,1031.22 L1232.3,1031.75 L1233.63,1032.57 L1234.97,1033.93 L1236.31,1034.57 L1237.64,1034.36 L1238.98,1034.11 L1240.31,1034.09 L1241.65,1034.03 L1242.99,1033.73 L1244.32,1033.34 L1245.66,1033.1 L1247,1033.25 L1248.33,1033.95 L1249.67,1034.88 L1251,1036.05 L1252.34,1037.13 L1253.68,1038.49 L1255.01,1039.87 L1256.35,1040.81 L1257.69,1040.76 L1259.02,1040.53 L1260.36,1040.53 L1261.69,1040.33 L1263.03,1039.89 L1264.37,1039.23 L1265.7,1038.42 L1267.04,1037.83 L1268.38,1037.33 L1269.71,1036.76 L1271.05,1035.63 L1272.38,1034.82 L1273.72,1034.07 L1275.06,1033.52 L1276.39,1032.85 L1277.73,1032.21 L1279.06,1031.35 L1280.4,1030.79 L1281.74,1030.56 L1283.07,1030.63 L1284.41,1030.75 L1285.75,1031.37 L1287.08,1032.1 L1288.42,1032.98 L1289.75,1034.03 L1291.09,1035.19 L1292.43,1036.2 L1293.76,1036.29 L1295.1,1036.43 L1296.44,1036.68 L1297.77,1037.51 L1299.11,1037.81 L1300.44,1037.95 L1301.78,1037.95 L1303.12,1038.21 L1304.45,1038.08 L1305.79,1037.74 L1307.12,1037.57 L1308.46,1037.6 L1309.8,1037.31 L1311.13,1036.96 L1312.47,1036.37 L1313.81,1035.94 L1315.14,1035.6 L1316.48,1036.13 L1317.81,1037.11 L1319.15,1038.67 L1320.49,1040.68 L1321.82,1042.48 L1323.16,1043.44 L1324.5,1043.61 L1325.83,1043.69 L1327.17,1043.92 L1328.5,1043.66 L1329.84,1043.29 L1331.18,1042.71 L1332.51,1042.66 L1333.85,1042.59 L1335.19,1043.03 L1336.52,1043.33 L1337.86,1043.6 L1339.19,1043.44 L1340.53,1043.41 L1341.87,1043.3 L1343.2,1043.06 L1344.54,1043.21 L1345.87,1043.33 L1347.21,1043.69 L1348.55,1043.67 L1349.88,1043.48 L1351.22,1043.09 L1352.56,1042.98 L1353.89,1043.08 L1355.23,1043.04 L1356.56,1043.08 L1357.9,1043.09 L1359.24,1043.1 L1360.57,1043.32 L1361.91,1043.76 L1363.25,1044.16 L1364.58,1044.58 L1365.92,1045.06 L1367.25,1045.39 L1368.59,1045.62 L1369.93,1045.71 L1371.26,1045.77 L1372.6,1045.82 L1373.93,1045.86 L1375.27,1045.9 L1376.61,1045.94 L1377.94,1045.97 L1379.28,1046 L1380.62,1046.02 L1381.95,1046.05 L1383.29,1046.07 L1384.62,1046.09 L1385.96,1046.11 L1387.3,1046.13 L1388.63,1046.15 L1389.97,1046.17 L1391.31,1046.2 L1392.64,1046.22 L1393.98,1046.25" fill="none" stroke="#e3242b" stroke-width="1.3"/>
<rect x="806" y="966.75" width="668.5" height="79.5" fill="none" stroke="#2e2e2e" stroke-width="1.35"/>
<text x="1387" y="990.95" font-family="'Liberation Serif', serif" font-size="18" fill="#111">MgCrH<tspan font-size="12.5" dy="5.5" dx="1.5">3</tspan></text>
<text x="800.3" y="972.85" text-anchor="end" font-family="'Liberation Serif', serif" font-size="18.3" fill="#111">0.1</text>
<text x="800.3" y="1012.6" text-anchor="end" font-family="'Liberation Serif', serif" font-size="18.3" fill="#111">0.05</text>
<text x="800.3" y="1052.35" text-anchor="end" font-family="'Liberation Serif', serif" font-size="18.3" fill="#111">0</text>
<path d="M917.4,1062.15 v12 M917.4,1141.65 v-12 M1028.75,1062.15 v12 M1028.75,1141.65 v-12 M1140.1,1062.15 v12 M1140.1,1141.65 v-12 M1251.45,1062.15 v12 M1251.45,1141.65 v-12 M1362.8,1062.15 v12 M1362.8,1141.65 v-12 M806,1101.9 h13 M1474.5,1101.9 h-13 " stroke="#333" stroke-width="1.4"/>
<g clip-path="url(#cl4)"><path d="M873.13,1062.15 h2.5 V1141.65 h-2.5 Z M877.81,1062.15 h2.5 V1141.65 h-2.5 Z M882.49,1062.15 h2.5 V1141.65 h-2.5 Z M887.17,1062.15 h2.5 V1141.65 h-2.5 Z M891.85,1062.15 h2.5 V1141.65 h-2.5 Z M896.53,1062.15 h2.5 V1141.65 h-2.5 Z M901.21,1062.15 h2.5 V1141.65 h-2.5 Z M905.89,1062.15 h2.5 V1141.65 h-2.5 Z M910.57,1062.15 h2.5 V1141.65 h-2.5 Z M915.25,1062.15 h2.5 V1141.65 h-2.5 Z M919.93,1062.15 h2.5 V1141.65 h-2.5 Z M924.61,1062.15 h2.5 V1141.65 h-2.5 Z M929.29,1062.15 h2.5 V1141.65 h-2.5 Z M933.97,1062.15 h2.5 V1141.65 h-2.5 Z M938.65,1062.15 h2.5 V1141.65 h-2.5 Z M943.33,1062.15 h2.5 V1141.65 h-2.5 Z M948.01,1062.15 h2.5 V1141.65 h-2.5 Z M952.69,1062.15 h2.5 V1141.65 h-2.5 Z M957.37,1062.15 h2.5 V1141.65 h-2.5 Z M962.05,1062.15 h2.5 V1141.65 h-2.5 Z M966.73,1062.15 h2.5 V1141.65 h-2.5 Z M971.41,1062.15 h2.5 V1141.65 h-2.5 Z M976.09,1062.15 h2.5 V1141.65 h-2.5 Z M980.77,1062.15 h2.5 V1141.65 h-2.5 Z M985.45,1062.15 h2.5 V1141.65 h-2.5 Z M990.13,1062.15 h2.5 V1141.65 h-2.5 Z M994.81,1062.15 h2.5 V1141.65 h-2.5 Z M999.49,1062.15 h2.5 V1141.65 h-2.5 Z M1004.17,1062.15 h2.5 V1141.65 h-2.5 Z M1008.85,1062.15 h2.5 V1141.65 h-2.5 Z M1013.53,1062.15 h2.5 V1141.65 h-2.5 Z M1018.21,1062.15 h2.5 V1141.65 h-2.5 Z M1022.89,1062.15 h2.5 V1141.65 h-2.5 Z M1027.57,1062.15 h2.5 V1141.65 h-2.5 Z M1032.25,1062.15 h2.5 V1141.65 h-2.5 Z M1036.93,1062.15 h2.5 V1141.65 h-2.5 Z M1041.61,1062.15 h2.5 V1141.65 h-2.5 Z M1046.29,1062.15 h2.5 V1141.65 h-2.5 Z M1050.97,1062.15 h2.5 V1141.65 h-2.5 Z M1055.65,1062.15 h2.5 V1141.65 h-2.5 Z M1060.33,1062.15 h2.5 V1141.65 h-2.5 Z M1065.01,1062.15 h2.5 V1141.65 h-2.5 Z M1069.69,1062.15 h2.5 V1141.65 h-2.5 Z M1074.37,1062.15 h2.5 V1141.65 h-2.5 Z M1079.05,1062.15 h2.5 V1141.65 h-2.5 Z M1083.73,1062.15 h2.5 V1141.65 h-2.5 Z M1088.41,1062.15 h2.5 V1141.65 h-2.5 Z M1093.09,1062.15 h2.5 V1141.65 h-2.5 Z M1097.77,1062.15 h2.5 V1141.65 h-2.5 Z M1102.45,1062.15 h2.5 V1141.65 h-2.5 Z M1107.13,1062.15 h2.5 V1141.65 h-2.5 Z M1111.81,1062.15 h2.5 V1141.65 h-2.5 Z M1116.49,1062.15 h2.5 V1141.65 h-2.5 Z M1121.17,1062.15 h2.5 V1141.65 h-2.5 Z M1125.85,1062.15 h2.5 V1141.65 h-2.5 Z M1130.53,1062.15 h2.5 V1141.65 h-2.5 Z M1135.21,1062.15 h2.5 V1141.65 h-2.5 Z M1139.89,1062.15 h2.5 V1141.65 h-2.5 Z " fill="#0a0a0a"/></g>
<path d="M882.44,1141.65 L883.77,1141.3 L885.11,1141.03 L886.44,1140.75 L887.78,1140.39 L889.11,1139.87 L890.45,1139.05 L891.78,1134.93 L893.12,1127.92 L894.45,1120.7 L895.79,1113.66 L897.12,1106.16 L898.46,1098.16 L899.79,1089.63 L901.13,1080.54 L902.46,1070.85 L903.8,1062.15 L905.13,1062.15 L906.47,1062.15 L907.8,1062.15 L909.14,1062.15 L910.47,1062.15 L911.81,1062.15 L913.14,1062.15 L914.48,1062.15 L915.81,1062.15 L917.15,1062.15 L918.48,1062.15 L919.82,1062.15 L921.15,1062.15 L922.49,1062.15 L923.82,1062.15 L925.16,1062.15 L926.49,1062.15 L927.83,1062.15 L929.16,1062.15 L930.5,1062.15 L931.83,1062.15 L933.17,1062.15 L934.5,1062.15 L935.84,1062.15 L937.17,1062.15 L938.51,1062.15 L939.84,1062.15 L941.18,1062.15 L942.51,1062.15 L943.85,1062.15 L945.18,1062.15 L946.52,1062.15 L947.85,1062.15 L949.19,1062.15 L950.52,1062.15 L951.86,1062.15 L953.19,1062.15 L954.53,1062.15 L955.86,1062.15 L957.2,1062.15 L958.53,1062.15 L959.87,1062.15 L961.2,1062.15 L962.54,1062.15 L963.87,1062.15 L965.21,1062.15 L966.54,1062.15 L967.88,1062.15 L969.21,1062.15 L970.55,1062.15 L971.88,1062.15 L973.22,1062.15 L974.55,1062.15 L975.89,1062.15 L977.22,1062.15 L978.56,1062.15 L979.89,1062.15 L981.23,1062.15 L982.56,1062.15 L983.9,1062.15 L985.23,1062.15 L986.57,1062.15 L987.9,1062.15 L989.24,1062.15 L990.57,1062.15 L991.91,1062.15 L993.24,1062.15 L994.58,1062.15 L995.92,1062.15 L997.25,1062.15 L998.59,1062.15 L999.92,1062.15 L1001.26,1062.15 L1002.59,1062.15 L1003.93,1062.15 L1005.26,1062.15 L1006.6,1062.15 L1007.93,1062.15 L1009.27,1062.15 L1010.6,1062.15 L1011.94,1062.15 L1013.27,1062.15 L1014.61,1062.15 L1015.94,1062.15 L1017.28,1062.15 L1018.61,1062.15 L1019.95,1062.15 L1021.28,1062.15 L1022.62,1062.15 L1023.95,1062.15 L1025.29,1062.15 L1026.62,1062.15 L1027.96,1062.15 L1029.29,1062.15 L1030.63,1062.15 L1031.96,1062.15 L1033.3,1062.15 L1034.63,1062.15 L1035.97,1062.15 L1037.3,1062.15 L1038.64,1068.7 L1039.97,1086.91 L1041.31,1103.91 L1042.64,1117.9 L1043.98,1129.38 L1045.31,1135.99 L1046.65,1139.33 L1047.98,1140.2 L1049.32,1140.86 L1050.65,1141.31 L1051.99,1141.57 L1053.32,1141.65 L1054.66,1141.65 L1055.99,1141.65 L1057.33,1141.65 L1058.66,1141.65 L1060,1141.65 L1061.33,1141.65 L1062.67,1141.65 L1064,1141.65 L1065.34,1141.65 L1066.67,1141.65 L1068.01,1141.65 L1069.34,1141.65 L1070.68,1141.65 L1072.01,1141.65 L1073.35,1141.65 L1074.68,1141.65 L1076.02,1141.63 L1077.35,1141.41 L1078.69,1140.98 L1080.02,1140.4 L1081.36,1139.71 L1082.69,1138.98 L1084.03,1138.25 L1085.36,1137.58 L1086.7,1137.02 L1088.03,1136.56 L1089.37,1136.09 L1090.7,1135.6 L1092.04,1135.12 L1093.37,1134.65 L1094.71,1134.2 L1096.04,1133.8 L1097.38,1133.46 L1098.71,1133.19 L1100.05,1133 L1101.38,1132.91 L1102.72,1132.91 L1104.05,1132.96 L1105.39,1133.04 L1106.72,1133.14 L1108.06,1133.27 L1109.39,1133.43 L1110.73,1133.6 L1112.06,1133.79 L1113.4,1133.99 L1114.73,1134.27 L1116.07,1134.74 L1117.4,1135.35 L1118.74,1136.03 L1120.07,1136.74 L1121.41,1137.42 L1122.74,1138.01 L1124.08,1138.46 L1125.41,1138.71 L1126.75,1138.84 L1128.08,1138.97 L1129.42,1139.07 L1130.75,1139.16 L1132.09,1139.22 L1133.42,1139.26 L1134.76,1139.2 L1136.09,1138.32 L1137.43,1136.77 L1138.76,1134.98 L1140.1,1133.38" fill="none" stroke="#3a2020" stroke-width="1" opacity="0.8"/>
<path d="M1140.1,1141.65 V1133.38" stroke="#111" stroke-width="1.3"/>
<path d="M1140.1,1133.37 L1141.43,1129.52 L1142.77,1126.3 L1144.1,1124.89 L1145.44,1123.52 L1146.77,1122.36 L1148.11,1121.41 L1149.44,1121.03 L1150.78,1120.81 L1152.11,1120.83 L1153.44,1120.97 L1154.78,1121.23 L1156.11,1121.44 L1157.45,1121.43 L1158.78,1121.51 L1160.12,1121.61 L1161.45,1121.97 L1162.79,1122.12 L1164.12,1122.07 L1165.45,1121.09 L1166.79,1119.57 L1168.12,1118.09 L1169.46,1116.76 L1170.79,1116.25 L1172.13,1116.32 L1173.46,1117.28 L1174.8,1119.08 L1176.13,1121.64 L1177.46,1124.09 L1178.8,1125.68 L1180.13,1126.88 L1181.47,1127.74 L1182.8,1128.24 L1184.14,1128.12 L1185.47,1127.42 L1186.81,1126.37 L1188.14,1124.97 L1189.47,1123.76 L1190.81,1123.31 L1192.14,1123.52 L1193.48,1123.84 L1194.81,1124.43 L1196.15,1125.42 L1197.48,1126.69 L1198.82,1128.13 L1200.15,1129.64 L1201.48,1130.96 L1202.82,1132.06 L1204.15,1133.53 L1205.49,1134.78 L1206.82,1135.39 L1208.16,1135.44 L1209.49,1134.79 L1210.82,1134.01 L1212.16,1133.16 L1213.49,1132.41 L1214.83,1131.35 L1216.16,1130.16 L1217.5,1129.26 L1218.83,1128.37 L1220.17,1127.42 L1221.5,1126.76 L1222.83,1126.59 L1224.17,1127.18 L1225.5,1127.72 L1226.84,1128.47 L1228.17,1129.54 L1229.51,1130.82 L1230.84,1131.97 L1232.18,1132.35 L1233.51,1131.88 L1234.84,1131.25 L1236.18,1130.9 L1237.51,1130.48 L1238.85,1129.4 L1240.18,1128.62 L1241.52,1128.28 L1242.85,1128.28 L1244.19,1128.39 L1245.52,1128.82 L1246.85,1129.54 L1248.19,1130.29 L1249.52,1131.24 L1250.86,1132.46 L1252.19,1133.96 L1253.53,1135 L1254.86,1135.54 L1256.2,1135.99 L1257.53,1136.47 L1258.86,1136.53 L1260.2,1136.09 L1261.53,1136.07 L1262.87,1135.91 L1264.2,1135.67 L1265.54,1135.35 L1266.87,1135.26 L1268.21,1135.01 L1269.54,1134.82 L1270.87,1134.52 L1272.21,1133.57 L1273.54,1132.37 L1274.88,1131.26 L1276.21,1130.36 L1277.55,1129.13 L1278.88,1128.12 L1280.22,1127.02 L1281.55,1126.59 L1282.88,1126.5 L1284.22,1126.97 L1285.55,1127.21 L1286.89,1127.83 L1288.22,1128.83 L1289.56,1129.92 L1290.89,1130.67 L1292.23,1131.38 L1293.56,1132.07 L1294.89,1132.96 L1296.23,1133.38 L1297.56,1133.36 L1298.9,1132.92 L1300.23,1132.78 L1301.57,1132.62 L1302.9,1132.46 L1304.24,1132.3 L1305.57,1132.2 L1306.9,1132.2 L1308.24,1132.12 L1309.57,1132.03 L1310.91,1132.04 L1312.24,1132.34 L1313.58,1132.48 L1314.91,1132.85 L1316.25,1133.64 L1317.58,1134.85 L1318.91,1135.95 L1320.25,1136.92 L1321.58,1137.62 L1322.92,1137.96 L1324.25,1138.44 L1325.59,1138.5 L1326.92,1138.46 L1328.25,1138.35 L1329.59,1138.5 L1330.92,1138.51 L1332.26,1138.44 L1333.59,1138.29 L1334.93,1138.33 L1336.26,1138.43 L1337.6,1138.74 L1338.93,1138.89 L1340.26,1138.81 L1341.6,1138.62 L1342.93,1138.62 L1344.27,1138.77 L1345.6,1138.93 L1346.94,1139.14 L1348.27,1138.96 L1349.61,1138.74 L1350.94,1138.62 L1352.27,1138.84 L1353.61,1138.87 L1354.94,1138.73 L1356.28,1138.16 L1357.61,1138.11 L1358.95,1138.48 L1360.28,1138.99 L1361.62,1139.55 L1362.95,1139.98 L1364.28,1140.29 L1365.62,1140.08 L1366.95,1140.24 L1368.29,1140.28 L1369.62,1140.51 L1370.96,1140.64 L1372.29,1140.74 L1373.63,1140.81 L1374.96,1140.85 L1376.29,1140.85 L1377.63,1140.82 L1378.96,1140.74 L1380.3,1140.64 L1381.63,1140.51 L1382.97,1140.68 L1384.3,1140.27 L1385.64,1139.77 L1386.97,1139.55 L1388.3,1139.46 L1389.64,1139.3 L1390.97,1139.09 L1392.31,1139.08 L1393.64,1138.75 L1394.98,1138.32 L1396.31,1138 L1397.65,1137.82 L1398.98,1137.72 L1400.31,1137.43 L1401.65,1137.31 L1402.98,1137.05 L1404.32,1137.2 L1405.65,1137.15 L1406.99,1137.01 L1408.32,1136.75 L1409.66,1136.63 L1410.99,1136.91 L1412.32,1137.23 L1413.66,1137.59 L1414.99,1137.84 L1416.33,1138.27 L1417.66,1138.55 L1419,1138.58 L1420.33,1138.87 L1421.67,1139.27 L1423,1139.53 L1424.33,1139.56 L1425.67,1139.57 L1427,1139.78 L1428.34,1139.78 L1429.67,1139.77 L1431.01,1139.64 L1432.34,1139.69 L1433.68,1139.73 L1435.01,1139.79 L1436.34,1139.8 L1437.68,1139.89 L1439.01,1139.98 L1440.35,1140.35 L1441.68,1140.38 L1443.02,1140.2 L1444.35,1139.84 L1445.69,1139.96 L1447.02,1140.2 L1448.35,1140.22 L1449.69,1140.25 L1451.02,1140.1 L1452.36,1140.02 L1453.69,1139.9 L1455.03,1140.16 L1456.36,1140.21 L1457.69,1140.45 L1459.03,1140.74 L1460.36,1140.47 L1461.7,1140.5 L1463.03,1140.53 L1464.37,1140.56 L1465.7,1140.59 L1467.04,1140.61 L1468.37,1140.65 L1469.7,1140.68 L1471.04,1140.71 L1472.37,1140.74 L1473.71,1140.78 L1474.5,1140.82 L1474.5,1140.86" fill="none" stroke="#3a1010" stroke-width="1.7" opacity="0.45"/>
<path d="M1140.1,1133.37 L1141.43,1129.52 L1142.77,1126.3 L1144.1,1124.89 L1145.44,1123.52 L1146.77,1122.36 L1148.11,1121.41 L1149.44,1121.03 L1150.78,1120.81 L1152.11,1120.83 L1153.44,1120.97 L1154.78,1121.23 L1156.11,1121.44 L1157.45,1121.43 L1158.78,1121.51 L1160.12,1121.61 L1161.45,1121.97 L1162.79,1122.12 L1164.12,1122.07 L1165.45,1121.09 L1166.79,1119.57 L1168.12,1118.09 L1169.46,1116.76 L1170.79,1116.25 L1172.13,1116.32 L1173.46,1117.28 L1174.8,1119.08 L1176.13,1121.64 L1177.46,1124.09 L1178.8,1125.68 L1180.13,1126.88 L1181.47,1127.74 L1182.8,1128.24 L1184.14,1128.12 L1185.47,1127.42 L1186.81,1126.37 L1188.14,1124.97 L1189.47,1123.76 L1190.81,1123.31 L1192.14,1123.52 L1193.48,1123.84 L1194.81,1124.43 L1196.15,1125.42 L1197.48,1126.69 L1198.82,1128.13 L1200.15,1129.64 L1201.48,1130.96 L1202.82,1132.06 L1204.15,1133.53 L1205.49,1134.78 L1206.82,1135.39 L1208.16,1135.44 L1209.49,1134.79 L1210.82,1134.01 L1212.16,1133.16 L1213.49,1132.41 L1214.83,1131.35 L1216.16,1130.16 L1217.5,1129.26 L1218.83,1128.37 L1220.17,1127.42 L1221.5,1126.76 L1222.83,1126.59 L1224.17,1127.18 L1225.5,1127.72 L1226.84,1128.47 L1228.17,1129.54 L1229.51,1130.82 L1230.84,1131.97 L1232.18,1132.35 L1233.51,1131.88 L1234.84,1131.25 L1236.18,1130.9 L1237.51,1130.48 L1238.85,1129.4 L1240.18,1128.62 L1241.52,1128.28 L1242.85,1128.28 L1244.19,1128.39 L1245.52,1128.82 L1246.85,1129.54 L1248.19,1130.29 L1249.52,1131.24 L1250.86,1132.46 L1252.19,1133.96 L1253.53,1135 L1254.86,1135.54 L1256.2,1135.99 L1257.53,1136.47 L1258.86,1136.53 L1260.2,1136.09 L1261.53,1136.07 L1262.87,1135.91 L1264.2,1135.67 L1265.54,1135.35 L1266.87,1135.26 L1268.21,1135.01 L1269.54,1134.82 L1270.87,1134.52 L1272.21,1133.57 L1273.54,1132.37 L1274.88,1131.26 L1276.21,1130.36 L1277.55,1129.13 L1278.88,1128.12 L1280.22,1127.02 L1281.55,1126.59 L1282.88,1126.5 L1284.22,1126.97 L1285.55,1127.21 L1286.89,1127.83 L1288.22,1128.83 L1289.56,1129.92 L1290.89,1130.67 L1292.23,1131.38 L1293.56,1132.07 L1294.89,1132.96 L1296.23,1133.38 L1297.56,1133.36 L1298.9,1132.92 L1300.23,1132.78 L1301.57,1132.62 L1302.9,1132.46 L1304.24,1132.3 L1305.57,1132.2 L1306.9,1132.2 L1308.24,1132.12 L1309.57,1132.03 L1310.91,1132.04 L1312.24,1132.34 L1313.58,1132.48 L1314.91,1132.85 L1316.25,1133.64 L1317.58,1134.85 L1318.91,1135.95 L1320.25,1136.92 L1321.58,1137.62 L1322.92,1137.96 L1324.25,1138.44 L1325.59,1138.5 L1326.92,1138.46 L1328.25,1138.35 L1329.59,1138.5 L1330.92,1138.51 L1332.26,1138.44 L1333.59,1138.29 L1334.93,1138.33 L1336.26,1138.43 L1337.6,1138.74 L1338.93,1138.89 L1340.26,1138.81 L1341.6,1138.62 L1342.93,1138.62 L1344.27,1138.77 L1345.6,1138.93 L1346.94,1139.14 L1348.27,1138.96 L1349.61,1138.74 L1350.94,1138.62 L1352.27,1138.84 L1353.61,1138.87 L1354.94,1138.73 L1356.28,1138.16 L1357.61,1138.11 L1358.95,1138.48 L1360.28,1138.99 L1361.62,1139.55 L1362.95,1139.98 L1364.28,1140.29 L1365.62,1140.08 L1366.95,1140.24 L1368.29,1140.28 L1369.62,1140.51 L1370.96,1140.64 L1372.29,1140.74 L1373.63,1140.81 L1374.96,1140.85 L1376.29,1140.85 L1377.63,1140.82 L1378.96,1140.74 L1380.3,1140.64 L1381.63,1140.51 L1382.97,1140.68 L1384.3,1140.27 L1385.64,1139.77 L1386.97,1139.55 L1388.3,1139.46 L1389.64,1139.3 L1390.97,1139.09 L1392.31,1139.08 L1393.64,1138.75 L1394.98,1138.32 L1396.31,1138 L1397.65,1137.82 L1398.98,1137.72 L1400.31,1137.43 L1401.65,1137.31 L1402.98,1137.05 L1404.32,1137.2 L1405.65,1137.15 L1406.99,1137.01 L1408.32,1136.75 L1409.66,1136.63 L1410.99,1136.91 L1412.32,1137.23 L1413.66,1137.59 L1414.99,1137.84 L1416.33,1138.27 L1417.66,1138.55 L1419,1138.58 L1420.33,1138.87 L1421.67,1139.27 L1423,1139.53 L1424.33,1139.56 L1425.67,1139.57 L1427,1139.78 L1428.34,1139.78 L1429.67,1139.77 L1431.01,1139.64 L1432.34,1139.69 L1433.68,1139.73 L1435.01,1139.79 L1436.34,1139.8 L1437.68,1139.89 L1439.01,1139.98 L1440.35,1140.35 L1441.68,1140.38 L1443.02,1140.2 L1444.35,1139.84 L1445.69,1139.96 L1447.02,1140.2 L1448.35,1140.22 L1449.69,1140.25 L1451.02,1140.1 L1452.36,1140.02 L1453.69,1139.9 L1455.03,1140.16 L1456.36,1140.21 L1457.69,1140.45 L1459.03,1140.74 L1460.36,1140.47 L1461.7,1140.5 L1463.03,1140.53 L1464.37,1140.56 L1465.7,1140.59 L1467.04,1140.61 L1468.37,1140.65 L1469.7,1140.68 L1471.04,1140.71 L1472.37,1140.74 L1473.71,1140.78 L1474.5,1140.82 L1474.5,1140.86" fill="none" stroke="#e3242b" stroke-width="1.3"/>
<rect x="806" y="1062.15" width="668.5" height="79.5" fill="none" stroke="#2e2e2e" stroke-width="1.35"/>
<text x="1387" y="1086.35" font-family="'Liberation Serif', serif" font-size="18" fill="#111">MgMnH<tspan font-size="12.5" dy="5.5" dx="1.5">3</tspan></text>
<text x="800.3" y="1068.25" text-anchor="end" font-family="'Liberation Serif', serif" font-size="18.3" fill="#111">0.1</text>
<text x="800.3" y="1108" text-anchor="end" font-family="'Liberation Serif', serif" font-size="18.3" fill="#111">0.05</text>
<text x="800.3" y="1147.75" text-anchor="end" font-family="'Liberation Serif', serif" font-size="18.3" fill="#111">0</text>
<path d="M917.4,1156.85 v12 M917.4,1236.35 v-12 M1028.75,1156.85 v12 M1028.75,1236.35 v-12 M1140.1,1156.85 v12 M1140.1,1236.35 v-12 M1251.45,1156.85 v12 M1251.45,1236.35 v-12 M1362.8,1156.85 v12 M1362.8,1236.35 v-12 M806,1196.6 h13 M1474.5,1196.6 h-13 " stroke="#333" stroke-width="1.4"/>
<g clip-path="url(#cl5)"><path d="M868.45,1156.85 h2.5 V1236.35 h-2.5 Z M873.13,1156.85 h2.5 V1236.35 h-2.5 Z M877.81,1156.85 h2.5 V1236.35 h-2.5 Z M882.49,1156.85 h2.5 V1236.35 h-2.5 Z M887.17,1156.85 h2.5 V1236.35 h-2.5 Z M891.85,1156.85 h2.5 V1236.35 h-2.5 Z M896.53,1156.85 h2.5 V1236.35 h-2.5 Z M901.21,1156.85 h2.5 V1236.35 h-2.5 Z M905.89,1156.85 h2.5 V1236.35 h-2.5 Z M910.57,1156.85 h2.5 V1236.35 h-2.5 Z M915.25,1156.85 h2.5 V1236.35 h-2.5 Z M919.93,1156.85 h2.5 V1236.35 h-2.5 Z M924.61,1156.85 h2.5 V1236.35 h-2.5 Z M929.29,1156.85 h2.5 V1236.35 h-2.5 Z M933.97,1156.85 h2.5 V1236.35 h-2.5 Z M938.65,1156.85 h2.5 V1236.35 h-2.5 Z M943.33,1156.85 h2.5 V1236.35 h-2.5 Z M948.01,1156.85 h2.5 V1236.35 h-2.5 Z M952.69,1156.85 h2.5 V1236.35 h-2.5 Z M957.37,1156.85 h2.5 V1236.35 h-2.5 Z M962.05,1156.85 h2.5 V1236.35 h-2.5 Z M966.73,1156.85 h2.5 V1236.35 h-2.5 Z M971.41,1156.85 h2.5 V1236.35 h-2.5 Z M976.09,1156.85 h2.5 V1236.35 h-2.5 Z M980.77,1156.85 h2.5 V1236.35 h-2.5 Z M985.45,1156.85 h2.5 V1236.35 h-2.5 Z M990.13,1156.85 h2.5 V1236.35 h-2.5 Z M994.81,1156.85 h2.5 V1236.35 h-2.5 Z M999.49,1156.85 h2.5 V1236.35 h-2.5 Z M1004.17,1156.85 h2.5 V1236.35 h-2.5 Z M1008.85,1156.85 h2.5 V1236.35 h-2.5 Z M1013.53,1156.85 h2.5 V1236.35 h-2.5 Z M1018.21,1156.85 h2.5 V1236.35 h-2.5 Z M1022.89,1156.85 h2.5 V1236.35 h-2.5 Z M1027.57,1156.85 h2.5 V1236.35 h-2.5 Z M1032.25,1156.85 h2.5 V1236.35 h-2.5 Z M1036.93,1156.85 h2.5 V1236.35 h-2.5 Z M1041.61,1156.85 h2.5 V1236.35 h-2.5 Z M1046.29,1156.85 h2.5 V1236.35 h-2.5 Z M1050.97,1156.85 h2.5 V1236.35 h-2.5 Z M1055.65,1156.85 h2.5 V1236.35 h-2.5 Z M1060.33,1156.85 h2.5 V1236.35 h-2.5 Z M1065.01,1156.85 h2.5 V1236.35 h-2.5 Z M1069.69,1156.85 h2.5 V1236.35 h-2.5 Z M1074.37,1156.85 h2.5 V1236.35 h-2.5 Z M1079.05,1156.85 h2.5 V1236.35 h-2.5 Z M1083.73,1156.85 h2.5 V1236.35 h-2.5 Z M1088.41,1156.85 h2.5 V1236.35 h-2.5 Z M1093.09,1156.85 h2.5 V1236.35 h-2.5 Z M1097.77,1156.85 h2.5 V1236.35 h-2.5 Z M1102.45,1156.85 h2.5 V1236.35 h-2.5 Z M1107.13,1156.85 h2.5 V1236.35 h-2.5 Z M1111.81,1156.85 h2.5 V1236.35 h-2.5 Z M1116.49,1156.85 h2.5 V1236.35 h-2.5 Z M1121.17,1156.85 h2.5 V1236.35 h-2.5 Z M1125.85,1156.85 h2.5 V1236.35 h-2.5 Z M1130.53,1156.85 h2.5 V1236.35 h-2.5 Z M1135.21,1156.85 h2.5 V1236.35 h-2.5 Z M1139.89,1156.85 h2.5 V1236.35 h-2.5 Z " fill="#0a0a0a"/></g>
<path d="M875.09,1236.35 L876.43,1236 L877.76,1235.72 L879.1,1235.43 L880.44,1235.07 L881.78,1234.55 L883.12,1233.75 L884.46,1230.21 L885.79,1224.16 L887.13,1217.51 L888.47,1211.35 L889.81,1204.93 L891.15,1198.16 L892.49,1190.96 L893.83,1183.28 L895.16,1175.03 L896.5,1166.15 L897.84,1156.85 L899.18,1156.85 L900.52,1156.85 L901.86,1156.85 L903.19,1156.85 L904.53,1156.85 L905.87,1156.85 L907.21,1156.85 L908.55,1156.85 L909.89,1156.85 L911.23,1156.85 L912.56,1156.85 L913.9,1156.85 L915.24,1156.85 L916.58,1156.85 L917.92,1156.85 L919.26,1156.85 L920.59,1156.85 L921.93,1156.85 L923.27,1156.85 L924.61,1156.85 L925.95,1156.85 L927.29,1156.85 L928.62,1156.85 L929.96,1156.85 L931.3,1156.85 L932.64,1156.85 L933.98,1156.85 L935.32,1156.85 L936.66,1156.85 L937.99,1156.85 L939.33,1156.85 L940.67,1156.85 L942.01,1156.85 L943.35,1156.85 L944.69,1156.85 L946.02,1156.85 L947.36,1156.85 L948.7,1156.85 L950.04,1156.85 L951.38,1156.85 L952.72,1156.85 L954.06,1156.85 L955.39,1156.85 L956.73,1156.85 L958.07,1156.85 L959.41,1156.85 L960.75,1156.85 L962.09,1156.85 L963.42,1156.85 L964.76,1156.85 L966.1,1156.85 L967.44,1156.85 L968.78,1156.85 L970.12,1156.85 L971.46,1156.85 L972.79,1156.85 L974.13,1156.85 L975.47,1156.85 L976.81,1156.85 L978.15,1156.85 L979.49,1156.85 L980.82,1156.85 L982.16,1156.85 L983.5,1156.85 L984.84,1156.85 L986.18,1156.85 L987.52,1156.85 L988.86,1156.85 L990.19,1156.85 L991.53,1156.85 L992.87,1156.85 L994.21,1156.85 L995.55,1156.85 L996.89,1156.85 L998.22,1156.85 L999.56,1156.85 L1000.9,1156.85 L1002.24,1156.85 L1003.58,1156.85 L1004.92,1156.85 L1006.26,1156.85 L1007.59,1156.85 L1008.93,1156.85 L1010.27,1156.85 L1011.61,1156.85 L1012.95,1156.85 L1014.29,1156.85 L1015.62,1156.85 L1016.96,1156.85 L1018.3,1156.85 L1019.64,1156.85 L1020.98,1156.85 L1022.32,1156.85 L1023.65,1156.85 L1024.99,1156.85 L1026.33,1156.85 L1027.67,1156.85 L1029.01,1156.85 L1030.35,1156.85 L1031.69,1156.85 L1033.02,1156.85 L1034.36,1159.81 L1035.7,1175.72 L1037.04,1191.51 L1038.38,1204.79 L1039.72,1216.75 L1041.05,1225.79 L1042.39,1231.17 L1043.73,1234.01 L1045.07,1234.87 L1046.41,1235.53 L1047.75,1236 L1049.09,1236.27 L1050.42,1236.35 L1051.76,1236.35 L1053.1,1236.35 L1054.44,1236.35 L1055.78,1236.35 L1057.12,1236.35 L1058.45,1236.35 L1059.79,1236.35 L1061.13,1236.35 L1062.47,1236.35 L1063.81,1236.35 L1065.15,1236.35 L1066.49,1236.35 L1067.82,1236.35 L1069.16,1236.35 L1070.5,1236.35 L1071.84,1236.35 L1073.18,1236.32 L1074.52,1236.14 L1075.85,1235.82 L1077.19,1235.39 L1078.53,1234.89 L1079.87,1234.34 L1081.21,1233.78 L1082.55,1233.23 L1083.89,1232.72 L1085.22,1232.25 L1086.56,1231.72 L1087.9,1231.13 L1089.24,1230.51 L1090.58,1229.91 L1091.92,1229.34 L1093.25,1228.85 L1094.59,1228.45 L1095.93,1228.18 L1097.27,1228.08 L1098.61,1228.12 L1099.95,1228.22 L1101.28,1228.38 L1102.62,1228.59 L1103.96,1228.83 L1105.3,1229.1 L1106.64,1229.39 L1107.98,1229.69 L1109.32,1230.12 L1110.65,1230.68 L1111.99,1231.34 L1113.33,1232.05 L1114.67,1232.76 L1116.01,1233.42 L1117.35,1234 L1118.68,1234.44 L1120.02,1234.72 L1121.36,1234.97 L1122.7,1235.2 L1124.04,1235.38 L1125.38,1235.51 L1126.72,1235.55 L1128.05,1234.73 L1129.39,1232.55 L1130.73,1229.6 L1132.07,1226.43 L1133.41,1223.61 L1134.75,1221.66 L1136.08,1220.18 L1137.42,1218.86 L1138.76,1217.61 L1140.1,1216.32" fill="none" stroke="#3a2020" stroke-width="1" opacity="0.8"/>
<path d="M1140.1,1236.35 V1216.32" stroke="#111" stroke-width="1.3"/>
<path d="M1140.1,1216.13 L1141.43,1216.06 L1142.77,1216.18 L1144.1,1216.34 L1145.44,1216.38 L1146.77,1216.37 L1148.11,1216.67 L1149.44,1216.77 L1150.78,1216.88 L1152.11,1216.76 L1153.44,1216.54 L1154.78,1215.69 L1156.11,1214.57 L1157.45,1213.31 L1158.78,1212.61 L1160.12,1211.93 L1161.45,1211.16 L1162.79,1210.76 L1164.12,1212.19 L1165.45,1214.32 L1166.79,1216.58 L1168.12,1218.67 L1169.46,1221.15 L1170.79,1223.04 L1172.13,1223.99 L1173.46,1223.77 L1174.8,1223.06 L1176.13,1222.1 L1177.46,1221 L1178.8,1219.72 L1180.13,1218.21 L1181.47,1217.42 L1182.8,1217.26 L1184.14,1217.41 L1185.47,1217.73 L1186.81,1218.86 L1188.14,1220.44 L1189.47,1222.32 L1190.81,1224.47 L1192.14,1226.71 L1193.48,1228.56 L1194.81,1229.67 L1196.15,1230.19 L1197.48,1230.36 L1198.82,1230.51 L1200.15,1230.33 L1201.48,1229.71 L1202.82,1228.92 L1204.15,1228.12 L1205.49,1227.58 L1206.82,1227.13 L1208.16,1226.79 L1209.49,1226.18 L1210.82,1225.43 L1212.16,1224.81 L1213.49,1224.3 L1214.83,1223.81 L1216.16,1223.48 L1217.5,1223.73 L1218.83,1224.06 L1220.17,1224.56 L1221.5,1225.1 L1222.83,1225.99 L1224.17,1227.15 L1225.5,1228.28 L1226.84,1228.9 L1228.17,1229.15 L1229.51,1229.79 L1230.84,1230.39 L1232.18,1230.42 L1233.51,1229.82 L1234.84,1228.99 L1236.18,1227.71 L1237.51,1226.35 L1238.85,1225.11 L1240.18,1223.99 L1241.52,1223.17 L1242.85,1222.82 L1244.19,1223.05 L1245.52,1223.55 L1246.85,1224.26 L1248.19,1224.96 L1249.52,1225.99 L1250.86,1227.27 L1252.19,1228.34 L1253.53,1229.01 L1254.86,1229.83 L1256.2,1230.73 L1257.53,1230.96 L1258.86,1230.74 L1260.2,1230.48 L1261.53,1230.39 L1262.87,1230.16 L1264.2,1230.06 L1265.54,1229.53 L1266.87,1229.01 L1268.21,1228.45 L1269.54,1228.26 L1270.87,1227.54 L1272.21,1226.79 L1273.54,1226.12 L1274.88,1225.75 L1276.21,1225.55 L1277.55,1225.26 L1278.88,1225.12 L1280.22,1224.94 L1281.55,1224.86 L1282.88,1225.03 L1284.22,1225.31 L1285.55,1225.79 L1286.89,1226.16 L1288.22,1226.8 L1289.56,1227.14 L1290.89,1227.72 L1292.23,1228.29 L1293.56,1228.79 L1294.89,1228.68 L1296.23,1228.44 L1297.56,1228.38 L1298.9,1228.43 L1300.23,1228.56 L1301.57,1228.68 L1302.9,1228.88 L1304.24,1228.9 L1305.57,1228.69 L1306.9,1228.79 L1308.24,1229.14 L1309.57,1229.18 L1310.91,1228.78 L1312.24,1228.85 L1313.58,1229.28 L1314.91,1229.41 L1316.25,1229.48 L1317.58,1229.63 L1318.91,1230.16 L1320.25,1231.04 L1321.58,1231.81 L1322.92,1232.52 L1324.25,1233.04 L1325.59,1234.07 L1326.92,1234.4 L1328.25,1234.46 L1329.59,1234.15 L1330.92,1234.22 L1332.26,1234.39 L1333.59,1234.66 L1334.93,1234.59 L1336.26,1234.34 L1337.6,1234.22 L1338.93,1234.25 L1340.26,1234.27 L1341.6,1234.28 L1342.93,1234.41 L1344.27,1234.25 L1345.6,1234.2 L1346.94,1234.28 L1348.27,1234.23 L1349.61,1234.17 L1350.94,1234.02 L1352.27,1233.71 L1353.61,1233.59 L1354.94,1233.69 L1356.28,1233.99 L1357.61,1233.76 L1358.95,1233.62 L1360.28,1233.37 L1361.62,1233.2 L1362.95,1233.18 L1364.28,1233.54 L1365.62,1233.89 L1366.95,1233.93 L1368.29,1233.86 L1369.62,1233.95 L1370.96,1234.31 L1372.29,1234.88 L1373.63,1235.19 L1374.96,1235.46 L1376.29,1235.66 L1377.63,1235.77 L1378.96,1235.79 L1380.3,1235.73 L1381.63,1235.63 L1382.97,1235.48 L1384.3,1235.29 L1385.64,1234.99 L1386.97,1235.1 L1388.3,1235.25 L1389.64,1235.04 L1390.97,1234.57 L1392.31,1233.9 L1393.64,1233.28 L1394.98,1233.05 L1396.31,1232.72 L1397.65,1232.65 L1398.98,1232.41 L1400.31,1232.59 L1401.65,1232.68 L1402.98,1232.86 L1404.32,1232.97 L1405.65,1233.03 L1406.99,1233.18 L1408.32,1233.41 L1409.66,1233.54 L1410.99,1233.77 L1412.32,1234.05 L1413.66,1234.48 L1414.99,1234.82 L1416.33,1235.12 L1417.66,1235.2 L1419,1235.43 L1420.33,1235.61 L1421.67,1235.73 L1423,1235.8 L1424.33,1235.82 L1425.67,1235.85 L1427,1235.88 L1428.34,1235.9 L1429.67,1235.93 L1431.01,1235.95 L1432.34,1235.97 L1433.68,1235.99 L1435.01,1236.01 L1436.34,1236.02 L1437.68,1236.04 L1439.01,1236.06 L1440.35,1236.07 L1441.68,1236.08 L1443.02,1236.1 L1444.35,1236.11 L1445.69,1236.12 L1447.02,1236.13 L1448.35,1236.14 L1449.69,1236.15 L1451.02,1236.16 L1452.36,1236.17 L1453.69,1236.18 L1455.03,1236.19 L1456.36,1236.2 L1457.69,1236.21 L1459.03,1236.22 L1460.36,1236.22 L1461.7,1236.23 L1463.03,1236.24 L1464.37,1236.25 L1465.7,1236.26 L1467.04,1236.27 L1468.37,1236.28 L1469.7,1236.29 L1471.04,1236.3 L1472.37,1236.31 L1473.71,1236.32 L1474.5,1236.34 L1474.5,1236.35" fill="none" stroke="#3a1010" stroke-width="1.7" opacity="0.45"/>
<path d="M1140.1,1216.13 L1141.43,1216.06 L1142.77,1216.18 L1144.1,1216.34 L1145.44,1216.38 L1146.77,1216.37 L1148.11,1216.67 L1149.44,1216.77 L1150.78,1216.88 L1152.11,1216.76 L1153.44,1216.54 L1154.78,1215.69 L1156.11,1214.57 L1157.45,1213.31 L1158.78,1212.61 L1160.12,1211.93 L1161.45,1211.16 L1162.79,1210.76 L1164.12,1212.19 L1165.45,1214.32 L1166.79,1216.58 L1168.12,1218.67 L1169.46,1221.15 L1170.79,1223.04 L1172.13,1223.99 L1173.46,1223.77 L1174.8,1223.06 L1176.13,1222.1 L1177.46,1221 L1178.8,1219.72 L1180.13,1218.21 L1181.47,1217.42 L1182.8,1217.26 L1184.14,1217.41 L1185.47,1217.73 L1186.81,1218.86 L1188.14,1220.44 L1189.47,1222.32 L1190.81,1224.47 L1192.14,1226.71 L1193.48,1228.56 L1194.81,1229.67 L1196.15,1230.19 L1197.48,1230.36 L1198.82,1230.51 L1200.15,1230.33 L1201.48,1229.71 L1202.82,1228.92 L1204.15,1228.12 L1205.49,1227.58 L1206.82,1227.13 L1208.16,1226.79 L1209.49,1226.18 L1210.82,1225.43 L1212.16,1224.81 L1213.49,1224.3 L1214.83,1223.81 L1216.16,1223.48 L1217.5,1223.73 L1218.83,1224.06 L1220.17,1224.56 L1221.5,1225.1 L1222.83,1225.99 L1224.17,1227.15 L1225.5,1228.28 L1226.84,1228.9 L1228.17,1229.15 L1229.51,1229.79 L1230.84,1230.39 L1232.18,1230.42 L1233.51,1229.82 L1234.84,1228.99 L1236.18,1227.71 L1237.51,1226.35 L1238.85,1225.11 L1240.18,1223.99 L1241.52,1223.17 L1242.85,1222.82 L1244.19,1223.05 L1245.52,1223.55 L1246.85,1224.26 L1248.19,1224.96 L1249.52,1225.99 L1250.86,1227.27 L1252.19,1228.34 L1253.53,1229.01 L1254.86,1229.83 L1256.2,1230.73 L1257.53,1230.96 L1258.86,1230.74 L1260.2,1230.48 L1261.53,1230.39 L1262.87,1230.16 L1264.2,1230.06 L1265.54,1229.53 L1266.87,1229.01 L1268.21,1228.45 L1269.54,1228.26 L1270.87,1227.54 L1272.21,1226.79 L1273.54,1226.12 L1274.88,1225.75 L1276.21,1225.55 L1277.55,1225.26 L1278.88,1225.12 L1280.22,1224.94 L1281.55,1224.86 L1282.88,1225.03 L1284.22,1225.31 L1285.55,1225.79 L1286.89,1226.16 L1288.22,1226.8 L1289.56,1227.14 L1290.89,1227.72 L1292.23,1228.29 L1293.56,1228.79 L1294.89,1228.68 L1296.23,1228.44 L1297.56,1228.38 L1298.9,1228.43 L1300.23,1228.56 L1301.57,1228.68 L1302.9,1228.88 L1304.24,1228.9 L1305.57,1228.69 L1306.9,1228.79 L1308.24,1229.14 L1309.57,1229.18 L1310.91,1228.78 L1312.24,1228.85 L1313.58,1229.28 L1314.91,1229.41 L1316.25,1229.48 L1317.58,1229.63 L1318.91,1230.16 L1320.25,1231.04 L1321.58,1231.81 L1322.92,1232.52 L1324.25,1233.04 L1325.59,1234.07 L1326.92,1234.4 L1328.25,1234.46 L1329.59,1234.15 L1330.92,1234.22 L1332.26,1234.39 L1333.59,1234.66 L1334.93,1234.59 L1336.26,1234.34 L1337.6,1234.22 L1338.93,1234.25 L1340.26,1234.27 L1341.6,1234.28 L1342.93,1234.41 L1344.27,1234.25 L1345.6,1234.2 L1346.94,1234.28 L1348.27,1234.23 L1349.61,1234.17 L1350.94,1234.02 L1352.27,1233.71 L1353.61,1233.59 L1354.94,1233.69 L1356.28,1233.99 L1357.61,1233.76 L1358.95,1233.62 L1360.28,1233.37 L1361.62,1233.2 L1362.95,1233.18 L1364.28,1233.54 L1365.62,1233.89 L1366.95,1233.93 L1368.29,1233.86 L1369.62,1233.95 L1370.96,1234.31 L1372.29,1234.88 L1373.63,1235.19 L1374.96,1235.46 L1376.29,1235.66 L1377.63,1235.77 L1378.96,1235.79 L1380.3,1235.73 L1381.63,1235.63 L1382.97,1235.48 L1384.3,1235.29 L1385.64,1234.99 L1386.97,1235.1 L1388.3,1235.25 L1389.64,1235.04 L1390.97,1234.57 L1392.31,1233.9 L1393.64,1233.28 L1394.98,1233.05 L1396.31,1232.72 L1397.65,1232.65 L1398.98,1232.41 L1400.31,1232.59 L1401.65,1232.68 L1402.98,1232.86 L1404.32,1232.97 L1405.65,1233.03 L1406.99,1233.18 L1408.32,1233.41 L1409.66,1233.54 L1410.99,1233.77 L1412.32,1234.05 L1413.66,1234.48 L1414.99,1234.82 L1416.33,1235.12 L1417.66,1235.2 L1419,1235.43 L1420.33,1235.61 L1421.67,1235.73 L1423,1235.8 L1424.33,1235.82 L1425.67,1235.85 L1427,1235.88 L1428.34,1235.9 L1429.67,1235.93 L1431.01,1235.95 L1432.34,1235.97 L1433.68,1235.99 L1435.01,1236.01 L1436.34,1236.02 L1437.68,1236.04 L1439.01,1236.06 L1440.35,1236.07 L1441.68,1236.08 L1443.02,1236.1 L1444.35,1236.11 L1445.69,1236.12 L1447.02,1236.13 L1448.35,1236.14 L1449.69,1236.15 L1451.02,1236.16 L1452.36,1236.17 L1453.69,1236.18 L1455.03,1236.19 L1456.36,1236.2 L1457.69,1236.21 L1459.03,1236.22 L1460.36,1236.22 L1461.7,1236.23 L1463.03,1236.24 L1464.37,1236.25 L1465.7,1236.26 L1467.04,1236.27 L1468.37,1236.28 L1469.7,1236.29 L1471.04,1236.3 L1472.37,1236.31 L1473.71,1236.32 L1474.5,1236.34 L1474.5,1236.35" fill="none" stroke="#e3242b" stroke-width="1.3"/>
<rect x="806" y="1156.85" width="668.5" height="79.5" fill="none" stroke="#2e2e2e" stroke-width="1.35"/>
<text x="1387" y="1181.05" font-family="'Liberation Serif', serif" font-size="18" fill="#111">MgFeH<tspan font-size="12.5" dy="5.5" dx="1.5">3</tspan></text>
<text x="800.3" y="1162.95" text-anchor="end" font-family="'Liberation Serif', serif" font-size="18.3" fill="#111">0.1</text>
<text x="800.3" y="1202.7" text-anchor="end" font-family="'Liberation Serif', serif" font-size="18.3" fill="#111">0.05</text>
<text x="800.3" y="1242.45" text-anchor="end" font-family="'Liberation Serif', serif" font-size="18.3" fill="#111">0</text>
<path d="M917.4,1252.45 v12 M917.4,1331.95 v-12 M1028.75,1252.45 v12 M1028.75,1331.95 v-12 M1140.1,1252.45 v12 M1140.1,1331.95 v-12 M1251.45,1252.45 v12 M1251.45,1331.95 v-12 M1362.8,1252.45 v12 M1362.8,1331.95 v-12 M806,1292.2 h13 M1474.5,1292.2 h-13 " stroke="#333" stroke-width="1.4"/>
<g clip-path="url(#cl6)"><path d="M859.09,1252.45 h2.5 V1331.95 h-2.5 Z M863.77,1252.45 h2.5 V1331.95 h-2.5 Z M868.45,1252.45 h2.5 V1331.95 h-2.5 Z M873.13,1252.45 h2.5 V1331.95 h-2.5 Z M877.81,1252.45 h2.5 V1331.95 h-2.5 Z M882.49,1252.45 h2.5 V1331.95 h-2.5 Z M887.17,1252.45 h2.5 V1331.95 h-2.5 Z M891.85,1252.45 h2.5 V1331.95 h-2.5 Z M896.53,1252.45 h2.5 V1331.95 h-2.5 Z M901.21,1252.45 h2.5 V1331.95 h-2.5 Z M905.89,1252.45 h2.5 V1331.95 h-2.5 Z M910.57,1252.45 h2.5 V1331.95 h-2.5 Z M915.25,1252.45 h2.5 V1331.95 h-2.5 Z M919.93,1252.45 h2.5 V1331.95 h-2.5 Z M924.61,1252.45 h2.5 V1331.95 h-2.5 Z M929.29,1252.45 h2.5 V1331.95 h-2.5 Z M933.97,1252.45 h2.5 V1331.95 h-2.5 Z M938.65,1252.45 h2.5 V1331.95 h-2.5 Z M943.33,1252.45 h2.5 V1331.95 h-2.5 Z M948.01,1252.45 h2.5 V1331.95 h-2.5 Z M952.69,1252.45 h2.5 V1331.95 h-2.5 Z M957.37,1252.45 h2.5 V1331.95 h-2.5 Z M962.05,1252.45 h2.5 V1331.95 h-2.5 Z M966.73,1252.45 h2.5 V1331.95 h-2.5 Z M971.41,1252.45 h2.5 V1331.95 h-2.5 Z M976.09,1252.45 h2.5 V1331.95 h-2.5 Z M980.77,1252.45 h2.5 V1331.95 h-2.5 Z M985.45,1252.45 h2.5 V1331.95 h-2.5 Z M990.13,1252.45 h2.5 V1331.95 h-2.5 Z M994.81,1252.45 h2.5 V1331.95 h-2.5 Z M999.49,1252.45 h2.5 V1331.95 h-2.5 Z M1004.17,1252.45 h2.5 V1331.95 h-2.5 Z M1008.85,1252.45 h2.5 V1331.95 h-2.5 Z M1013.53,1252.45 h2.5 V1331.95 h-2.5 Z M1018.21,1252.45 h2.5 V1331.95 h-2.5 Z M1022.89,1252.45 h2.5 V1331.95 h-2.5 Z M1027.57,1252.45 h2.5 V1331.95 h-2.5 Z M1032.25,1252.45 h2.5 V1331.95 h-2.5 Z M1036.93,1252.45 h2.5 V1331.95 h-2.5 Z M1041.61,1252.45 h2.5 V1331.95 h-2.5 Z M1046.29,1252.45 h2.5 V1331.95 h-2.5 Z M1050.97,1252.45 h2.5 V1331.95 h-2.5 Z M1055.65,1252.45 h2.5 V1331.95 h-2.5 Z M1060.33,1252.45 h2.5 V1331.95 h-2.5 Z M1065.01,1252.45 h2.5 V1331.95 h-2.5 Z M1069.69,1252.45 h2.5 V1331.95 h-2.5 Z M1074.37,1252.45 h2.5 V1331.95 h-2.5 Z M1079.05,1252.45 h2.5 V1331.95 h-2.5 Z M1083.73,1252.45 h2.5 V1331.95 h-2.5 Z M1088.41,1252.45 h2.5 V1331.95 h-2.5 Z M1093.09,1252.45 h2.5 V1331.95 h-2.5 Z M1097.77,1252.45 h2.5 V1331.95 h-2.5 Z M1102.45,1252.45 h2.5 V1331.95 h-2.5 Z M1107.13,1252.45 h2.5 V1331.95 h-2.5 Z M1111.81,1252.45 h2.5 V1331.95 h-2.5 Z M1116.49,1252.45 h2.5 V1331.95 h-2.5 Z M1121.17,1252.45 h2.5 V1331.95 h-2.5 Z M1125.85,1252.45 h2.5 V1331.95 h-2.5 Z M1130.53,1252.45 h2.5 V1331.95 h-2.5 Z M1135.21,1252.45 h2.5 V1331.95 h-2.5 Z M1139.89,1252.45 h2.5 V1331.95 h-2.5 Z " fill="#0a0a0a"/></g>
<path d="M865.07,1331.95 L866.4,1331.6 L867.74,1331.31 L869.07,1331.01 L870.41,1330.65 L871.74,1330.14 L873.08,1329.39 L874.41,1326.64 L875.75,1321.84 L877.08,1316.16 L878.42,1310.73 L879.75,1305.48 L881.09,1300.08 L882.42,1294.46 L883.76,1288.51 L885.09,1282.16 L886.43,1275.33 L887.76,1267.93 L889.1,1259.87 L890.43,1252.45 L891.77,1252.45 L893.1,1252.45 L894.44,1252.45 L895.77,1252.45 L897.11,1252.45 L898.44,1252.45 L899.78,1252.45 L901.11,1252.45 L902.45,1252.45 L903.78,1252.45 L905.12,1252.45 L906.45,1252.45 L907.79,1252.45 L909.12,1252.45 L910.46,1252.45 L911.79,1252.45 L913.13,1252.45 L914.46,1252.45 L915.8,1252.45 L917.14,1252.45 L918.47,1252.45 L919.81,1252.45 L921.14,1252.45 L922.48,1252.45 L923.81,1252.45 L925.15,1252.45 L926.48,1252.45 L927.82,1252.45 L929.15,1252.45 L930.49,1252.45 L931.82,1252.45 L933.16,1252.45 L934.49,1252.45 L935.83,1252.45 L937.16,1252.45 L938.5,1252.45 L939.83,1252.45 L941.17,1252.45 L942.5,1252.45 L943.84,1252.45 L945.17,1252.45 L946.51,1252.45 L947.84,1252.45 L949.18,1252.45 L950.51,1252.45 L951.85,1252.45 L953.18,1252.45 L954.52,1252.45 L955.85,1252.45 L957.19,1252.45 L958.52,1252.45 L959.86,1252.45 L961.19,1252.45 L962.53,1252.45 L963.86,1252.45 L965.2,1252.45 L966.53,1252.45 L967.87,1252.45 L969.2,1252.45 L970.54,1252.45 L971.88,1252.45 L973.21,1252.45 L974.55,1252.45 L975.88,1252.45 L977.22,1252.45 L978.55,1252.45 L979.89,1252.45 L981.22,1252.45 L982.56,1252.45 L983.89,1252.45 L985.23,1252.45 L986.56,1252.45 L987.9,1252.45 L989.23,1252.45 L990.57,1252.45 L991.9,1252.45 L993.24,1252.45 L994.57,1252.45 L995.91,1252.45 L997.24,1252.45 L998.58,1252.45 L999.91,1252.45 L1001.25,1252.45 L1002.58,1252.45 L1003.92,1252.45 L1005.25,1252.45 L1006.59,1252.45 L1007.92,1252.45 L1009.26,1252.45 L1010.59,1252.45 L1011.93,1252.45 L1013.26,1252.45 L1014.6,1252.45 L1015.93,1252.45 L1017.27,1252.45 L1018.6,1252.45 L1019.94,1252.45 L1021.27,1252.45 L1022.61,1252.45 L1023.94,1252.45 L1025.28,1252.45 L1026.61,1252.45 L1027.95,1252.45 L1029.29,1253.39 L1030.62,1268.18 L1031.96,1283.07 L1033.29,1296.15 L1034.63,1307.67 L1035.96,1317.64 L1037.3,1324.03 L1038.63,1328.29 L1039.97,1329.93 L1041.3,1330.71 L1042.64,1331.3 L1043.97,1331.7 L1045.31,1331.91 L1046.64,1331.95 L1047.98,1331.95 L1049.31,1331.95 L1050.65,1331.95 L1051.98,1331.95 L1053.32,1331.95 L1054.65,1331.95 L1055.99,1331.91 L1057.32,1331.79 L1058.66,1331.61 L1059.99,1331.38 L1061.33,1331.1 L1062.66,1330.79 L1064,1330.45 L1065.33,1330.1 L1066.67,1329.74 L1068,1329.39 L1069.34,1329.05 L1070.67,1328.69 L1072.01,1328.24 L1073.34,1327.72 L1074.68,1327.17 L1076.01,1326.58 L1077.35,1325.99 L1078.68,1325.4 L1080.02,1324.85 L1081.35,1324.35 L1082.69,1323.91 L1084.03,1323.57 L1085.36,1323.33 L1086.7,1323.21 L1088.03,1323.25 L1089.37,1323.46 L1090.7,1323.81 L1092.04,1324.28 L1093.37,1324.82 L1094.71,1325.4 L1096.04,1326 L1097.38,1326.58 L1098.71,1327.11 L1100.05,1327.64 L1101.38,1328.28 L1102.72,1328.97 L1104.05,1329.64 L1105.39,1330.26 L1106.72,1330.75 L1108.06,1331.07 L1109.39,1331.13 L1110.73,1330.24 L1112.06,1328.39 L1113.4,1326.01 L1114.73,1323.52 L1116.07,1321.37 L1117.4,1319.7 L1118.74,1317.93 L1120.07,1316.12 L1121.41,1314.39 L1122.74,1312.85 L1124.08,1311.61 L1125.41,1310.78 L1126.75,1310.49 L1128.08,1310.57 L1129.42,1310.81 L1130.75,1311.13 L1132.09,1311.5 L1133.42,1311.86 L1134.76,1312.18 L1136.09,1312.48 L1137.43,1312.8 L1138.76,1313.11 L1140.1,1313.43" fill="none" stroke="#3a2020" stroke-width="1" opacity="0.8"/>
<path d="M1140.1,1331.95 V1313.43" stroke="#111" stroke-width="1.3"/>
<path d="M1140.1,1309.49 L1141.43,1306.91 L1142.77,1304.75 L1144.1,1304.62 L1145.44,1305.75 L1146.77,1307.46 L1148.11,1309.61 L1149.44,1312.05 L1150.78,1314.66 L1152.11,1317.25 L1153.44,1319.1 L1154.78,1319.48 L1156.11,1318.74 L1157.45,1317.91 L1158.78,1316.75 L1160.12,1315.43 L1161.45,1313.96 L1162.79,1312.58 L1164.12,1311.19 L1165.45,1310.39 L1166.79,1310.42 L1168.12,1311.23 L1169.46,1312.69 L1170.79,1314.36 L1172.13,1316.55 L1173.46,1318.82 L1174.8,1321.05 L1176.13,1322.74 L1177.46,1324 L1178.8,1324.41 L1180.13,1324.44 L1181.47,1324.2 L1182.8,1323.89 L1184.14,1323.76 L1185.47,1323.56 L1186.81,1323.21 L1188.14,1322.72 L1189.47,1322.01 L1190.81,1321.16 L1192.14,1320.47 L1193.48,1320.71 L1194.81,1320.82 L1196.15,1320.4 L1197.48,1319.69 L1198.82,1319.5 L1200.15,1319.5 L1201.48,1319.46 L1202.82,1319.38 L1204.15,1319.45 L1205.49,1320.08 L1206.82,1320.91 L1208.16,1321.82 L1209.49,1322.57 L1210.82,1323.64 L1212.16,1324.61 L1213.49,1325.35 L1214.83,1325.92 L1216.16,1326.07 L1217.5,1325.92 L1218.83,1325.3 L1220.17,1324.7 L1221.5,1323.75 L1222.83,1322.22 L1224.17,1320.81 L1225.5,1319.87 L1226.84,1319.28 L1228.17,1318.48 L1229.51,1318.1 L1230.84,1317.86 L1232.18,1317.69 L1233.51,1317.78 L1234.84,1318.69 L1236.18,1320.1 L1237.51,1321.6 L1238.85,1323.1 L1240.18,1324.39 L1241.52,1325.8 L1242.85,1327.13 L1244.19,1328.06 L1245.52,1328.2 L1246.85,1328.17 L1248.19,1328.19 L1249.52,1328.02 L1250.86,1327.9 L1252.19,1327.86 L1253.53,1328.12 L1254.86,1327.49 L1256.2,1327.26 L1257.53,1326.92 L1258.86,1326.89 L1260.2,1326.24 L1261.53,1326.03 L1262.87,1325.24 L1264.2,1324.24 L1265.54,1323.25 L1266.87,1322.77 L1268.21,1322.01 L1269.54,1321.55 L1270.87,1321.86 L1272.21,1322.24 L1273.54,1322.52 L1274.88,1322.69 L1276.21,1323.26 L1277.55,1323.84 L1278.88,1324.36 L1280.22,1324.42 L1281.55,1324.03 L1282.88,1323.81 L1284.22,1323.68 L1285.55,1323.53 L1286.89,1323.32 L1288.22,1323.27 L1289.56,1323.19 L1290.89,1323.26 L1292.23,1323.46 L1293.56,1323.53 L1294.89,1323.31 L1296.23,1323.33 L1297.56,1323.52 L1298.9,1323.46 L1300.23,1323.35 L1301.57,1323.75 L1302.9,1324.42 L1304.24,1324.97 L1305.57,1325.36 L1306.9,1326.19 L1308.24,1326.65 L1309.57,1326.94 L1310.91,1327.11 L1312.24,1327.6 L1313.58,1328.13 L1314.91,1328.51 L1316.25,1328.86 L1317.58,1329.38 L1318.91,1329.86 L1320.25,1330.2 L1321.58,1329.97 L1322.92,1330.11 L1324.25,1329.94 L1325.59,1329.95 L1326.92,1329.8 L1328.25,1329.78 L1329.59,1329.87 L1330.92,1329.84 L1332.26,1329.79 L1333.59,1329.5 L1334.93,1329.63 L1336.26,1329.71 L1337.6,1329.47 L1338.93,1329.23 L1340.26,1329.11 L1341.6,1329.26 L1342.93,1329.39 L1344.27,1329.38 L1345.6,1329.22 L1346.94,1329.2 L1348.27,1329.26 L1349.61,1329.27 L1350.94,1329.42 L1352.27,1329.6 L1353.61,1329.69 L1354.94,1329.57 L1356.28,1329.59 L1357.61,1329.7 L1358.95,1330.05 L1360.28,1330.06 L1361.62,1329.98 L1362.95,1330 L1364.28,1330.33 L1365.62,1330.39 L1366.95,1330.17 L1368.29,1330.06 L1369.62,1330.02 L1370.96,1330.03 L1372.29,1329.72 L1373.63,1329.54 L1374.96,1329.34 L1376.29,1329.2 L1377.63,1328.85 L1378.96,1328.52 L1380.3,1328.2 L1381.63,1328.38 L1382.97,1328.45 L1384.3,1328.74 L1385.64,1328.32 L1386.97,1328.12 L1388.3,1328.05 L1389.64,1328.17 L1390.97,1327.92 L1392.31,1327.82 L1393.64,1328.18 L1394.98,1328.44 L1396.31,1328.36 L1397.65,1328.36 L1398.98,1328.79 L1400.31,1329.31 L1401.65,1329.46 L1402.98,1329.19 L1404.32,1329.12 L1405.65,1329.53 L1406.99,1330.07 L1408.32,1330.07 L1409.66,1329.8 L1410.99,1329.94 L1412.32,1330.64 L1413.66,1330.75 L1414.99,1330.68 L1416.33,1330.83 L1417.66,1330.94 L1419,1331.03 L1420.33,1331.1 L1421.67,1331.14 L1423,1331.15 L1424.33,1331.15 L1425.67,1331.15 L1427,1331.15 L1428.34,1331.14 L1429.67,1331.13 L1431.01,1331.12 L1432.34,1331.11 L1433.68,1331.1 L1435.01,1331.08 L1436.34,1331.07 L1437.68,1331.05 L1439.01,1331.03 L1440.35,1331.01 L1441.68,1330.99 L1443.02,1330.97 L1444.35,1330.95 L1445.69,1330.93 L1447.02,1330.9 L1448.35,1330.88 L1449.69,1330.86 L1451.02,1330.83 L1452.36,1330.81 L1453.69,1330.78 L1455.03,1330.65 L1456.36,1330.55 L1457.69,1330.68 L1459.03,1331 L1460.36,1330.97 L1461.7,1330.83 L1463.03,1330.49 L1464.37,1330.76 L1465.7,1330.7 L1467.04,1330.68 L1468.37,1330.62 L1469.7,1330.61 L1471.04,1330.28 L1472.37,1330.15 L1473.71,1330.26 L1474.5,1330.57 L1474.5,1330.56" fill="none" stroke="#3a1010" stroke-width="1.7" opacity="0.45"/>
<path d="M1140.1,1309.49 L1141.43,1306.91 L1142.77,1304.75 L1144.1,1304.62 L1145.44,1305.75 L1146.77,1307.46 L1148.11,1309.61 L1149.44,1312.05 L1150.78,1314.66 L1152.11,1317.25 L1153.44,1319.1 L1154.78,1319.48 L1156.11,1318.74 L1157.45,1317.91 L1158.78,1316.75 L1160.12,1315.43 L1161.45,1313.96 L1162.79,1312.58 L1164.12,1311.19 L1165.45,1310.39 L1166.79,1310.42 L1168.12,1311.23 L1169.46,1312.69 L1170.79,1314.36 L1172.13,1316.55 L1173.46,1318.82 L1174.8,1321.05 L1176.13,1322.74 L1177.46,1324 L1178.8,1324.41 L1180.13,1324.44 L1181.47,1324.2 L1182.8,1323.89 L1184.14,1323.76 L1185.47,1323.56 L1186.81,1323.21 L1188.14,1322.72 L1189.47,1322.01 L1190.81,1321.16 L1192.14,1320.47 L1193.48,1320.71 L1194.81,1320.82 L1196.15,1320.4 L1197.48,1319.69 L1198.82,1319.5 L1200.15,1319.5 L1201.48,1319.46 L1202.82,1319.38 L1204.15,1319.45 L1205.49,1320.08 L1206.82,1320.91 L1208.16,1321.82 L1209.49,1322.57 L1210.82,1323.64 L1212.16,1324.61 L1213.49,1325.35 L1214.83,1325.92 L1216.16,1326.07 L1217.5,1325.92 L1218.83,1325.3 L1220.17,1324.7 L1221.5,1323.75 L1222.83,1322.22 L1224.17,1320.81 L1225.5,1319.87 L1226.84,1319.28 L1228.17,1318.48 L1229.51,1318.1 L1230.84,1317.86 L1232.18,1317.69 L1233.51,1317.78 L1234.84,1318.69 L1236.18,1320.1 L1237.51,1321.6 L1238.85,1323.1 L1240.18,1324.39 L1241.52,1325.8 L1242.85,1327.13 L1244.19,1328.06 L1245.52,1328.2 L1246.85,1328.17 L1248.19,1328.19 L1249.52,1328.02 L1250.86,1327.9 L1252.19,1327.86 L1253.53,1328.12 L1254.86,1327.49 L1256.2,1327.26 L1257.53,1326.92 L1258.86,1326.89 L1260.2,1326.24 L1261.53,1326.03 L1262.87,1325.24 L1264.2,1324.24 L1265.54,1323.25 L1266.87,1322.77 L1268.21,1322.01 L1269.54,1321.55 L1270.87,1321.86 L1272.21,1322.24 L1273.54,1322.52 L1274.88,1322.69 L1276.21,1323.26 L1277.55,1323.84 L1278.88,1324.36 L1280.22,1324.42 L1281.55,1324.03 L1282.88,1323.81 L1284.22,1323.68 L1285.55,1323.53 L1286.89,1323.32 L1288.22,1323.27 L1289.56,1323.19 L1290.89,1323.26 L1292.23,1323.46 L1293.56,1323.53 L1294.89,1323.31 L1296.23,1323.33 L1297.56,1323.52 L1298.9,1323.46 L1300.23,1323.35 L1301.57,1323.75 L1302.9,1324.42 L1304.24,1324.97 L1305.57,1325.36 L1306.9,1326.19 L1308.24,1326.65 L1309.57,1326.94 L1310.91,1327.11 L1312.24,1327.6 L1313.58,1328.13 L1314.91,1328.51 L1316.25,1328.86 L1317.58,1329.38 L1318.91,1329.86 L1320.25,1330.2 L1321.58,1329.97 L1322.92,1330.11 L1324.25,1329.94 L1325.59,1329.95 L1326.92,1329.8 L1328.25,1329.78 L1329.59,1329.87 L1330.92,1329.84 L1332.26,1329.79 L1333.59,1329.5 L1334.93,1329.63 L1336.26,1329.71 L1337.6,1329.47 L1338.93,1329.23 L1340.26,1329.11 L1341.6,1329.26 L1342.93,1329.39 L1344.27,1329.38 L1345.6,1329.22 L1346.94,1329.2 L1348.27,1329.26 L1349.61,1329.27 L1350.94,1329.42 L1352.27,1329.6 L1353.61,1329.69 L1354.94,1329.57 L1356.28,1329.59 L1357.61,1329.7 L1358.95,1330.05 L1360.28,1330.06 L1361.62,1329.98 L1362.95,1330 L1364.28,1330.33 L1365.62,1330.39 L1366.95,1330.17 L1368.29,1330.06 L1369.62,1330.02 L1370.96,1330.03 L1372.29,1329.72 L1373.63,1329.54 L1374.96,1329.34 L1376.29,1329.2 L1377.63,1328.85 L1378.96,1328.52 L1380.3,1328.2 L1381.63,1328.38 L1382.97,1328.45 L1384.3,1328.74 L1385.64,1328.32 L1386.97,1328.12 L1388.3,1328.05 L1389.64,1328.17 L1390.97,1327.92 L1392.31,1327.82 L1393.64,1328.18 L1394.98,1328.44 L1396.31,1328.36 L1397.65,1328.36 L1398.98,1328.79 L1400.31,1329.31 L1401.65,1329.46 L1402.98,1329.19 L1404.32,1329.12 L1405.65,1329.53 L1406.99,1330.07 L1408.32,1330.07 L1409.66,1329.8 L1410.99,1329.94 L1412.32,1330.64 L1413.66,1330.75 L1414.99,1330.68 L1416.33,1330.83 L1417.66,1330.94 L1419,1331.03 L1420.33,1331.1 L1421.67,1331.14 L1423,1331.15 L1424.33,1331.15 L1425.67,1331.15 L1427,1331.15 L1428.34,1331.14 L1429.67,1331.13 L1431.01,1331.12 L1432.34,1331.11 L1433.68,1331.1 L1435.01,1331.08 L1436.34,1331.07 L1437.68,1331.05 L1439.01,1331.03 L1440.35,1331.01 L1441.68,1330.99 L1443.02,1330.97 L1444.35,1330.95 L1445.69,1330.93 L1447.02,1330.9 L1448.35,1330.88 L1449.69,1330.86 L1451.02,1330.83 L1452.36,1330.81 L1453.69,1330.78 L1455.03,1330.65 L1456.36,1330.55 L1457.69,1330.68 L1459.03,1331 L1460.36,1330.97 L1461.7,1330.83 L1463.03,1330.49 L1464.37,1330.76 L1465.7,1330.7 L1467.04,1330.68 L1468.37,1330.62 L1469.7,1330.61 L1471.04,1330.28 L1472.37,1330.15 L1473.71,1330.26 L1474.5,1330.57 L1474.5,1330.56" fill="none" stroke="#e3242b" stroke-width="1.3"/>
<rect x="806" y="1252.45" width="668.5" height="79.5" fill="none" stroke="#2e2e2e" stroke-width="1.35"/>
<text x="1387" y="1276.65" font-family="'Liberation Serif', serif" font-size="18" fill="#111">MgCoH<tspan font-size="12.5" dy="5.5" dx="1.5">3</tspan></text>
<text x="800.3" y="1258.55" text-anchor="end" font-family="'Liberation Serif', serif" font-size="18.3" fill="#111">0.1</text>
<text x="800.3" y="1298.3" text-anchor="end" font-family="'Liberation Serif', serif" font-size="18.3" fill="#111">0.05</text>
<text x="800.3" y="1338.05" text-anchor="end" font-family="'Liberation Serif', serif" font-size="18.3" fill="#111">0</text>
<path d="M917.4,1347.35 v12 M917.4,1426.85 v-12 M1028.75,1347.35 v12 M1028.75,1426.85 v-12 M1140.1,1347.35 v12 M1140.1,1426.85 v-12 M1251.45,1347.35 v12 M1251.45,1426.85 v-12 M1362.8,1347.35 v12 M1362.8,1426.85 v-12 M806,1387.1 h13 M1474.5,1387.1 h-13 " stroke="#333" stroke-width="1.4"/>
<g clip-path="url(#cl7)"><path d="M854.41,1347.35 h2.5 V1426.85 h-2.5 Z M859.09,1347.35 h2.5 V1426.85 h-2.5 Z M863.77,1347.35 h2.5 V1426.85 h-2.5 Z M868.45,1347.35 h2.5 V1426.85 h-2.5 Z M873.13,1347.35 h2.5 V1426.85 h-2.5 Z M877.81,1347.35 h2.5 V1426.85 h-2.5 Z M882.49,1347.35 h2.5 V1426.85 h-2.5 Z M887.17,1347.35 h2.5 V1426.85 h-2.5 Z M891.85,1347.35 h2.5 V1426.85 h-2.5 Z M896.53,1347.35 h2.5 V1426.85 h-2.5 Z M901.21,1347.35 h2.5 V1426.85 h-2.5 Z M905.89,1347.35 h2.5 V1426.85 h-2.5 Z M910.57,1347.35 h2.5 V1426.85 h-2.5 Z M915.25,1347.35 h2.5 V1426.85 h-2.5 Z M919.93,1347.35 h2.5 V1426.85 h-2.5 Z M924.61,1347.35 h2.5 V1426.85 h-2.5 Z M929.29,1347.35 h2.5 V1426.85 h-2.5 Z M933.97,1347.35 h2.5 V1426.85 h-2.5 Z M938.65,1347.35 h2.5 V1426.85 h-2.5 Z M943.33,1347.35 h2.5 V1426.85 h-2.5 Z M948.01,1347.35 h2.5 V1426.85 h-2.5 Z M952.69,1347.35 h2.5 V1426.85 h-2.5 Z M957.37,1347.35 h2.5 V1426.85 h-2.5 Z M962.05,1347.35 h2.5 V1426.85 h-2.5 Z M966.73,1347.35 h2.5 V1426.85 h-2.5 Z M971.41,1347.35 h2.5 V1426.85 h-2.5 Z M976.09,1347.35 h2.5 V1426.85 h-2.5 Z M980.77,1347.35 h2.5 V1426.85 h-2.5 Z M985.45,1347.35 h2.5 V1426.85 h-2.5 Z M990.13,1347.35 h2.5 V1426.85 h-2.5 Z M994.81,1347.35 h2.5 V1426.85 h-2.5 Z M999.49,1347.35 h2.5 V1426.85 h-2.5 Z M1004.17,1347.35 h2.5 V1426.85 h-2.5 Z M1008.85,1347.35 h2.5 V1426.85 h-2.5 Z M1013.53,1347.35 h2.5 V1426.85 h-2.5 Z M1018.21,1347.35 h2.5 V1426.85 h-2.5 Z M1022.89,1347.35 h2.5 V1426.85 h-2.5 Z M1027.57,1347.35 h2.5 V1426.85 h-2.5 Z M1032.25,1347.35 h2.5 V1426.85 h-2.5 Z M1036.93,1347.35 h2.5 V1426.85 h-2.5 Z M1041.61,1347.35 h2.5 V1426.85 h-2.5 Z M1046.29,1347.35 h2.5 V1426.85 h-2.5 Z M1050.97,1347.35 h2.5 V1426.85 h-2.5 Z M1055.65,1347.35 h2.5 V1426.85 h-2.5 Z M1060.33,1347.35 h2.5 V1426.85 h-2.5 Z M1065.01,1347.35 h2.5 V1426.85 h-2.5 Z M1069.69,1347.35 h2.5 V1426.85 h-2.5 Z M1074.37,1347.35 h2.5 V1426.85 h-2.5 Z M1079.05,1347.35 h2.5 V1426.85 h-2.5 Z M1083.73,1347.35 h2.5 V1426.85 h-2.5 Z M1088.41,1347.35 h2.5 V1426.85 h-2.5 Z M1093.09,1347.35 h2.5 V1426.85 h-2.5 Z M1097.77,1347.35 h2.5 V1426.85 h-2.5 Z M1102.45,1347.35 h2.5 V1426.85 h-2.5 Z M1107.13,1347.35 h2.5 V1426.85 h-2.5 Z M1111.81,1347.35 h2.5 V1426.85 h-2.5 Z M1116.49,1347.35 h2.5 V1426.85 h-2.5 Z M1121.17,1347.35 h2.5 V1426.85 h-2.5 Z M1125.85,1347.35 h2.5 V1426.85 h-2.5 Z M1130.53,1347.35 h2.5 V1426.85 h-2.5 Z M1135.21,1347.35 h2.5 V1426.85 h-2.5 Z M1139.89,1347.35 h2.5 V1426.85 h-2.5 Z " fill="#0a0a0a"/></g>
<path d="M860.61,1426.85 L861.95,1426.5 L863.29,1426.21 L864.62,1425.92 L865.96,1425.56 L867.3,1425.05 L868.64,1424.27 L869.97,1421.2 L871.31,1415.87 L872.65,1409.75 L873.98,1404.05 L875.32,1398.33 L876.66,1392.39 L878,1386.12 L879.33,1379.46 L880.67,1372.33 L882.01,1364.63 L883.35,1356.28 L884.68,1347.35 L886.02,1347.35 L887.36,1347.35 L888.69,1347.35 L890.03,1347.35 L891.37,1347.35 L892.71,1347.35 L894.04,1347.35 L895.38,1347.35 L896.72,1347.35 L898.05,1347.35 L899.39,1347.35 L900.73,1347.35 L902.07,1347.35 L903.4,1347.35 L904.74,1347.35 L906.08,1347.35 L907.42,1347.35 L908.75,1347.35 L910.09,1347.35 L911.43,1347.35 L912.76,1347.35 L914.1,1347.35 L915.44,1347.35 L916.78,1347.35 L918.11,1347.35 L919.45,1347.35 L920.79,1347.35 L922.13,1347.35 L923.46,1347.35 L924.8,1347.35 L926.14,1347.35 L927.47,1347.35 L928.81,1347.35 L930.15,1347.35 L931.49,1347.35 L932.82,1347.35 L934.16,1347.35 L935.5,1347.35 L936.84,1347.35 L938.17,1347.35 L939.51,1347.35 L940.85,1347.35 L942.18,1347.35 L943.52,1347.35 L944.86,1347.35 L946.2,1347.35 L947.53,1347.35 L948.87,1347.35 L950.21,1347.35 L951.55,1347.35 L952.88,1347.35 L954.22,1347.35 L955.56,1347.35 L956.89,1347.35 L958.23,1347.35 L959.57,1347.35 L960.91,1347.35 L962.24,1347.35 L963.58,1347.35 L964.92,1347.35 L966.26,1347.35 L967.59,1347.35 L968.93,1347.35 L970.27,1347.35 L971.6,1347.35 L972.94,1347.35 L974.28,1347.35 L975.62,1347.35 L976.95,1347.35 L978.29,1347.35 L979.63,1347.35 L980.97,1347.35 L982.3,1347.35 L983.64,1347.35 L984.98,1347.35 L986.31,1347.35 L987.65,1347.35 L988.99,1347.35 L990.33,1347.35 L991.66,1347.35 L993,1347.35 L994.34,1347.35 L995.68,1347.35 L997.01,1347.35 L998.35,1347.35 L999.69,1347.35 L1001.02,1347.35 L1002.36,1347.35 L1003.7,1347.35 L1005.04,1347.35 L1006.37,1347.35 L1007.71,1347.35 L1009.05,1347.35 L1010.39,1347.35 L1011.72,1347.35 L1013.06,1347.35 L1014.4,1347.35 L1015.73,1347.35 L1017.07,1347.35 L1018.41,1347.35 L1019.75,1347.35 L1021.08,1356.43 L1022.42,1372.6 L1023.76,1387.59 L1025.1,1400.15 L1026.43,1411.29 L1027.77,1418.56 L1029.11,1423.21 L1030.44,1424.87 L1031.78,1425.65 L1033.12,1426.23 L1034.46,1426.62 L1035.79,1426.82 L1037.13,1426.85 L1038.47,1426.85 L1039.81,1426.85 L1041.14,1426.85 L1042.48,1426.85 L1043.82,1426.85 L1045.15,1426.85 L1046.49,1426.83 L1047.83,1426.66 L1049.17,1426.35 L1050.5,1425.94 L1051.84,1425.47 L1053.18,1424.97 L1054.52,1424.49 L1055.85,1423.95 L1057.19,1423.26 L1058.53,1422.46 L1059.86,1421.61 L1061.2,1420.75 L1062.54,1419.94 L1063.88,1419.22 L1065.21,1418.64 L1066.55,1418.25 L1067.89,1418.11 L1069.22,1418.19 L1070.56,1418.44 L1071.9,1418.82 L1073.24,1419.3 L1074.57,1419.86 L1075.91,1420.45 L1077.25,1421.04 L1078.59,1421.62 L1079.92,1422.13 L1081.26,1422.56 L1082.6,1422.87 L1083.93,1423.02 L1085.27,1422.85 L1086.61,1421.87 L1087.95,1420.2 L1089.28,1418.02 L1090.62,1415.5 L1091.96,1412.8 L1093.3,1410.12 L1094.63,1407.6 L1095.97,1405.44 L1097.31,1403.24 L1098.64,1400.81 L1099.98,1398.73 L1101.32,1397.54 L1102.66,1397.68 L1103.99,1398.8 L1105.33,1400.43 L1106.67,1402.12 L1108.01,1403.38 L1109.34,1403.78 L1110.68,1402.75 L1112.02,1400.56 L1113.35,1397.74 L1114.69,1394.82 L1116.03,1392.33 L1117.37,1390.82 L1118.7,1390.94 L1120.04,1393.47 L1121.38,1397.66 L1122.72,1402.56 L1124.05,1407.24 L1125.39,1410.75 L1126.73,1412.14 L1128.06,1411.66 L1129.4,1410.41 L1130.74,1408.66 L1132.08,1406.71 L1133.41,1404.85 L1134.75,1403.34 L1136.09,1401.97 L1137.43,1400.64 L1138.76,1399.32 L1140.1,1397.99" fill="none" stroke="#3a2020" stroke-width="1" opacity="0.8"/>
<path d="M1140.1,1426.85 V1397.99" stroke="#111" stroke-width="1.3"/>
<path d="M1140.1,1398.3 L1141.43,1399.63 L1142.77,1401.66 L1144.1,1404.71 L1145.44,1408.67 L1146.77,1412.62 L1148.11,1415.88 L1149.44,1417.81 L1150.78,1417.98 L1152.11,1417.64 L1153.44,1417.08 L1154.78,1416.28 L1156.11,1415 L1157.45,1413.76 L1158.78,1413.08 L1160.12,1412.95 L1161.45,1413.06 L1162.79,1413.2 L1164.12,1413.24 L1165.45,1413.25 L1166.79,1413.08 L1168.12,1413.06 L1169.46,1412.97 L1170.79,1413.34 L1172.13,1413.66 L1173.46,1413.7 L1174.8,1413.69 L1176.13,1414.04 L1177.46,1414.5 L1178.8,1414.83 L1180.13,1414.88 L1181.47,1414.45 L1182.8,1413.94 L1184.14,1413.84 L1185.47,1413.78 L1186.81,1413.62 L1188.14,1413.5 L1189.47,1413.17 L1190.81,1412.79 L1192.14,1412.72 L1193.48,1412.93 L1194.81,1412.78 L1196.15,1412.48 L1197.48,1412.56 L1198.82,1412.54 L1200.15,1412.2 L1201.48,1411.91 L1202.82,1412.49 L1204.15,1413.59 L1205.49,1414.68 L1206.82,1415.86 L1208.16,1417.12 L1209.49,1418.59 L1210.82,1419.77 L1212.16,1420.86 L1213.49,1421.57 L1214.83,1422.21 L1216.16,1422.66 L1217.5,1422.88 L1218.83,1423.08 L1220.17,1423.02 L1221.5,1423 L1222.83,1422.92 L1224.17,1422.71 L1225.5,1422.08 L1226.84,1421.45 L1228.17,1421.21 L1229.51,1421.28 L1230.84,1421.18 L1232.18,1421.2 L1233.51,1421.21 L1234.84,1421.07 L1236.18,1420.76 L1237.51,1420.51 L1238.85,1420.57 L1240.18,1420.57 L1241.52,1420.17 L1242.85,1419.9 L1244.19,1419.37 L1245.52,1418.98 L1246.85,1418.5 L1248.19,1418.66 L1249.52,1418.78 L1250.86,1418.71 L1252.19,1418.37 L1253.53,1417.94 L1254.86,1418.11 L1256.2,1419.07 L1257.53,1419.82 L1258.86,1420.15 L1260.2,1420.17 L1261.53,1420.69 L1262.87,1420.67 L1264.2,1420.93 L1265.54,1420.7 L1266.87,1420.56 L1268.21,1420.02 L1269.54,1419.1 L1270.87,1417.89 L1272.21,1416.72 L1273.54,1416.44 L1274.88,1416.44 L1276.21,1416.7 L1277.55,1416.9 L1278.88,1417.06 L1280.22,1417.19 L1281.55,1417.4 L1282.88,1418.02 L1284.22,1418.82 L1285.55,1419.53 L1286.89,1420.32 L1288.22,1420.77 L1289.56,1421.18 L1290.89,1421.74 L1292.23,1422.62 L1293.56,1423.34 L1294.89,1423.76 L1296.23,1424.3 L1297.56,1424.69 L1298.9,1425.2 L1300.23,1425.88 L1301.57,1426.32 L1302.9,1426.65 L1304.24,1426.83 L1305.57,1426.84 L1306.9,1426.78 L1308.24,1426.66 L1309.57,1426.5 L1310.91,1426.3 L1312.24,1426.07 L1313.58,1425.83 L1314.91,1425.72 L1316.25,1425.4 L1317.58,1425.27 L1318.91,1425.25 L1320.25,1425.03 L1321.58,1424.73 L1322.92,1424.44 L1324.25,1424.61 L1325.59,1424.71 L1326.92,1424.38 L1328.25,1423.86 L1329.59,1423.66 L1330.92,1423.93 L1332.26,1424.02 L1333.59,1423.91 L1334.93,1423.47 L1336.26,1423.27 L1337.6,1423.18 L1338.93,1423.46 L1340.26,1423.55 L1341.6,1423.56 L1342.93,1423.39 L1344.27,1423.41 L1345.6,1423.42 L1346.94,1423.43 L1348.27,1423.26 L1349.61,1423.18 L1350.94,1423.35 L1352.27,1423.5 L1353.61,1423.42 L1354.94,1423.25 L1356.28,1423.05 L1357.61,1422.83 L1358.95,1422.98 L1360.28,1423.25 L1361.62,1423.18 L1362.95,1422.91 L1364.28,1422.92 L1365.62,1423.04 L1366.95,1423.21 L1368.29,1423.32 L1369.62,1423.46 L1370.96,1423.76 L1372.29,1423.95 L1373.63,1424.17 L1374.96,1424.44 L1376.29,1424.67 L1377.63,1424.93 L1378.96,1425.13 L1380.3,1425.59 L1381.63,1425.43 L1382.97,1425.35 L1384.3,1425.18 L1385.64,1425.51 L1386.97,1425.82 L1388.3,1425.9 L1389.64,1425.58 L1390.97,1425.37 L1392.31,1425.55 L1393.64,1425.8 L1394.98,1425.66 L1396.31,1425.55 L1397.65,1425.61 L1398.98,1425.78 L1400.31,1425.74 L1401.65,1425.84 L1402.98,1425.72 L1404.32,1425.44 L1405.65,1425.66 L1406.99,1425.68 L1408.32,1425.7 L1409.66,1425.72 L1410.99,1425.73 L1412.32,1425.75 L1413.66,1425.76 L1414.99,1425.78 L1416.33,1425.79 L1417.66,1425.81 L1419,1425.82 L1420.33,1425.83 L1421.67,1425.85 L1423,1425.86 L1424.33,1425.87 L1425.67,1425.88 L1427,1425.89 L1428.34,1425.9 L1429.67,1425.91 L1431.01,1425.92 L1432.34,1425.93 L1433.68,1425.94 L1435.01,1425.95 L1436.34,1425.96 L1437.68,1425.97 L1439.01,1425.98 L1440.35,1425.99 L1441.68,1426 L1443.02,1426.01 L1444.35,1426.02 L1445.69,1426.03 L1447.02,1426.04 L1448.35,1426.05 L1449.69,1426.05 L1451.02,1426.06 L1452.36,1426.07 L1453.69,1426.08 L1455.03,1426.09 L1456.36,1426.1 L1457.69,1426.11 L1459.03,1426.12 L1460.36,1426.13 L1461.7,1426.15 L1463.03,1426.16 L1464.37,1426.17 L1465.7,1426.18 L1467.04,1426.19 L1468.37,1426.21 L1469.7,1426.22 L1471.04,1426.23 L1472.37,1426.25 L1473.71,1426.26 L1474.5,1426.28 L1474.5,1426.29" fill="none" stroke="#3a1010" stroke-width="1.7" opacity="0.45"/>
<path d="M1140.1,1398.3 L1141.43,1399.63 L1142.77,1401.66 L1144.1,1404.71 L1145.44,1408.67 L1146.77,1412.62 L1148.11,1415.88 L1149.44,1417.81 L1150.78,1417.98 L1152.11,1417.64 L1153.44,1417.08 L1154.78,1416.28 L1156.11,1415 L1157.45,1413.76 L1158.78,1413.08 L1160.12,1412.95 L1161.45,1413.06 L1162.79,1413.2 L1164.12,1413.24 L1165.45,1413.25 L1166.79,1413.08 L1168.12,1413.06 L1169.46,1412.97 L1170.79,1413.34 L1172.13,1413.66 L1173.46,1413.7 L1174.8,1413.69 L1176.13,1414.04 L1177.46,1414.5 L1178.8,1414.83 L1180.13,1414.88 L1181.47,1414.45 L1182.8,1413.94 L1184.14,1413.84 L1185.47,1413.78 L1186.81,1413.62 L1188.14,1413.5 L1189.47,1413.17 L1190.81,1412.79 L1192.14,1412.72 L1193.48,1412.93 L1194.81,1412.78 L1196.15,1412.48 L1197.48,1412.56 L1198.82,1412.54 L1200.15,1412.2 L1201.48,1411.91 L1202.82,1412.49 L1204.15,1413.59 L1205.49,1414.68 L1206.82,1415.86 L1208.16,1417.12 L1209.49,1418.59 L1210.82,1419.77 L1212.16,1420.86 L1213.49,1421.57 L1214.83,1422.21 L1216.16,1422.66 L1217.5,1422.88 L1218.83,1423.08 L1220.17,1423.02 L1221.5,1423 L1222.83,1422.92 L1224.17,1422.71 L1225.5,1422.08 L1226.84,1421.45 L1228.17,1421.21 L1229.51,1421.28 L1230.84,1421.18 L1232.18,1421.2 L1233.51,1421.21 L1234.84,1421.07 L1236.18,1420.76 L1237.51,1420.51 L1238.85,1420.57 L1240.18,1420.57 L1241.52,1420.17 L1242.85,1419.9 L1244.19,1419.37 L1245.52,1418.98 L1246.85,1418.5 L1248.19,1418.66 L1249.52,1418.78 L1250.86,1418.71 L1252.19,1418.37 L1253.53,1417.94 L1254.86,1418.11 L1256.2,1419.07 L1257.53,1419.82 L1258.86,1420.15 L1260.2,1420.17 L1261.53,1420.69 L1262.87,1420.67 L1264.2,1420.93 L1265.54,1420.7 L1266.87,1420.56 L1268.21,1420.02 L1269.54,1419.1 L1270.87,1417.89 L1272.21,1416.72 L1273.54,1416.44 L1274.88,1416.44 L1276.21,1416.7 L1277.55,1416.9 L1278.88,1417.06 L1280.22,1417.19 L1281.55,1417.4 L1282.88,1418.02 L1284.22,1418.82 L1285.55,1419.53 L1286.89,1420.32 L1288.22,1420.77 L1289.56,1421.18 L1290.89,1421.74 L1292.23,1422.62 L1293.56,1423.34 L1294.89,1423.76 L1296.23,1424.3 L1297.56,1424.69 L1298.9,1425.2 L1300.23,1425.88 L1301.57,1426.32 L1302.9,1426.65 L1304.24,1426.83 L1305.57,1426.84 L1306.9,1426.78 L1308.24,1426.66 L1309.57,1426.5 L1310.91,1426.3 L1312.24,1426.07 L1313.58,1425.83 L1314.91,1425.72 L1316.25,1425.4 L1317.58,1425.27 L1318.91,1425.25 L1320.25,1425.03 L1321.58,1424.73 L1322.92,1424.44 L1324.25,1424.61 L1325.59,1424.71 L1326.92,1424.38 L1328.25,1423.86 L1329.59,1423.66 L1330.92,1423.93 L1332.26,1424.02 L1333.59,1423.91 L1334.93,1423.47 L1336.26,1423.27 L1337.6,1423.18 L1338.93,1423.46 L1340.26,1423.55 L1341.6,1423.56 L1342.93,1423.39 L1344.27,1423.41 L1345.6,1423.42 L1346.94,1423.43 L1348.27,1423.26 L1349.61,1423.18 L1350.94,1423.35 L1352.27,1423.5 L1353.61,1423.42 L1354.94,1423.25 L1356.28,1423.05 L1357.61,1422.83 L1358.95,1422.98 L1360.28,1423.25 L1361.62,1423.18 L1362.95,1422.91 L1364.28,1422.92 L1365.62,1423.04 L1366.95,1423.21 L1368.29,1423.32 L1369.62,1423.46 L1370.96,1423.76 L1372.29,1423.95 L1373.63,1424.17 L1374.96,1424.44 L1376.29,1424.67 L1377.63,1424.93 L1378.96,1425.13 L1380.3,1425.59 L1381.63,1425.43 L1382.97,1425.35 L1384.3,1425.18 L1385.64,1425.51 L1386.97,1425.82 L1388.3,1425.9 L1389.64,1425.58 L1390.97,1425.37 L1392.31,1425.55 L1393.64,1425.8 L1394.98,1425.66 L1396.31,1425.55 L1397.65,1425.61 L1398.98,1425.78 L1400.31,1425.74 L1401.65,1425.84 L1402.98,1425.72 L1404.32,1425.44 L1405.65,1425.66 L1406.99,1425.68 L1408.32,1425.7 L1409.66,1425.72 L1410.99,1425.73 L1412.32,1425.75 L1413.66,1425.76 L1414.99,1425.78 L1416.33,1425.79 L1417.66,1425.81 L1419,1425.82 L1420.33,1425.83 L1421.67,1425.85 L1423,1425.86 L1424.33,1425.87 L1425.67,1425.88 L1427,1425.89 L1428.34,1425.9 L1429.67,1425.91 L1431.01,1425.92 L1432.34,1425.93 L1433.68,1425.94 L1435.01,1425.95 L1436.34,1425.96 L1437.68,1425.97 L1439.01,1425.98 L1440.35,1425.99 L1441.68,1426 L1443.02,1426.01 L1444.35,1426.02 L1445.69,1426.03 L1447.02,1426.04 L1448.35,1426.05 L1449.69,1426.05 L1451.02,1426.06 L1452.36,1426.07 L1453.69,1426.08 L1455.03,1426.09 L1456.36,1426.1 L1457.69,1426.11 L1459.03,1426.12 L1460.36,1426.13 L1461.7,1426.15 L1463.03,1426.16 L1464.37,1426.17 L1465.7,1426.18 L1467.04,1426.19 L1468.37,1426.21 L1469.7,1426.22 L1471.04,1426.23 L1472.37,1426.25 L1473.71,1426.26 L1474.5,1426.28 L1474.5,1426.29" fill="none" stroke="#e3242b" stroke-width="1.3"/>
<rect x="806" y="1347.35" width="668.5" height="79.5" fill="none" stroke="#2e2e2e" stroke-width="1.35"/>
<text x="1387" y="1371.55" font-family="'Liberation Serif', serif" font-size="18" fill="#111">MgNiH<tspan font-size="12.5" dy="5.5" dx="1.5">3</tspan></text>
<text x="800.3" y="1353.45" text-anchor="end" font-family="'Liberation Serif', serif" font-size="18.3" fill="#111">0.1</text>
<text x="800.3" y="1393.2" text-anchor="end" font-family="'Liberation Serif', serif" font-size="18.3" fill="#111">0.05</text>
<text x="800.3" y="1432.95" text-anchor="end" font-family="'Liberation Serif', serif" font-size="18.3" fill="#111">0</text>
<path d="M917.4,1442.6 v12 M917.4,1522.1 v-12 M1028.75,1442.6 v12 M1028.75,1522.1 v-12 M1140.1,1442.6 v12 M1140.1,1522.1 v-12 M1251.45,1442.6 v12 M1251.45,1522.1 v-12 M1362.8,1442.6 v12 M1362.8,1522.1 v-12 M806,1482.35 h13 M1474.5,1482.35 h-13 " stroke="#333" stroke-width="1.4"/>
<g clip-path="url(#cl8)"><path d="M863.77,1442.6 h2.5 V1522.1 h-2.5 Z M868.45,1442.6 h2.5 V1522.1 h-2.5 Z M873.13,1442.6 h2.5 V1522.1 h-2.5 Z M877.81,1442.6 h2.5 V1522.1 h-2.5 Z M882.49,1442.6 h2.5 V1522.1 h-2.5 Z M887.17,1442.6 h2.5 V1522.1 h-2.5 Z M891.85,1442.6 h2.5 V1522.1 h-2.5 Z M896.53,1442.6 h2.5 V1522.1 h-2.5 Z M901.21,1442.6 h2.5 V1522.1 h-2.5 Z M905.89,1442.6 h2.5 V1522.1 h-2.5 Z M910.57,1442.6 h2.5 V1522.1 h-2.5 Z M915.25,1442.6 h2.5 V1522.1 h-2.5 Z M919.93,1442.6 h2.5 V1522.1 h-2.5 Z M924.61,1442.6 h2.5 V1522.1 h-2.5 Z M929.29,1442.6 h2.5 V1522.1 h-2.5 Z M933.97,1442.6 h2.5 V1522.1 h-2.5 Z M938.65,1442.6 h2.5 V1522.1 h-2.5 Z M943.33,1442.6 h2.5 V1522.1 h-2.5 Z M948.01,1442.6 h2.5 V1522.1 h-2.5 Z M952.69,1442.6 h2.5 V1522.1 h-2.5 Z M957.37,1442.6 h2.5 V1522.1 h-2.5 Z M962.05,1442.6 h2.5 V1522.1 h-2.5 Z M966.73,1442.6 h2.5 V1522.1 h-2.5 Z M971.41,1442.6 h2.5 V1522.1 h-2.5 Z M976.09,1442.6 h2.5 V1522.1 h-2.5 Z M980.77,1442.6 h2.5 V1522.1 h-2.5 Z M985.45,1442.6 h2.5 V1522.1 h-2.5 Z M990.13,1442.6 h2.5 V1522.1 h-2.5 Z M994.81,1442.6 h2.5 V1522.1 h-2.5 Z M999.49,1442.6 h2.5 V1522.1 h-2.5 Z M1004.17,1442.6 h2.5 V1522.1 h-2.5 Z M1008.85,1442.6 h2.5 V1522.1 h-2.5 Z M1013.53,1442.6 h2.5 V1522.1 h-2.5 Z M1018.21,1442.6 h2.5 V1522.1 h-2.5 Z M1022.89,1442.6 h2.5 V1522.1 h-2.5 Z M1027.57,1442.6 h2.5 V1522.1 h-2.5 Z M1032.25,1442.6 h2.5 V1522.1 h-2.5 Z M1036.93,1442.6 h2.5 V1522.1 h-2.5 Z M1041.61,1442.6 h2.5 V1522.1 h-2.5 Z M1046.29,1442.6 h2.5 V1522.1 h-2.5 Z M1050.97,1442.6 h2.5 V1522.1 h-2.5 Z M1055.65,1442.6 h2.5 V1522.1 h-2.5 Z M1060.33,1442.6 h2.5 V1522.1 h-2.5 Z M1065.01,1442.6 h2.5 V1522.1 h-2.5 Z M1069.69,1442.6 h2.5 V1522.1 h-2.5 Z M1074.37,1442.6 h2.5 V1522.1 h-2.5 Z M1079.05,1442.6 h2.5 V1522.1 h-2.5 Z M1083.73,1442.6 h2.5 V1522.1 h-2.5 Z M1088.41,1442.6 h2.5 V1522.1 h-2.5 Z M1093.09,1442.6 h2.5 V1522.1 h-2.5 Z M1097.77,1442.6 h2.5 V1522.1 h-2.5 Z M1102.45,1442.6 h2.5 V1522.1 h-2.5 Z M1107.13,1442.6 h2.5 V1522.1 h-2.5 Z M1111.81,1442.6 h2.5 V1522.1 h-2.5 Z M1116.49,1442.6 h2.5 V1522.1 h-2.5 Z M1121.17,1442.6 h2.5 V1522.1 h-2.5 Z M1125.85,1442.6 h2.5 V1522.1 h-2.5 Z M1130.53,1442.6 h2.5 V1522.1 h-2.5 Z M1135.21,1442.6 h2.5 V1522.1 h-2.5 Z M1139.89,1442.6 h2.5 V1522.1 h-2.5 Z " fill="#0a0a0a"/></g>
<path d="M873.97,1522.1 L875.31,1521.76 L876.65,1521.49 L877.99,1521.21 L879.32,1520.86 L880.66,1520.33 L882,1519.45 L883.33,1514.41 L884.67,1506.21 L886.01,1498.31 L887.35,1490.1 L888.68,1481.28 L890.02,1471.88 L891.36,1461.94 L892.7,1451.51 L894.03,1442.6 L895.37,1442.6 L896.71,1442.6 L898.05,1442.6 L899.38,1442.6 L900.72,1442.6 L902.06,1442.6 L903.39,1442.6 L904.73,1442.6 L906.07,1442.6 L907.41,1442.6 L908.74,1442.6 L910.08,1442.6 L911.42,1442.6 L912.76,1442.6 L914.09,1442.6 L915.43,1442.6 L916.77,1442.6 L918.11,1442.6 L919.44,1442.6 L920.78,1442.6 L922.12,1442.6 L923.45,1442.6 L924.79,1442.6 L926.13,1442.6 L927.47,1442.6 L928.8,1442.6 L930.14,1442.6 L931.48,1442.6 L932.82,1442.6 L934.15,1442.6 L935.49,1442.6 L936.83,1442.6 L938.16,1442.6 L939.5,1442.6 L940.84,1442.6 L942.18,1442.6 L943.51,1442.6 L944.85,1442.6 L946.19,1442.6 L947.53,1442.6 L948.86,1442.6 L950.2,1442.6 L951.54,1442.6 L952.88,1442.6 L954.21,1442.6 L955.55,1442.6 L956.89,1442.6 L958.22,1442.6 L959.56,1442.6 L960.9,1442.6 L962.24,1442.6 L963.57,1442.6 L964.91,1442.6 L966.25,1442.6 L967.59,1442.6 L968.92,1442.6 L970.26,1442.6 L971.6,1442.6 L972.94,1442.6 L974.27,1442.6 L975.61,1442.6 L976.95,1442.6 L978.28,1442.6 L979.62,1442.6 L980.96,1442.6 L982.3,1442.6 L983.63,1442.6 L984.97,1442.6 L986.31,1442.6 L987.65,1442.6 L988.98,1442.6 L990.32,1442.6 L991.66,1442.6 L992.99,1442.6 L994.33,1442.6 L995.67,1442.6 L997.01,1442.6 L998.34,1442.6 L999.68,1442.6 L1001.02,1442.6 L1002.36,1442.6 L1003.69,1442.6 L1005.03,1442.6 L1006.37,1442.6 L1007.71,1442.6 L1009.04,1442.6 L1010.38,1442.6 L1011.72,1442.6 L1013.05,1442.6 L1014.39,1442.6 L1015.73,1442.6 L1017.07,1451.75 L1018.4,1463.13 L1019.74,1475.43 L1021.08,1489.8 L1022.42,1500.96 L1023.75,1510.38 L1025.09,1515.63 L1026.43,1516.71 L1027.77,1517.28 L1029.1,1517.18 L1030.44,1516.41 L1031.78,1515.36 L1033.11,1514.25 L1034.45,1512.74 L1035.79,1510.96 L1037.13,1509.13 L1038.46,1507.46 L1039.8,1506.15 L1041.14,1505.43 L1042.48,1505.18 L1043.81,1505.04 L1045.15,1504.91 L1046.49,1504.68 L1047.82,1503.82 L1049.16,1501.65 L1050.5,1498.81 L1051.84,1496 L1053.17,1493.75 L1054.51,1491.71 L1055.85,1489.61 L1057.19,1487.25 L1058.52,1484.05 L1059.86,1479.9 L1061.2,1475.46 L1062.54,1471.43 L1063.87,1468.46 L1065.21,1467.25 L1066.55,1468.48 L1067.88,1471.8 L1069.22,1476.18 L1070.56,1480.61 L1071.9,1484.07 L1073.23,1485.53 L1074.57,1484.09 L1075.91,1480.13 L1077.25,1474.65 L1078.58,1468.64 L1079.92,1463.09 L1081.26,1458.98 L1082.6,1457.31 L1083.93,1458.94 L1085.27,1463.43 L1086.61,1469.79 L1087.94,1477.01 L1089.28,1484.1 L1090.62,1490.06 L1091.96,1493.88 L1093.29,1494.65 L1094.63,1493.07 L1095.97,1490 L1097.31,1486.02 L1098.64,1481.69 L1099.98,1477.58 L1101.32,1474.26 L1102.66,1472.31 L1103.99,1472.23 L1105.33,1473.94 L1106.67,1477.02 L1108,1481.08 L1109.34,1485.7 L1110.68,1490.5 L1112.02,1495.08 L1113.35,1499.03 L1114.69,1501.96 L1116.03,1503.46 L1117.37,1503.36 L1118.7,1502.34 L1120.04,1500.72 L1121.38,1498.77 L1122.71,1496.77 L1124.05,1495 L1125.39,1493.73 L1126.73,1493.24 L1128.06,1493.58 L1129.4,1494.47 L1130.74,1495.7 L1132.08,1497.06 L1133.41,1498.34 L1134.75,1499.35 L1136.09,1500.22 L1137.43,1501.05 L1138.76,1501.87 L1140.1,1502.7" fill="none" stroke="#3a2020" stroke-width="1" opacity="0.8"/>
<path d="M1140.1,1522.1 V1502.7" stroke="#111" stroke-width="1.3"/>
<path d="M1140.1,1502.7 L1141.43,1502.34 L1142.77,1501.96 L1144.1,1501.63 L1145.44,1501.36 L1146.77,1501.26 L1148.11,1501.17 L1149.44,1500.93 L1150.78,1500.33 L1152.11,1499.74 L1153.44,1499.57 L1154.78,1499.73 L1156.11,1499.74 L1157.45,1500.07 L1158.78,1501.36 L1160.12,1503.73 L1161.45,1506.14 L1162.79,1508.69 L1164.12,1510.63 L1165.45,1512.23 L1166.79,1512.81 L1168.12,1512.94 L1169.46,1512.72 L1170.79,1512.2 L1172.13,1511.34 L1173.46,1510.69 L1174.8,1510.02 L1176.13,1509.66 L1177.46,1509.28 L1178.8,1509.62 L1180.13,1510.4 L1181.47,1511.18 L1182.8,1511.88 L1184.14,1512.87 L1185.47,1514.34 L1186.81,1515.73 L1188.14,1516.9 L1189.47,1517.3 L1190.81,1517.28 L1192.14,1517.36 L1193.48,1517.5 L1194.81,1517.46 L1196.15,1517.36 L1197.48,1517.44 L1198.82,1517.3 L1200.15,1517.28 L1201.48,1517.33 L1202.82,1517.44 L1204.15,1517.5 L1205.49,1517.4 L1206.82,1517.33 L1208.16,1517.22 L1209.49,1517.32 L1210.82,1517.11 L1212.16,1517.04 L1213.49,1516.68 L1214.83,1516.09 L1216.16,1515.1 L1217.5,1514.55 L1218.83,1513.92 L1220.17,1513.04 L1221.5,1512.07 L1222.83,1511.57 L1224.17,1511.4 L1225.5,1511.41 L1226.84,1511.52 L1228.17,1511.6 L1229.51,1511.85 L1230.84,1512.17 L1232.18,1512.6 L1233.51,1512.94 L1234.84,1513.33 L1236.18,1513.92 L1237.51,1514.32 L1238.85,1514.18 L1240.18,1513.42 L1241.52,1512.65 L1242.85,1511.76 L1244.19,1510.8 L1245.52,1510.1 L1246.85,1509.75 L1248.19,1509.76 L1249.52,1509.52 L1250.86,1509.66 L1252.19,1510.02 L1253.53,1510.9 L1254.86,1511.36 L1256.2,1511.94 L1257.53,1512.55 L1258.86,1513.62 L1260.2,1514.71 L1261.53,1515.9 L1262.87,1516.88 L1264.2,1517.68 L1265.54,1518.3 L1266.87,1518.65 L1268.21,1518.9 L1269.54,1519.17 L1270.87,1519.15 L1272.21,1518.84 L1273.54,1518.76 L1274.88,1518.91 L1276.21,1518.88 L1277.55,1518.76 L1278.88,1518.92 L1280.22,1519.16 L1281.55,1518.98 L1282.88,1518.73 L1284.22,1518.5 L1285.55,1518.66 L1286.89,1518.89 L1288.22,1518.88 L1289.56,1519 L1290.89,1519.11 L1292.23,1519.08 L1293.56,1519.16 L1294.89,1519.33 L1296.23,1519.1 L1297.56,1518.29 L1298.9,1517.34 L1300.23,1516.9 L1301.57,1516.38 L1302.9,1515.92 L1304.24,1515.33 L1305.57,1515.03 L1306.9,1515.02 L1308.24,1515.14 L1309.57,1515.65 L1310.91,1515.98 L1312.24,1516.08 L1313.58,1516.21 L1314.91,1516.34 L1316.25,1516.41 L1317.58,1516.57 L1318.91,1516.81 L1320.25,1516.91 L1321.58,1517.09 L1322.92,1517.35 L1324.25,1517.62 L1325.59,1517.67 L1326.92,1517.74 L1328.25,1517.88 L1329.59,1518.05 L1330.92,1518.33 L1332.26,1518.29 L1333.59,1518.41 L1334.93,1518.47 L1336.26,1518.54 L1337.6,1518.51 L1338.93,1518.59 L1340.26,1518.71 L1341.6,1518.85 L1342.93,1519.05 L1344.27,1519.23 L1345.6,1519.4 L1346.94,1519.81 L1348.27,1520.29 L1349.61,1520.69 L1350.94,1521.17 L1352.27,1521.3 L1353.61,1521.28 L1354.94,1521.21 L1356.28,1521.1 L1357.61,1520.96 L1358.95,1521.11 L1360.28,1521.08 L1361.62,1520.71 L1362.95,1520.02 L1364.28,1519.83 L1365.62,1519.28 L1366.95,1518.79 L1368.29,1518.41 L1369.62,1518.69 L1370.96,1519.08 L1372.29,1519.14 L1373.63,1518.87 L1374.96,1517.96 L1376.29,1517.83 L1377.63,1517.93 L1378.96,1518.21 L1380.3,1518.14 L1381.63,1518.65 L1382.97,1518.99 L1384.3,1519.1 L1385.64,1519.26 L1386.97,1519.78 L1388.3,1520.53 L1389.64,1520.96 L1390.97,1521.01 L1392.31,1521.21 L1393.64,1521.3 L1394.98,1521.3 L1396.31,1521.3 L1397.65,1521.3 L1398.98,1521.3 L1400.31,1521.3 L1401.65,1521.29 L1402.98,1521.29 L1404.32,1521.28 L1405.65,1521.28 L1406.99,1521.27 L1408.32,1521.26 L1409.66,1521.25 L1410.99,1521.24 L1412.32,1521.23 L1413.66,1521.23 L1414.99,1521.21 L1416.33,1521.2 L1417.66,1521.19 L1419,1521.18 L1420.33,1521.17 L1421.67,1521.16 L1423,1521.14 L1424.33,1521.13 L1425.67,1521.12 L1427,1521.1 L1428.34,1521.09 L1429.67,1521.07 L1431.01,1521.06 L1432.34,1521.04 L1433.68,1521.02 L1435.01,1521.01 L1436.34,1520.99 L1437.68,1520.98 L1439.01,1520.96 L1440.35,1520.94 L1441.68,1520.93 L1443.02,1520.91 L1444.35,1520.72 L1445.69,1520.89 L1447.02,1520.77 L1448.35,1520.44 L1449.69,1520.56 L1451.02,1520.77 L1452.36,1520.73 L1453.69,1520.48 L1455.03,1520.33 L1456.36,1520.38 L1457.69,1520.54 L1459.03,1520.76 L1460.36,1520.77 L1461.7,1520.74 L1463.03,1520.9 L1464.37,1520.77 L1465.7,1520.66 L1467.04,1520.52 L1468.37,1520.78 L1469.7,1520.93 L1471.04,1520.84 L1472.37,1520.79 L1473.71,1520.74 L1474.5,1520.6 L1474.5,1520.32" fill="none" stroke="#3a1010" stroke-width="1.7" opacity="0.45"/>
<path d="M1140.1,1502.7 L1141.43,1502.34 L1142.77,1501.96 L1144.1,1501.63 L1145.44,1501.36 L1146.77,1501.26 L1148.11,1501.17 L1149.44,1500.93 L1150.78,1500.33 L1152.11,1499.74 L1153.44,1499.57 L1154.78,1499.73 L1156.11,1499.74 L1157.45,1500.07 L1158.78,1501.36 L1160.12,1503.73 L1161.45,1506.14 L1162.79,1508.69 L1164.12,1510.63 L1165.45,1512.23 L1166.79,1512.81 L1168.12,1512.94 L1169.46,1512.72 L1170.79,1512.2 L1172.13,1511.34 L1173.46,1510.69 L1174.8,1510.02 L1176.13,1509.66 L1177.46,1509.28 L1178.8,1509.62 L1180.13,1510.4 L1181.47,1511.18 L1182.8,1511.88 L1184.14,1512.87 L1185.47,1514.34 L1186.81,1515.73 L1188.14,1516.9 L1189.47,1517.3 L1190.81,1517.28 L1192.14,1517.36 L1193.48,1517.5 L1194.81,1517.46 L1196.15,1517.36 L1197.48,1517.44 L1198.82,1517.3 L1200.15,1517.28 L1201.48,1517.33 L1202.82,1517.44 L1204.15,1517.5 L1205.49,1517.4 L1206.82,1517.33 L1208.16,1517.22 L1209.49,1517.32 L1210.82,1517.11 L1212.16,1517.04 L1213.49,1516.68 L1214.83,1516.09 L1216.16,1515.1 L1217.5,1514.55 L1218.83,1513.92 L1220.17,1513.04 L1221.5,1512.07 L1222.83,1511.57 L1224.17,1511.4 L1225.5,1511.41 L1226.84,1511.52 L1228.17,1511.6 L1229.51,1511.85 L1230.84,1512.17 L1232.18,1512.6 L1233.51,1512.94 L1234.84,1513.33 L1236.18,1513.92 L1237.51,1514.32 L1238.85,1514.18 L1240.18,1513.42 L1241.52,1512.65 L1242.85,1511.76 L1244.19,1510.8 L1245.52,1510.1 L1246.85,1509.75 L1248.19,1509.76 L1249.52,1509.52 L1250.86,1509.66 L1252.19,1510.02 L1253.53,1510.9 L1254.86,1511.36 L1256.2,1511.94 L1257.53,1512.55 L1258.86,1513.62 L1260.2,1514.71 L1261.53,1515.9 L1262.87,1516.88 L1264.2,1517.68 L1265.54,1518.3 L1266.87,1518.65 L1268.21,1518.9 L1269.54,1519.17 L1270.87,1519.15 L1272.21,1518.84 L1273.54,1518.76 L1274.88,1518.91 L1276.21,1518.88 L1277.55,1518.76 L1278.88,1518.92 L1280.22,1519.16 L1281.55,1518.98 L1282.88,1518.73 L1284.22,1518.5 L1285.55,1518.66 L1286.89,1518.89 L1288.22,1518.88 L1289.56,1519 L1290.89,1519.11 L1292.23,1519.08 L1293.56,1519.16 L1294.89,1519.33 L1296.23,1519.1 L1297.56,1518.29 L1298.9,1517.34 L1300.23,1516.9 L1301.57,1516.38 L1302.9,1515.92 L1304.24,1515.33 L1305.57,1515.03 L1306.9,1515.02 L1308.24,1515.14 L1309.57,1515.65 L1310.91,1515.98 L1312.24,1516.08 L1313.58,1516.21 L1314.91,1516.34 L1316.25,1516.41 L1317.58,1516.57 L1318.91,1516.81 L1320.25,1516.91 L1321.58,1517.09 L1322.92,1517.35 L1324.25,1517.62 L1325.59,1517.67 L1326.92,1517.74 L1328.25,1517.88 L1329.59,1518.05 L1330.92,1518.33 L1332.26,1518.29 L1333.59,1518.41 L1334.93,1518.47 L1336.26,1518.54 L1337.6,1518.51 L1338.93,1518.59 L1340.26,1518.71 L1341.6,1518.85 L1342.93,1519.05 L1344.27,1519.23 L1345.6,1519.4 L1346.94,1519.81 L1348.27,1520.29 L1349.61,1520.69 L1350.94,1521.17 L1352.27,1521.3 L1353.61,1521.28 L1354.94,1521.21 L1356.28,1521.1 L1357.61,1520.96 L1358.95,1521.11 L1360.28,1521.08 L1361.62,1520.71 L1362.95,1520.02 L1364.28,1519.83 L1365.62,1519.28 L1366.95,1518.79 L1368.29,1518.41 L1369.62,1518.69 L1370.96,1519.08 L1372.29,1519.14 L1373.63,1518.87 L1374.96,1517.96 L1376.29,1517.83 L1377.63,1517.93 L1378.96,1518.21 L1380.3,1518.14 L1381.63,1518.65 L1382.97,1518.99 L1384.3,1519.1 L1385.64,1519.26 L1386.97,1519.78 L1388.3,1520.53 L1389.64,1520.96 L1390.97,1521.01 L1392.31,1521.21 L1393.64,1521.3 L1394.98,1521.3 L1396.31,1521.3 L1397.65,1521.3 L1398.98,1521.3 L1400.31,1521.3 L1401.65,1521.29 L1402.98,1521.29 L1404.32,1521.28 L1405.65,1521.28 L1406.99,1521.27 L1408.32,1521.26 L1409.66,1521.25 L1410.99,1521.24 L1412.32,1521.23 L1413.66,1521.23 L1414.99,1521.21 L1416.33,1521.2 L1417.66,1521.19 L1419,1521.18 L1420.33,1521.17 L1421.67,1521.16 L1423,1521.14 L1424.33,1521.13 L1425.67,1521.12 L1427,1521.1 L1428.34,1521.09 L1429.67,1521.07 L1431.01,1521.06 L1432.34,1521.04 L1433.68,1521.02 L1435.01,1521.01 L1436.34,1520.99 L1437.68,1520.98 L1439.01,1520.96 L1440.35,1520.94 L1441.68,1520.93 L1443.02,1520.91 L1444.35,1520.72 L1445.69,1520.89 L1447.02,1520.77 L1448.35,1520.44 L1449.69,1520.56 L1451.02,1520.77 L1452.36,1520.73 L1453.69,1520.48 L1455.03,1520.33 L1456.36,1520.38 L1457.69,1520.54 L1459.03,1520.76 L1460.36,1520.77 L1461.7,1520.74 L1463.03,1520.9 L1464.37,1520.77 L1465.7,1520.66 L1467.04,1520.52 L1468.37,1520.78 L1469.7,1520.93 L1471.04,1520.84 L1472.37,1520.79 L1473.71,1520.74 L1474.5,1520.6 L1474.5,1520.32" fill="none" stroke="#e3242b" stroke-width="1.3"/>
<rect x="806" y="1442.6" width="668.5" height="79.5" fill="none" stroke="#2e2e2e" stroke-width="1.35"/>
<text x="1387" y="1466.8" font-family="'Liberation Serif', serif" font-size="18" fill="#111">MgCuH<tspan font-size="12.5" dy="5.5" dx="1.5">3</tspan></text>
<text x="800.3" y="1448.7" text-anchor="end" font-family="'Liberation Serif', serif" font-size="18.3" fill="#111">0.1</text>
<text x="800.3" y="1488.45" text-anchor="end" font-family="'Liberation Serif', serif" font-size="18.3" fill="#111">0.05</text>
<text x="800.3" y="1528.2" text-anchor="end" font-family="'Liberation Serif', serif" font-size="18.3" fill="#111">0</text>
<path d="M917.4,1537.5 v12 M917.4,1617 v-12 M1028.75,1537.5 v12 M1028.75,1617 v-12 M1140.1,1537.5 v12 M1140.1,1617 v-12 M1251.45,1537.5 v12 M1251.45,1617 v-12 M1362.8,1537.5 v12 M1362.8,1617 v-12 M806,1577.25 h13 M1474.5,1577.25 h-13 " stroke="#333" stroke-width="1.4"/>
<g clip-path="url(#cl9)"><path d="M877.81,1537.5 h2.5 V1617 h-2.5 Z M882.49,1537.5 h2.5 V1617 h-2.5 Z M887.17,1537.5 h2.5 V1617 h-2.5 Z M891.85,1537.5 h2.5 V1617 h-2.5 Z M896.53,1537.5 h2.5 V1617 h-2.5 Z M901.21,1537.5 h2.5 V1617 h-2.5 Z M905.89,1537.5 h2.5 V1617 h-2.5 Z M910.57,1537.5 h2.5 V1617 h-2.5 Z M915.25,1537.5 h2.5 V1617 h-2.5 Z M919.93,1537.5 h2.5 V1617 h-2.5 Z M924.61,1537.5 h2.5 V1617 h-2.5 Z M929.29,1537.5 h2.5 V1617 h-2.5 Z M933.97,1537.5 h2.5 V1617 h-2.5 Z M938.65,1537.5 h2.5 V1617 h-2.5 Z M943.33,1537.5 h2.5 V1617 h-2.5 Z M948.01,1537.5 h2.5 V1617 h-2.5 Z M952.69,1537.5 h2.5 V1617 h-2.5 Z M957.37,1537.5 h2.5 V1617 h-2.5 Z M962.05,1537.5 h2.5 V1617 h-2.5 Z M966.73,1537.5 h2.5 V1617 h-2.5 Z M971.41,1537.5 h2.5 V1617 h-2.5 Z M976.09,1537.5 h2.5 V1617 h-2.5 Z M980.77,1537.5 h2.5 V1617 h-2.5 Z M985.45,1537.5 h2.5 V1617 h-2.5 Z M990.13,1537.5 h2.5 V1617 h-2.5 Z M994.81,1537.5 h2.5 V1617 h-2.5 Z M999.49,1537.5 h2.5 V1617 h-2.5 Z M1004.17,1537.5 h2.5 V1617 h-2.5 Z M1008.85,1537.5 h2.5 V1617 h-2.5 Z M1013.53,1537.5 h2.5 V1617 h-2.5 Z M1018.21,1537.5 h2.5 V1617 h-2.5 Z M1022.89,1537.5 h2.5 V1617 h-2.5 Z M1027.57,1537.5 h2.5 V1617 h-2.5 Z M1032.25,1537.5 h2.5 V1617 h-2.5 Z M1036.93,1537.5 h2.5 V1617 h-2.5 Z M1041.61,1537.5 h2.5 V1617 h-2.5 Z M1046.29,1537.5 h2.5 V1617 h-2.5 Z M1050.97,1537.5 h2.5 V1617 h-2.5 Z M1055.65,1537.5 h2.5 V1617 h-2.5 Z M1060.33,1537.5 h2.5 V1617 h-2.5 Z M1065.01,1537.5 h2.5 V1617 h-2.5 Z M1069.69,1537.5 h2.5 V1617 h-2.5 Z M1074.37,1537.5 h2.5 V1617 h-2.5 Z M1079.05,1537.5 h2.5 V1617 h-2.5 Z M1083.73,1537.5 h2.5 V1617 h-2.5 Z M1088.41,1537.5 h2.5 V1617 h-2.5 Z M1093.09,1537.5 h2.5 V1617 h-2.5 Z M1097.77,1537.5 h2.5 V1617 h-2.5 Z M1102.45,1537.5 h2.5 V1617 h-2.5 Z M1107.13,1537.5 h2.5 V1617 h-2.5 Z M1111.81,1537.5 h2.5 V1617 h-2.5 Z M1116.49,1537.5 h2.5 V1617 h-2.5 Z M1121.17,1537.5 h2.5 V1617 h-2.5 Z M1125.85,1537.5 h2.5 V1617 h-2.5 Z M1130.53,1537.5 h2.5 V1617 h-2.5 Z M1135.21,1537.5 h2.5 V1617 h-2.5 Z M1139.89,1537.5 h2.5 V1617 h-2.5 Z " fill="#0a0a0a"/></g>
<path d="M886.22,1617 L887.56,1616.66 L888.89,1616.39 L890.23,1616.12 L891.57,1615.78 L892.9,1615.3 L894.24,1614.62 L895.58,1611.49 L896.91,1605.26 L898.25,1598.22 L899.58,1591.59 L900.92,1584.49 L902.26,1576.9 L903.59,1568.85 L904.93,1560.38 L906.26,1551.5 L907.6,1542.25 L908.94,1537.5 L910.27,1537.5 L911.61,1537.5 L912.95,1537.5 L914.28,1537.5 L915.62,1537.5 L916.95,1537.5 L918.29,1537.5 L919.63,1537.5 L920.96,1537.5 L922.3,1537.5 L923.64,1537.5 L924.97,1537.5 L926.31,1537.5 L927.64,1537.5 L928.98,1537.5 L930.32,1537.5 L931.65,1537.5 L932.99,1537.5 L934.33,1537.5 L935.66,1537.5 L937,1537.5 L938.33,1537.5 L939.67,1537.5 L941.01,1537.5 L942.34,1537.5 L943.68,1537.5 L945.01,1537.5 L946.35,1537.5 L947.69,1537.5 L949.02,1537.5 L950.36,1537.5 L951.7,1537.5 L953.03,1537.5 L954.37,1537.5 L955.7,1537.5 L957.04,1537.5 L958.38,1537.5 L959.71,1537.5 L961.05,1537.5 L962.39,1537.5 L963.72,1537.5 L965.06,1537.5 L966.39,1537.5 L967.73,1537.5 L969.07,1537.5 L970.4,1537.5 L971.74,1537.5 L973.07,1537.5 L974.41,1537.5 L975.75,1537.5 L977.08,1537.5 L978.42,1537.5 L979.76,1537.5 L981.09,1537.5 L982.43,1537.5 L983.76,1537.5 L985.1,1537.5 L986.44,1537.5 L987.77,1537.5 L989.11,1537.5 L990.45,1537.5 L991.78,1537.5 L993.12,1537.5 L994.45,1537.5 L995.79,1537.5 L997.13,1537.5 L998.46,1537.5 L999.8,1537.5 L1001.14,1537.5 L1002.47,1537.5 L1003.81,1537.5 L1005.14,1537.5 L1006.48,1537.5 L1007.82,1537.5 L1009.15,1537.5 L1010.49,1537.5 L1011.82,1537.5 L1013.16,1537.5 L1014.5,1537.5 L1015.83,1537.5 L1017.17,1537.5 L1018.51,1537.5 L1019.84,1537.5 L1021.18,1537.5 L1022.51,1537.5 L1023.85,1537.5 L1025.19,1537.5 L1026.52,1537.5 L1027.86,1537.5 L1029.2,1537.5 L1030.53,1537.5 L1031.87,1537.5 L1033.2,1537.5 L1034.54,1537.5 L1035.88,1537.5 L1037.21,1537.5 L1038.55,1537.5 L1039.88,1537.5 L1041.22,1537.5 L1042.56,1537.5 L1043.89,1537.5 L1045.23,1537.5 L1046.57,1537.5 L1047.9,1537.5 L1049.24,1537.5 L1050.57,1537.5 L1051.91,1537.5 L1053.25,1537.5 L1054.58,1537.5 L1055.92,1543.17 L1057.26,1549.55 L1058.59,1554.53 L1059.93,1557.18 L1061.26,1556.24 L1062.6,1551.08 L1063.94,1543.3 L1065.27,1537.5 L1066.61,1537.5 L1067.95,1537.5 L1069.28,1537.5 L1070.62,1537.5 L1071.95,1537.5 L1073.29,1537.5 L1074.63,1537.5 L1075.96,1537.5 L1077.3,1537.5 L1078.63,1551 L1079.97,1564.8 L1081.31,1568.96 L1082.64,1571.66 L1083.98,1572.77 L1085.32,1572.12 L1086.65,1569.83 L1087.99,1566.44 L1089.32,1562.5 L1090.66,1558.57 L1092,1555.18 L1093.33,1552.88 L1094.67,1552.25 L1096.01,1553.93 L1097.34,1557.61 L1098.68,1562.57 L1100.01,1568.12 L1101.35,1573.56 L1102.69,1578.17 L1104.02,1581.26 L1105.36,1582.44 L1106.69,1583.08 L1108.03,1583.55 L1109.37,1583.9 L1110.7,1584.23 L1112.04,1584.59 L1113.38,1585.06 L1114.71,1585.72 L1116.05,1586.96 L1117.38,1589.64 L1118.72,1593.32 L1120.06,1597.49 L1121.39,1601.63 L1122.73,1605.23 L1124.07,1607.77 L1125.4,1608.73 L1126.74,1608.69 L1128.07,1608.58 L1129.41,1608.4 L1130.75,1608.18 L1132.08,1607.93 L1133.42,1607.65 L1134.76,1607.35 L1136.09,1606.92 L1137.43,1606.37 L1138.76,1605.79 L1140.1,1605.23" fill="none" stroke="#3a2020" stroke-width="1" opacity="0.8"/>
<path d="M1140.1,1617 V1605.23" stroke="#111" stroke-width="1.3"/>
<path d="M1140.1,1605.42 L1141.44,1604.88 L1142.77,1603.82 L1144.11,1602.86 L1145.44,1602.28 L1146.78,1602.18 L1148.12,1601.66 L1149.45,1601.14 L1150.79,1600.87 L1152.13,1600.97 L1153.46,1600.99 L1154.8,1601.17 L1156.13,1601.54 L1157.47,1602.11 L1158.81,1602.99 L1160.14,1603.98 L1161.48,1605.18 L1162.82,1606.15 L1164.15,1606.91 L1165.49,1607.26 L1166.82,1607.12 L1168.16,1607.49 L1169.5,1608.29 L1170.83,1609.11 L1172.17,1609.27 L1173.5,1609.48 L1174.84,1610.11 L1176.18,1610.59 L1177.51,1610.62 L1178.85,1610.53 L1180.19,1610.72 L1181.52,1611.4 L1182.86,1612.15 L1184.19,1612.44 L1185.53,1612.14 L1186.87,1612.05 L1188.2,1612.16 L1189.54,1612.38 L1190.88,1612.19 L1192.21,1611.89 L1193.55,1611.22 L1194.88,1610.37 L1196.22,1609.47 L1197.56,1608.42 L1198.89,1607.35 L1200.23,1606.09 L1201.57,1605.23 L1202.9,1604.64 L1204.24,1604.36 L1205.57,1604.24 L1206.91,1604.01 L1208.25,1604.2 L1209.58,1604.99 L1210.92,1606.34 L1212.25,1607.49 L1213.59,1608.22 L1214.93,1608.79 L1216.26,1608.75 L1217.6,1608.52 L1218.94,1608.05 L1220.27,1607.97 L1221.61,1607.81 L1222.94,1607.51 L1224.28,1607.15 L1225.62,1606.49 L1226.95,1606.16 L1228.29,1605.72 L1229.63,1605.49 L1230.96,1604.74 L1232.3,1604.46 L1233.63,1604.41 L1234.97,1604.64 L1236.31,1604.84 L1237.64,1605.18 L1238.98,1605.74 L1240.31,1606.41 L1241.65,1607.28 L1242.99,1608.17 L1244.32,1609 L1245.66,1609.65 L1247,1610.37 L1248.33,1611 L1249.67,1611.63 L1251,1611.95 L1252.34,1612.45 L1253.68,1612.61 L1255.01,1612.83 L1256.35,1612.55 L1257.69,1612.2 L1259.02,1612.06 L1260.36,1612.16 L1261.69,1612.01 L1263.03,1611.46 L1264.37,1611.11 L1265.7,1610.85 L1267.04,1610.69 L1268.38,1610.82 L1269.71,1610.8 L1271.05,1610.8 L1272.38,1610.54 L1273.72,1610.58 L1275.06,1610.41 L1276.39,1610.25 L1277.73,1609.92 L1279.06,1609.6 L1280.4,1609.57 L1281.74,1609.77 L1283.07,1609.82 L1284.41,1609.61 L1285.75,1609.92 L1287.08,1610.77 L1288.42,1611.28 L1289.75,1611.66 L1291.09,1612.14 L1292.43,1612.42 L1293.76,1612.59 L1295.1,1613 L1296.44,1613.39 L1297.77,1613.48 L1299.11,1613.5 L1300.44,1613.48 L1301.78,1613.59 L1303.12,1613.63 L1304.45,1613.37 L1305.79,1613.07 L1307.12,1613.37 L1308.46,1613.54 L1309.8,1613.43 L1311.13,1613.54 L1312.47,1613.77 L1313.81,1613.55 L1315.14,1613.02 L1316.48,1612.93 L1317.81,1613.23 L1319.15,1613.53 L1320.49,1613.69 L1321.82,1613.85 L1323.16,1613.91 L1324.5,1613.74 L1325.83,1613.53 L1327.17,1613.56 L1328.5,1613.4 L1329.84,1613.16 L1331.18,1613.11 L1332.51,1613.38 L1333.85,1613.78 L1335.19,1613.68 L1336.52,1613.62 L1337.86,1613.57 L1339.19,1613.78 L1340.53,1613.62 L1341.87,1613.23 L1343.2,1613.11 L1344.54,1613.47 L1345.87,1613.76 L1347.21,1613.69 L1348.55,1613.37 L1349.88,1613.53 L1351.22,1613.72 L1352.56,1614 L1353.89,1613.93 L1355.23,1613.94 L1356.56,1614.19 L1357.9,1614.46 L1359.24,1614.55 L1360.57,1614.52 L1361.91,1614.24 L1363.25,1614.42 L1364.58,1614.58 L1365.92,1614.91 L1367.25,1614.44 L1368.59,1614.45 L1369.93,1614.39 L1371.26,1614.47 L1372.6,1614.21 L1373.93,1613.98 L1375.27,1613.95 L1376.61,1614.12 L1377.94,1614.05 L1379.28,1613.69 L1380.62,1613.46 L1381.95,1613.7 L1383.29,1613.67 L1384.62,1613.78 L1385.96,1614.17 L1387.3,1614.75 L1388.63,1615.05 L1389.97,1615.54 L1391.31,1616.03 L1392.64,1616.31 L1393.98,1616.44 L1395.31,1616.48 L1396.65,1616.51 L1397.99,1616.54 L1399.32,1616.57 L1400.66,1616.6 L1402,1616.63 L1403.33,1616.65 L1404.67,1616.67 L1406,1616.69 L1407.34,1616.71 L1408.68,1616.73 L1410.01,1616.74 L1411.35,1616.76 L1412.68,1616.77 L1414.02,1616.78 L1415.36,1616.8 L1416.69,1616.81 L1418.03,1616.82 L1419.37,1616.83 L1420.7,1616.84 L1422.04,1616.85 L1423.37,1616.86 L1424.71,1616.87 L1426.05,1616.87 L1427.38,1616.88 L1428.72,1616.89 L1430.06,1616.9 L1431.39,1616.91 L1432.73,1616.92 L1434.06,1616.93 L1435.4,1616.94 L1436.74,1616.96 L1438.07,1616.97 L1439.41,1616.98 L1440.74,1617" fill="none" stroke="#3a1010" stroke-width="1.7" opacity="0.45"/>
<path d="M1140.1,1605.42 L1141.44,1604.88 L1142.77,1603.82 L1144.11,1602.86 L1145.44,1602.28 L1146.78,1602.18 L1148.12,1601.66 L1149.45,1601.14 L1150.79,1600.87 L1152.13,1600.97 L1153.46,1600.99 L1154.8,1601.17 L1156.13,1601.54 L1157.47,1602.11 L1158.81,1602.99 L1160.14,1603.98 L1161.48,1605.18 L1162.82,1606.15 L1164.15,1606.91 L1165.49,1607.26 L1166.82,1607.12 L1168.16,1607.49 L1169.5,1608.29 L1170.83,1609.11 L1172.17,1609.27 L1173.5,1609.48 L1174.84,1610.11 L1176.18,1610.59 L1177.51,1610.62 L1178.85,1610.53 L1180.19,1610.72 L1181.52,1611.4 L1182.86,1612.15 L1184.19,1612.44 L1185.53,1612.14 L1186.87,1612.05 L1188.2,1612.16 L1189.54,1612.38 L1190.88,1612.19 L1192.21,1611.89 L1193.55,1611.22 L1194.88,1610.37 L1196.22,1609.47 L1197.56,1608.42 L1198.89,1607.35 L1200.23,1606.09 L1201.57,1605.23 L1202.9,1604.64 L1204.24,1604.36 L1205.57,1604.24 L1206.91,1604.01 L1208.25,1604.2 L1209.58,1604.99 L1210.92,1606.34 L1212.25,1607.49 L1213.59,1608.22 L1214.93,1608.79 L1216.26,1608.75 L1217.6,1608.52 L1218.94,1608.05 L1220.27,1607.97 L1221.61,1607.81 L1222.94,1607.51 L1224.28,1607.15 L1225.62,1606.49 L1226.95,1606.16 L1228.29,1605.72 L1229.63,1605.49 L1230.96,1604.74 L1232.3,1604.46 L1233.63,1604.41 L1234.97,1604.64 L1236.31,1604.84 L1237.64,1605.18 L1238.98,1605.74 L1240.31,1606.41 L1241.65,1607.28 L1242.99,1608.17 L1244.32,1609 L1245.66,1609.65 L1247,1610.37 L1248.33,1611 L1249.67,1611.63 L1251,1611.95 L1252.34,1612.45 L1253.68,1612.61 L1255.01,1612.83 L1256.35,1612.55 L1257.69,1612.2 L1259.02,1612.06 L1260.36,1612.16 L1261.69,1612.01 L1263.03,1611.46 L1264.37,1611.11 L1265.7,1610.85 L1267.04,1610.69 L1268.38,1610.82 L1269.71,1610.8 L1271.05,1610.8 L1272.38,1610.54 L1273.72,1610.58 L1275.06,1610.41 L1276.39,1610.25 L1277.73,1609.92 L1279.06,1609.6 L1280.4,1609.57 L1281.74,1609.77 L1283.07,1609.82 L1284.41,1609.61 L1285.75,1609.92 L1287.08,1610.77 L1288.42,1611.28 L1289.75,1611.66 L1291.09,1612.14 L1292.43,1612.42 L1293.76,1612.59 L1295.1,1613 L1296.44,1613.39 L1297.77,1613.48 L1299.11,1613.5 L1300.44,1613.48 L1301.78,1613.59 L1303.12,1613.63 L1304.45,1613.37 L1305.79,1613.07 L1307.12,1613.37 L1308.46,1613.54 L1309.8,1613.43 L1311.13,1613.54 L1312.47,1613.77 L1313.81,1613.55 L1315.14,1613.02 L1316.48,1612.93 L1317.81,1613.23 L1319.15,1613.53 L1320.49,1613.69 L1321.82,1613.85 L1323.16,1613.91 L1324.5,1613.74 L1325.83,1613.53 L1327.17,1613.56 L1328.5,1613.4 L1329.84,1613.16 L1331.18,1613.11 L1332.51,1613.38 L1333.85,1613.78 L1335.19,1613.68 L1336.52,1613.62 L1337.86,1613.57 L1339.19,1613.78 L1340.53,1613.62 L1341.87,1613.23 L1343.2,1613.11 L1344.54,1613.47 L1345.87,1613.76 L1347.21,1613.69 L1348.55,1613.37 L1349.88,1613.53 L1351.22,1613.72 L1352.56,1614 L1353.89,1613.93 L1355.23,1613.94 L1356.56,1614.19 L1357.9,1614.46 L1359.24,1614.55 L1360.57,1614.52 L1361.91,1614.24 L1363.25,1614.42 L1364.58,1614.58 L1365.92,1614.91 L1367.25,1614.44 L1368.59,1614.45 L1369.93,1614.39 L1371.26,1614.47 L1372.6,1614.21 L1373.93,1613.98 L1375.27,1613.95 L1376.61,1614.12 L1377.94,1614.05 L1379.28,1613.69 L1380.62,1613.46 L1381.95,1613.7 L1383.29,1613.67 L1384.62,1613.78 L1385.96,1614.17 L1387.3,1614.75 L1388.63,1615.05 L1389.97,1615.54 L1391.31,1616.03 L1392.64,1616.31 L1393.98,1616.44 L1395.31,1616.48 L1396.65,1616.51 L1397.99,1616.54 L1399.32,1616.57 L1400.66,1616.6 L1402,1616.63 L1403.33,1616.65 L1404.67,1616.67 L1406,1616.69 L1407.34,1616.71 L1408.68,1616.73 L1410.01,1616.74 L1411.35,1616.76 L1412.68,1616.77 L1414.02,1616.78 L1415.36,1616.8 L1416.69,1616.81 L1418.03,1616.82 L1419.37,1616.83 L1420.7,1616.84 L1422.04,1616.85 L1423.37,1616.86 L1424.71,1616.87 L1426.05,1616.87 L1427.38,1616.88 L1428.72,1616.89 L1430.06,1616.9 L1431.39,1616.91 L1432.73,1616.92 L1434.06,1616.93 L1435.4,1616.94 L1436.74,1616.96 L1438.07,1616.97 L1439.41,1616.98 L1440.74,1617" fill="none" stroke="#e3242b" stroke-width="1.3"/>
<rect x="806" y="1537.5" width="668.5" height="79.5" fill="none" stroke="#2e2e2e" stroke-width="1.35"/>
<text x="1387" y="1561.7" font-family="'Liberation Serif', serif" font-size="18" fill="#111">MgZnH<tspan font-size="12.5" dy="5.5" dx="1.5">3</tspan></text>
<text x="800.3" y="1543.6" text-anchor="end" font-family="'Liberation Serif', serif" font-size="18.3" fill="#111">0.1</text>
<text x="800.3" y="1583.35" text-anchor="end" font-family="'Liberation Serif', serif" font-size="18.3" fill="#111">0.05</text>
<text x="800.3" y="1623.1" text-anchor="end" font-family="'Liberation Serif', serif" font-size="18.3" fill="#111">0</text>
<text transform="translate(781,721) rotate(-90)" text-anchor="middle" font-family="'Liberation Serif', serif" font-size="17.5" fill="#111" textLength="90" lengthAdjust="spacingAndGlyphs">DOS (-e/eV)</text>
<text x="873" y="725.5" font-family="'Liberation Serif', serif" font-size="18" fill="#111">(1<tspan font-style="italic">s</tspan>-<tspan font-style="italic">d</tspan>)</text>
<path d="M920,720.5 H945" stroke="#111" stroke-width="1.2"/><path d="M939,716.5 L946,720.5 L939,724.5" fill="none" stroke="#111" stroke-width="1.2"/>
<text x="1224" y="726" font-family="'Liberation Serif', serif" font-size="18" fill="#111">(1<tspan font-style="italic">s</tspan>-<tspan font-style="italic">d</tspan>)*</text>
<path d="M1247.7,729.5 V744" stroke="#111" stroke-width="1.2"/><path d="M1243.7,738 L1247.7,744.5 L1251.7,738" fill="none" stroke="#111" stroke-width="1.2"/>
<text x="1116" y="1099.3" font-family="'Liberation Serif', serif" font-size="17" font-style="italic" fill="#111">E<tspan font-size="12.5" dy="5.5">(1s-d)*</tspan></text>
<path d="M1135.4,1112.5 V1133" stroke="#111" stroke-width="1.2"/><path d="M1131.4,1126.5 L1135.4,1133.5 L1139.4,1126.5" fill="none" stroke="#111" stroke-width="1.2"/>
<text x="917.4" y="1637" text-anchor="middle" font-family="'Liberation Serif', serif" font-size="18.3" fill="#111">-10</text>
<text x="1140.1" y="1637" text-anchor="middle" font-family="'Liberation Serif', serif" font-size="18.3" fill="#111">0</text>
<text x="1362.8" y="1637" text-anchor="middle" font-family="'Liberation Serif', serif" font-size="18.3" fill="#111">10</text>
<text x="1019.5" y="1659.3" font-family="'Liberation Serif', serif" font-size="23.3" fill="#111">Energy relative to <tspan font-style="italic">E</tspan><tspan font-size="16.5" dy="6" dx="0.5">F</tspan><tspan dy="-6"> (eV)</tspan></text>
<text x="1140.3" y="644.8" text-anchor="middle" font-family="'Liberation Serif', serif" font-size="28" fill="#111" textLength="325" lengthAdjust="spacingAndGlyphs">The renormalized H 1s states</text>
<text x="1123.6" y="1700.3" text-anchor="middle" font-family="'Liberation Serif', serif" font-size="31" fill="#000" textLength="39.5" lengthAdjust="spacing">(<tspan font-weight="bold">d</tspan>)</text>
</g>
</svg>
</body></html>
